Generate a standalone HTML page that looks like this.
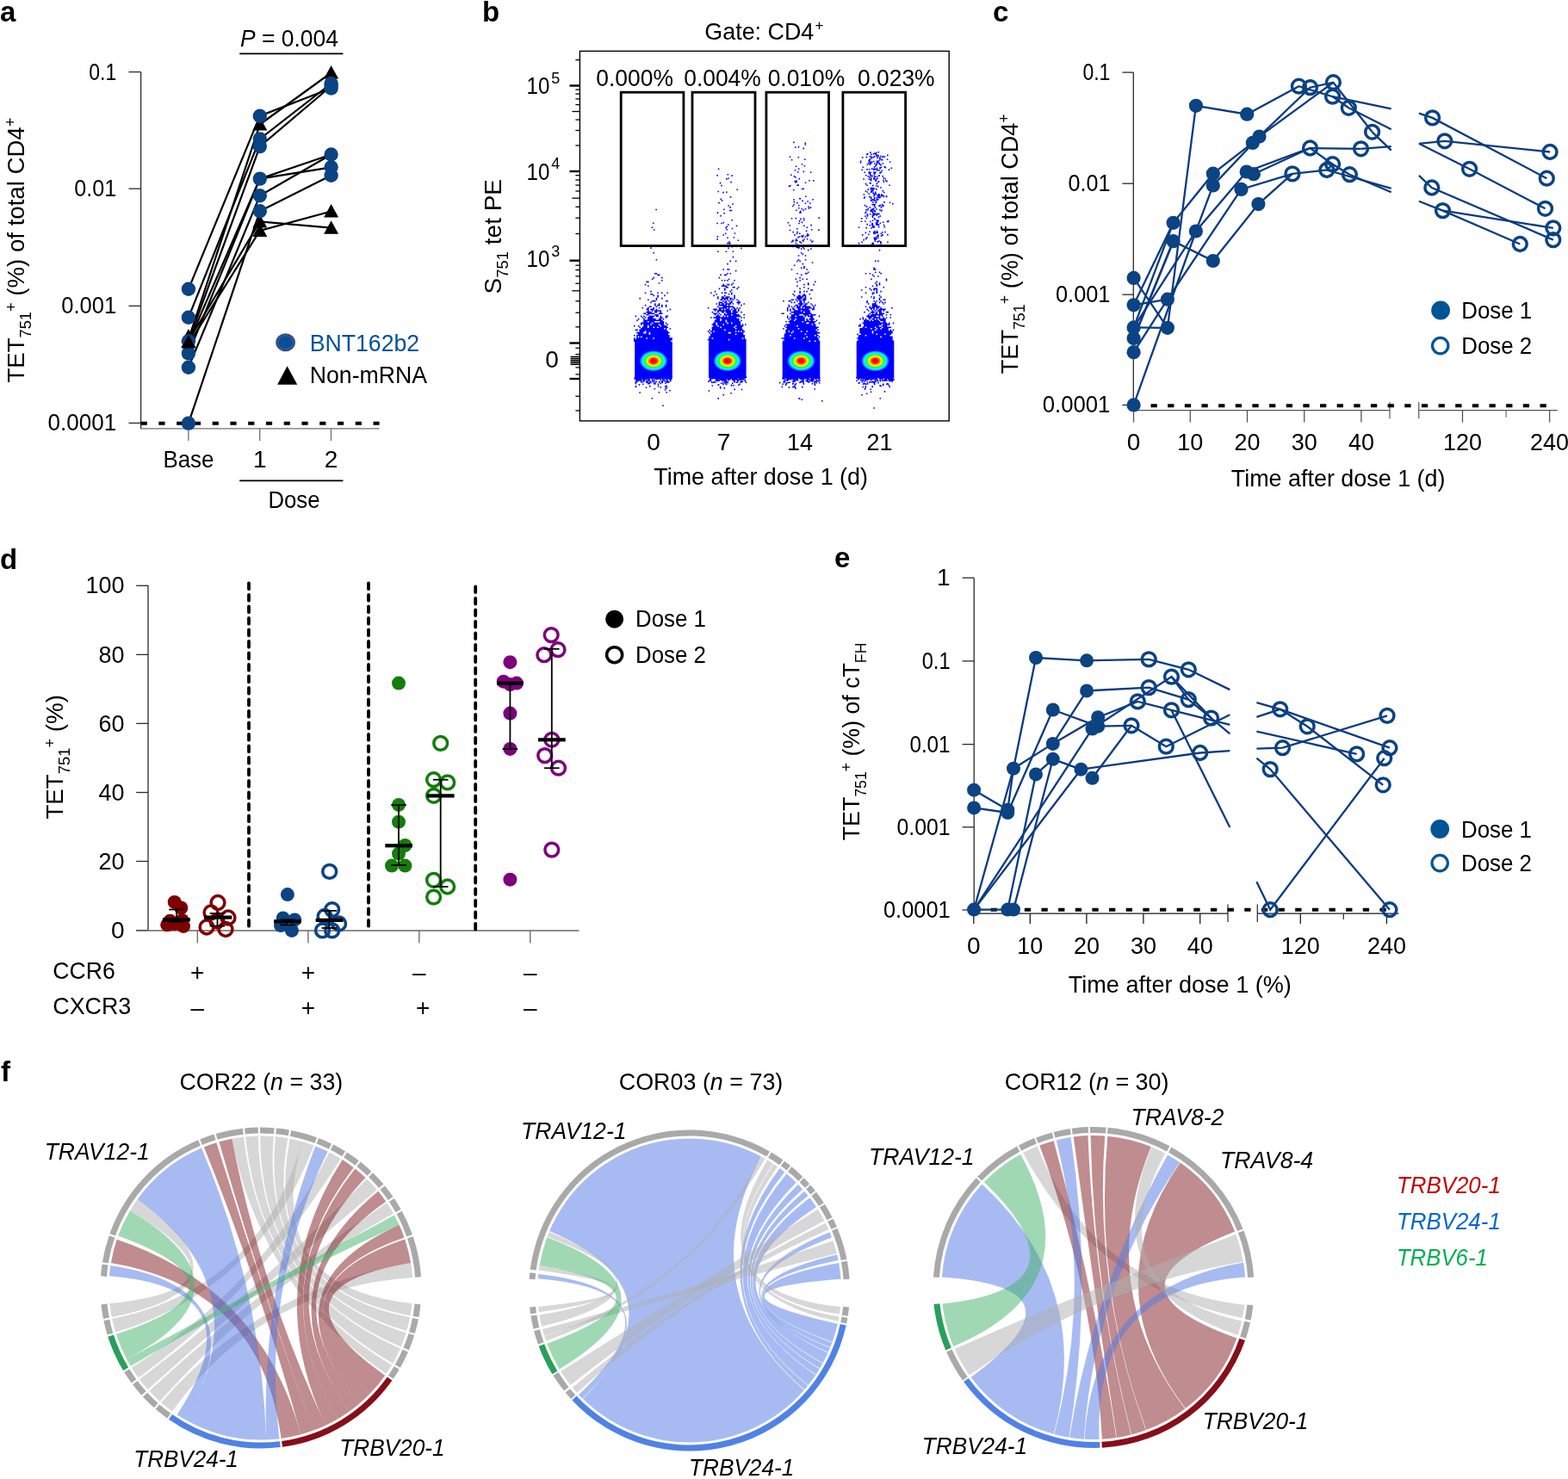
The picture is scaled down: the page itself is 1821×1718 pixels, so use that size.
<!DOCTYPE html>
<html><head><meta charset="utf-8"><title>Figure</title>
<style>html,body{margin:0;padding:0;background:#fff;} svg{display:block;}</style>
</head><body>
<svg width="1821" height="1718" viewBox="0 0 1821 1718" font-family="'Liberation Sans', Arial, Helvetica, sans-serif">
<text x="0" y="24.5" font-size="33" font-weight="bold">a</text>
<text x="560" y="24.5" font-size="33" font-weight="bold">b</text>
<text x="1153" y="24.5" font-size="33" font-weight="bold">c</text>
<text x="0" y="660.5" font-size="33" font-weight="bold">d</text>
<text x="969" y="659" font-size="33" font-weight="bold">e</text>
<text x="1" y="1256" font-size="33" font-weight="bold">f</text>
<line x1="163.6" y1="83.6" x2="163.6" y2="498.3" stroke="#2a2a2a" stroke-width="1.3"/>
<line x1="163" y1="497.8" x2="440.6" y2="497.8" stroke="#707070" stroke-width="1.3"/>
<line x1="149.5" y1="83.6" x2="163.6" y2="83.6" stroke="#2a2a2a" stroke-width="1.3"/>
<text x="135.2" y="92.5" font-size="28" text-anchor="end" textLength="32" lengthAdjust="spacingAndGlyphs">0.1</text>
<line x1="149.5" y1="219.2" x2="163.6" y2="219.2" stroke="#2a2a2a" stroke-width="1.3"/>
<text x="135.2" y="228.1" font-size="28" text-anchor="end" textLength="48.9" lengthAdjust="spacingAndGlyphs">0.01</text>
<line x1="149.5" y1="355.4" x2="163.6" y2="355.4" stroke="#2a2a2a" stroke-width="1.3"/>
<text x="135.2" y="364.3" font-size="28" text-anchor="end" textLength="63.9" lengthAdjust="spacingAndGlyphs">0.001</text>
<line x1="149.5" y1="491.4" x2="163.6" y2="491.4" stroke="#2a2a2a" stroke-width="1.3"/>
<text x="135.2" y="500.3" font-size="28" text-anchor="end" textLength="79.6" lengthAdjust="spacingAndGlyphs">0.0001</text>
<line x1="218.9" y1="497.8" x2="218.9" y2="512" stroke="#707070" stroke-width="1.3"/>
<line x1="301.7" y1="497.8" x2="301.7" y2="512" stroke="#707070" stroke-width="1.3"/>
<line x1="384.5" y1="497.8" x2="384.5" y2="512" stroke="#707070" stroke-width="1.3"/>
<text x="218.9" y="543.4" font-size="28" text-anchor="middle" textLength="59" lengthAdjust="spacingAndGlyphs">Base</text>
<text x="301.7" y="543.4" font-size="28" text-anchor="middle">1</text>
<text x="384.5" y="543.4" font-size="28" text-anchor="middle">2</text>
<line x1="278.2" y1="558.4" x2="398.4" y2="558.4" stroke="#000" stroke-width="1.6"/>
<text x="341.5" y="589.5" font-size="28" text-anchor="middle" textLength="60" lengthAdjust="spacingAndGlyphs">Dose</text>
<text x="279" y="53.8" font-size="28" textLength="114" lengthAdjust="spacingAndGlyphs"><tspan font-style="italic">P</tspan> = 0.004</text>
<line x1="278.2" y1="62.4" x2="398.4" y2="62.4" stroke="#000" stroke-width="1.6"/>
<line x1="163.6" y1="491.7" x2="440.6" y2="491.7" stroke="#000" stroke-width="3.9" stroke-dasharray="7.2 13.56"/>
<polyline points="218.9,335.8 301.8,134.7 384.6,102.5" fill="none" stroke="#000" stroke-width="2.2"/>
<polyline points="218.9,368.8 301.8,161.4 384.6,97" fill="none" stroke="#000" stroke-width="2.2"/>
<polyline points="218.9,396.2 301.8,170.1 384.6,100" fill="none" stroke="#000" stroke-width="2.2"/>
<polyline points="218.9,410.4 301.8,207.6 384.6,179.5" fill="none" stroke="#000" stroke-width="2.2"/>
<polyline points="218.9,398 301.8,207.6 384.6,194.3" fill="none" stroke="#000" stroke-width="2.2"/>
<polyline points="218.9,426.8 301.8,227.3 384.6,179.5" fill="none" stroke="#000" stroke-width="2.2"/>
<polyline points="218.9,491.6 301.8,245.2 384.6,203.7" fill="none" stroke="#000" stroke-width="2.2"/>
<polyline points="218.9,394 301.8,144.5 384.6,84.5" fill="none" stroke="#000" stroke-width="2.2"/>
<polyline points="218.9,396 301.8,257.5 384.6,264.7" fill="none" stroke="#000" stroke-width="2.2"/>
<polyline points="218.9,400 301.8,268 384.6,245.5" fill="none" stroke="#000" stroke-width="2.2"/>
<polygon points="218.9,382 227.4,397.5 210.4,397.5" fill="#000"/>
<polygon points="218.9,388 227.4,403.5 210.4,403.5" fill="#000"/>
<polygon points="301.8,136 310.3,151.5 293.3,151.5" fill="#000"/>
<polygon points="301.8,249 310.3,264.5 293.3,264.5" fill="#000"/>
<polygon points="301.8,259.5 310.3,275 293.3,275" fill="#000"/>
<polygon points="384.6,76 393.1,91.5 376.1,91.5" fill="#000"/>
<polygon points="384.6,237 393.1,252.5 376.1,252.5" fill="#000"/>
<polygon points="384.6,256.2 393.1,271.7 376.1,271.7" fill="#000"/>
<circle cx="218.9" cy="335.8" r="8.2" fill="#0b4383"/>
<circle cx="218.9" cy="368.8" r="8.2" fill="#0b4383"/>
<circle cx="218.9" cy="396.2" r="8.2" fill="#0b4383"/>
<circle cx="218.9" cy="410.4" r="8.2" fill="#0b4383"/>
<circle cx="218.9" cy="426.8" r="8.2" fill="#0b4383"/>
<circle cx="218.9" cy="491.6" r="8.2" fill="#0b4383"/>
<circle cx="301.8" cy="134.7" r="8.2" fill="#0b4383"/>
<circle cx="301.8" cy="161.4" r="8.2" fill="#0b4383"/>
<circle cx="301.8" cy="170.1" r="8.2" fill="#0b4383"/>
<circle cx="301.8" cy="207.6" r="8.2" fill="#0b4383"/>
<circle cx="301.8" cy="227.3" r="8.2" fill="#0b4383"/>
<circle cx="301.8" cy="245.2" r="8.2" fill="#0b4383"/>
<circle cx="384.6" cy="97" r="8.2" fill="#0b4383"/>
<circle cx="384.6" cy="100" r="8.2" fill="#0b4383"/>
<circle cx="384.6" cy="102.5" r="8.2" fill="#0b4383"/>
<circle cx="384.6" cy="179.5" r="8.2" fill="#0b4383"/>
<circle cx="384.6" cy="194.3" r="8.2" fill="#0b4383"/>
<circle cx="384.6" cy="203.7" r="8.2" fill="#0b4383"/>
<polygon points="218.9,389 227.4,404.5 210.4,404.5" fill="#000"/>
<ellipse cx="331.6" cy="397.7" rx="9.6" ry="8.7" fill="#005296" stroke="#34508f" stroke-width="3.6"/>
<text x="359.7" y="407.6" font-size="28" fill="#005296" textLength="127.5" lengthAdjust="spacingAndGlyphs">BNT162b2</text>
<polygon points="333.6,425.2 345.2,446.7 322.1,446.7" fill="#000"/>
<text x="359.7" y="445.2" font-size="28" textLength="136.5" lengthAdjust="spacingAndGlyphs">Non-mRNA</text>
<text transform="translate(27.7,444.6) rotate(-90)" font-size="28" textLength="308" lengthAdjust="spacingAndGlyphs">TET<tspan font-size="18.5" dy="8">751</tspan><tspan font-size="18.5" dy="-17">+</tspan><tspan dy="9"> (%) of total CD4</tspan><tspan font-size="18.5" dy="-10">+</tspan></text>
<defs><radialGradient id="jet" cx="0.5" cy="0.5" r="0.5"><stop offset="0" stop-color="#ff0000"/><stop offset="0.2" stop-color="#ff0800"/><stop offset="0.34" stop-color="#ff9000"/><stop offset="0.45" stop-color="#ffff00"/><stop offset="0.6" stop-color="#10ff30"/><stop offset="0.76" stop-color="#00ffff"/><stop offset="0.88" stop-color="#2a8cff"/><stop offset="1" stop-color="#0000ff"/></radialGradient></defs>
<text x="818.3" y="46.4" font-size="28" textLength="127" lengthAdjust="spacingAndGlyphs">Gate: CD4</text>
<text x="946.5" y="35" font-size="17">+</text>
<rect x="673.4" y="59.4" width="428.8" height="429.5" fill="none" stroke="#000" stroke-width="1.4"/>
<text x="737.1" y="100.2" font-size="28" text-anchor="middle" textLength="89.5" lengthAdjust="spacingAndGlyphs">0.000%</text>
<text x="839" y="100.2" font-size="28" text-anchor="middle" textLength="89.5" lengthAdjust="spacingAndGlyphs">0.004%</text>
<text x="936.4" y="100.2" font-size="28" text-anchor="middle" textLength="89.5" lengthAdjust="spacingAndGlyphs">0.010%</text>
<text x="1040.8" y="100.2" font-size="28" text-anchor="middle" textLength="89.5" lengthAdjust="spacingAndGlyphs">0.023%</text>
<line x1="668.4" y1="169" x2="673.4" y2="169" stroke="#000" stroke-width="1.3"/>
<line x1="668.4" y1="271.5" x2="673.4" y2="271.5" stroke="#000" stroke-width="1.3"/>
<line x1="668.4" y1="151.5" x2="673.4" y2="151.5" stroke="#000" stroke-width="1.3"/>
<line x1="668.4" y1="253.2" x2="673.4" y2="253.2" stroke="#000" stroke-width="1.3"/>
<line x1="668.4" y1="139.1" x2="673.4" y2="139.1" stroke="#000" stroke-width="1.3"/>
<line x1="668.4" y1="240.3" x2="673.4" y2="240.3" stroke="#000" stroke-width="1.3"/>
<line x1="664.4" y1="129.5" x2="673.4" y2="129.5" stroke="#000" stroke-width="1.3"/>
<line x1="664.4" y1="230.2" x2="673.4" y2="230.2" stroke="#000" stroke-width="1.3"/>
<line x1="668.4" y1="121.6" x2="673.4" y2="121.6" stroke="#000" stroke-width="1.3"/>
<line x1="668.4" y1="222" x2="673.4" y2="222" stroke="#000" stroke-width="1.3"/>
<line x1="668.4" y1="114.9" x2="673.4" y2="114.9" stroke="#000" stroke-width="1.3"/>
<line x1="668.4" y1="215.1" x2="673.4" y2="215.1" stroke="#000" stroke-width="1.3"/>
<line x1="668.4" y1="109.1" x2="673.4" y2="109.1" stroke="#000" stroke-width="1.3"/>
<line x1="668.4" y1="209" x2="673.4" y2="209" stroke="#000" stroke-width="1.3"/>
<line x1="668.4" y1="104.1" x2="673.4" y2="104.1" stroke="#000" stroke-width="1.3"/>
<line x1="668.4" y1="203.7" x2="673.4" y2="203.7" stroke="#000" stroke-width="1.3"/>
<line x1="668.4" y1="69.6" x2="673.4" y2="69.6" stroke="#000" stroke-width="1.3"/>
<line x1="668.4" y1="308.2" x2="673.4" y2="308.2" stroke="#000" stroke-width="1.3"/>
<line x1="668.4" y1="313.6" x2="673.4" y2="313.6" stroke="#000" stroke-width="1.3"/>
<line x1="668.4" y1="320.9" x2="673.4" y2="320.9" stroke="#000" stroke-width="1.3"/>
<line x1="668.4" y1="329.3" x2="673.4" y2="329.3" stroke="#000" stroke-width="1.3"/>
<line x1="668.4" y1="349.7" x2="673.4" y2="349.7" stroke="#000" stroke-width="1.3"/>
<line x1="668.4" y1="363.2" x2="673.4" y2="363.2" stroke="#000" stroke-width="1.3"/>
<line x1="668.4" y1="379.8" x2="673.4" y2="379.8" stroke="#000" stroke-width="1.3"/>
<line x1="668.4" y1="404.3" x2="673.4" y2="404.3" stroke="#000" stroke-width="1.3"/>
<line x1="668.4" y1="411.6" x2="673.4" y2="411.6" stroke="#000" stroke-width="1.3"/>
<line x1="668.4" y1="426.9" x2="673.4" y2="426.9" stroke="#000" stroke-width="1.3"/>
<line x1="668.4" y1="434.9" x2="673.4" y2="434.9" stroke="#000" stroke-width="1.3"/>
<line x1="668.4" y1="460.3" x2="673.4" y2="460.3" stroke="#000" stroke-width="1.3"/>
<line x1="668.4" y1="477" x2="673.4" y2="477" stroke="#000" stroke-width="1.3"/>
<line x1="664.4" y1="337.8" x2="673.4" y2="337.8" stroke="#000" stroke-width="1.3"/>
<line x1="661.5" y1="99.5" x2="673.4" y2="99.5" stroke="#000" stroke-width="2.4"/>
<line x1="661.5" y1="199" x2="673.4" y2="199" stroke="#000" stroke-width="2.4"/>
<line x1="661.5" y1="302.7" x2="673.4" y2="302.7" stroke="#000" stroke-width="2.4"/>
<line x1="661.5" y1="398.5" x2="673.4" y2="398.5" stroke="#000" stroke-width="2.4"/>
<line x1="661.5" y1="440" x2="673.4" y2="440" stroke="#000" stroke-width="2.4"/>
<line x1="662.5" y1="414.5" x2="673.4" y2="414.5" stroke="#000" stroke-width="1.6"/>
<line x1="662.5" y1="416.7" x2="673.4" y2="416.7" stroke="#000" stroke-width="1.6"/>
<line x1="662.5" y1="418.9" x2="673.4" y2="418.9" stroke="#000" stroke-width="1.6"/>
<line x1="662.5" y1="421.1" x2="673.4" y2="421.1" stroke="#000" stroke-width="1.6"/>
<line x1="662.5" y1="423.3" x2="673.4" y2="423.3" stroke="#000" stroke-width="1.6"/>
<text x="611.6" y="109.4" font-size="28" textLength="26.8" lengthAdjust="spacingAndGlyphs">10</text>
<text x="640.2" y="97.1" font-size="18">5</text>
<text x="611.6" y="208.5" font-size="28" textLength="26.8" lengthAdjust="spacingAndGlyphs">10</text>
<text x="640.2" y="196.2" font-size="18">4</text>
<text x="611.6" y="310.4" font-size="28" textLength="26.8" lengthAdjust="spacingAndGlyphs">10</text>
<text x="640.2" y="298.1" font-size="18">3</text>
<text x="648.8" y="426.9" font-size="28" text-anchor="end">0</text>
<text x="759" y="523.2" font-size="28" text-anchor="middle">0</text>
<text x="840.6" y="523.2" font-size="28" text-anchor="middle">7</text>
<text x="929" y="523.2" font-size="28" text-anchor="middle" textLength="30" lengthAdjust="spacingAndGlyphs">14</text>
<text x="1021.5" y="523.2" font-size="28" text-anchor="middle" textLength="30" lengthAdjust="spacingAndGlyphs">21</text>
<text x="759.3" y="563" font-size="28" textLength="248.7" lengthAdjust="spacingAndGlyphs">Time after dose 1 (d)</text>
<text transform="translate(582.2,341.4) rotate(-90)" font-size="28" textLength="133.4" lengthAdjust="spacingAndGlyphs">S<tspan font-size="18.5" dy="8">751</tspan><tspan dy="-8"> tet PE</tspan></text>
<rect x="737.2" y="397" width="43.6" height="42" fill="#0000ff"/>
<rect x="823.0" y="397" width="43.6" height="42" fill="#0000ff"/>
<rect x="908.7" y="397" width="43.6" height="42" fill="#0000ff"/>
<rect x="994.7" y="397" width="43.6" height="42" fill="#0000ff"/>
<path d="M750.6 438.1h1.6v1.6h-1.6zM764.8 437.8h1.6v1.6h-1.6zM759.8 439.1h1.6v1.6h-1.6zM739.0 440.0h1.6v1.6h-1.6zM738.1 439.5h1.6v1.6h-1.6zM739.5 437.8h1.6v1.6h-1.6zM755.0 443.6h1.6v1.6h-1.6zM741.9 438.4h1.6v1.6h-1.6zM763.8 447.8h1.6v1.6h-1.6zM761.6 439.3h1.6v1.6h-1.6zM779.0 437.7h1.6v1.6h-1.6zM773.8 438.7h1.6v1.6h-1.6zM742.8 437.9h1.6v1.6h-1.6zM749.9 443.4h1.6v1.6h-1.6zM744.4 440.5h1.6v1.6h-1.6zM764.3 439.1h1.6v1.6h-1.6zM760.3 437.7h1.6v1.6h-1.6zM739.1 438.3h1.6v1.6h-1.6zM766.1 439.5h1.6v1.6h-1.6zM750.2 440.6h1.6v1.6h-1.6zM756.2 438.7h1.6v1.6h-1.6zM771.1 441.7h1.6v1.6h-1.6zM747.1 440.5h1.6v1.6h-1.6zM759.3 444.8h1.6v1.6h-1.6zM768.2 438.7h1.6v1.6h-1.6zM779.1 437.9h1.6v1.6h-1.6zM754.7 442.5h1.6v1.6h-1.6zM743.1 439.8h1.6v1.6h-1.6zM738.2 441.4h1.6v1.6h-1.6zM769.8 440.5h1.6v1.6h-1.6zM774.6 438.8h1.6v1.6h-1.6zM766.7 440.7h1.6v1.6h-1.6zM761.7 439.6h1.6v1.6h-1.6zM773.0 447.6h1.6v1.6h-1.6zM757.1 441.3h1.6v1.6h-1.6zM739.1 441.7h1.6v1.6h-1.6zM764.7 454.9h1.6v1.6h-1.6zM772.3 438.7h1.6v1.6h-1.6zM753.3 441.4h1.6v1.6h-1.6zM737.5 439.7h1.6v1.6h-1.6zM743.8 437.9h1.6v1.6h-1.6zM739.1 442.6h1.6v1.6h-1.6zM742.1 438.5h1.6v1.6h-1.6zM753.5 444.7h1.6v1.6h-1.6zM740.0 439.6h1.6v1.6h-1.6zM760.4 445.0h1.6v1.6h-1.6zM772.1 444.5h1.6v1.6h-1.6zM748.6 439.4h1.6v1.6h-1.6zM752.1 445.0h1.6v1.6h-1.6zM778.2 438.1h1.6v1.6h-1.6zM744.2 438.4h1.6v1.6h-1.6zM746.7 439.8h1.6v1.6h-1.6zM762.1 438.6h1.6v1.6h-1.6zM736.7 439.4h1.6v1.6h-1.6zM752.6 440.4h1.6v1.6h-1.6zM778.0 441.6h1.6v1.6h-1.6zM758.9 440.9h1.6v1.6h-1.6zM765.9 437.7h1.6v1.6h-1.6zM775.6 442.8h1.6v1.6h-1.6zM774.5 443.1h1.6v1.6h-1.6zM753.6 439.3h1.6v1.6h-1.6zM741.0 441.0h1.6v1.6h-1.6zM739.2 437.7h1.6v1.6h-1.6zM745.6 438.1h1.6v1.6h-1.6zM751.3 437.7h1.6v1.6h-1.6zM736.5 438.1h1.6v1.6h-1.6zM740.9 439.1h1.6v1.6h-1.6zM737.6 444.8h1.6v1.6h-1.6zM763.2 438.1h1.6v1.6h-1.6zM747.5 439.0h1.6v1.6h-1.6zM752.3 438.0h1.6v1.6h-1.6zM773.4 454.9h1.6v1.6h-1.6zM756.8 439.8h1.6v1.6h-1.6zM740.2 437.9h1.6v1.6h-1.6zM751.4 438.6h1.6v1.6h-1.6zM772.6 438.1h1.6v1.6h-1.6zM737.5 448.1h1.6v1.6h-1.6zM759.5 438.1h1.6v1.6h-1.6zM760.1 437.6h1.6v1.6h-1.6zM759.5 450.9h1.6v1.6h-1.6zM774.1 441.7h1.6v1.6h-1.6zM747.9 439.1h1.6v1.6h-1.6zM743.8 442.7h1.6v1.6h-1.6zM759.7 442.8h1.6v1.6h-1.6zM750.8 438.4h1.6v1.6h-1.6zM771.8 452.2h1.6v1.6h-1.6zM773.6 443.2h1.6v1.6h-1.6zM772.1 442.2h1.6v1.6h-1.6zM746.4 440.1h1.6v1.6h-1.6zM752.0 437.6h1.6v1.6h-1.6zM737.7 438.6h1.6v1.6h-1.6zM747.8 441.6h1.6v1.6h-1.6zM778.1 439.6h1.6v1.6h-1.6zM777.3 453.0h1.6v1.6h-1.6zM778.0 439.1h1.6v1.6h-1.6zM746.1 438.4h1.6v1.6h-1.6zM745.1 438.3h1.6v1.6h-1.6zM763.6 445.6h1.6v1.6h-1.6zM773.1 439.8h1.6v1.6h-1.6zM764.9 443.1h1.6v1.6h-1.6zM740.2 441.3h1.6v1.6h-1.6zM776.1 442.8h1.6v1.6h-1.6zM769.1 439.8h1.6v1.6h-1.6zM744.3 442.9h1.6v1.6h-1.6zM751.0 443.1h1.6v1.6h-1.6zM778.8 439.3h1.6v1.6h-1.6zM754.0 447.8h1.6v1.6h-1.6zM768.0 438.2h1.6v1.6h-1.6zM742.0 438.1h1.6v1.6h-1.6zM775.9 443.2h1.6v1.6h-1.6zM769.2 470.5h1.6v1.6h-1.6zM772.4 450.5h1.6v1.6h-1.6zM752.3 444.0h1.6v1.6h-1.6zM768.2 443.1h1.6v1.6h-1.6zM771.8 448.2h1.6v1.6h-1.6zM756.6 462.0h1.6v1.6h-1.6zM742.3 455.2h1.6v1.6h-1.6zM766.4 444.7h1.6v1.6h-1.6zM758.9 444.9h1.6v1.6h-1.6zM766.5 449.2h1.6v1.6h-1.6zM736.0 395.4h1.6v1.6h-1.6zM737.6 395.4h1.6v1.6h-1.6zM739.2 395.4h1.6v1.6h-1.6zM740.8 395.4h1.6v1.6h-1.6zM742.4 395.4h1.6v1.6h-1.6zM744.0 395.4h1.6v1.6h-1.6zM745.6 395.4h1.6v1.6h-1.6zM747.2 395.4h1.6v1.6h-1.6zM748.8 395.4h1.6v1.6h-1.6zM750.4 395.4h1.6v1.6h-1.6zM752.0 395.4h1.6v1.6h-1.6zM753.6 395.4h1.6v1.6h-1.6zM755.2 395.4h1.6v1.6h-1.6zM756.8 395.4h1.6v1.6h-1.6zM758.4 395.4h1.6v1.6h-1.6zM760.0 395.4h1.6v1.6h-1.6zM761.6 395.4h1.6v1.6h-1.6zM763.2 395.4h1.6v1.6h-1.6zM764.8 395.4h1.6v1.6h-1.6zM766.4 395.4h1.6v1.6h-1.6zM768.0 395.4h1.6v1.6h-1.6zM769.6 395.4h1.6v1.6h-1.6zM771.2 395.4h1.6v1.6h-1.6zM772.8 395.4h1.6v1.6h-1.6zM774.4 395.4h1.6v1.6h-1.6zM776.0 395.4h1.6v1.6h-1.6zM777.6 395.4h1.6v1.6h-1.6zM736.0 393.8h1.6v1.6h-1.6zM737.6 393.8h1.6v1.6h-1.6zM739.2 393.8h1.6v1.6h-1.6zM740.8 393.8h1.6v1.6h-1.6zM742.4 393.8h1.6v1.6h-1.6zM744.0 393.8h1.6v1.6h-1.6zM745.6 393.8h1.6v1.6h-1.6zM747.2 393.8h1.6v1.6h-1.6zM748.8 393.8h1.6v1.6h-1.6zM750.4 393.8h1.6v1.6h-1.6zM752.0 393.8h1.6v1.6h-1.6zM753.6 393.8h1.6v1.6h-1.6zM755.2 393.8h1.6v1.6h-1.6zM756.8 393.8h1.6v1.6h-1.6zM758.4 393.8h1.6v1.6h-1.6zM760.0 393.8h1.6v1.6h-1.6zM761.6 393.8h1.6v1.6h-1.6zM763.2 393.8h1.6v1.6h-1.6zM764.8 393.8h1.6v1.6h-1.6zM766.4 393.8h1.6v1.6h-1.6zM768.0 393.8h1.6v1.6h-1.6zM769.6 393.8h1.6v1.6h-1.6zM771.2 393.8h1.6v1.6h-1.6zM772.8 393.8h1.6v1.6h-1.6zM774.4 393.8h1.6v1.6h-1.6zM776.0 393.8h1.6v1.6h-1.6zM777.6 393.8h1.6v1.6h-1.6zM779.2 393.8h1.6v1.6h-1.6zM736.0 392.2h1.6v1.6h-1.6zM739.2 392.2h1.6v1.6h-1.6zM740.8 392.2h1.6v1.6h-1.6zM742.4 392.2h1.6v1.6h-1.6zM744.0 392.2h1.6v1.6h-1.6zM745.6 392.2h1.6v1.6h-1.6zM747.2 392.2h1.6v1.6h-1.6zM748.8 392.2h1.6v1.6h-1.6zM752.0 392.2h1.6v1.6h-1.6zM753.6 392.2h1.6v1.6h-1.6zM755.2 392.2h1.6v1.6h-1.6zM756.8 392.2h1.6v1.6h-1.6zM760.0 392.2h1.6v1.6h-1.6zM761.6 392.2h1.6v1.6h-1.6zM763.2 392.2h1.6v1.6h-1.6zM764.8 392.2h1.6v1.6h-1.6zM766.4 392.2h1.6v1.6h-1.6zM768.0 392.2h1.6v1.6h-1.6zM769.6 392.2h1.6v1.6h-1.6zM771.2 392.2h1.6v1.6h-1.6zM772.8 392.2h1.6v1.6h-1.6zM774.4 392.2h1.6v1.6h-1.6zM776.0 392.2h1.6v1.6h-1.6zM777.6 392.2h1.6v1.6h-1.6zM779.2 392.2h1.6v1.6h-1.6zM739.2 390.6h1.6v1.6h-1.6zM742.4 390.6h1.6v1.6h-1.6zM745.6 390.6h1.6v1.6h-1.6zM747.2 390.6h1.6v1.6h-1.6zM748.8 390.6h1.6v1.6h-1.6zM750.4 390.6h1.6v1.6h-1.6zM752.0 390.6h1.6v1.6h-1.6zM753.6 390.6h1.6v1.6h-1.6zM755.2 390.6h1.6v1.6h-1.6zM756.8 390.6h1.6v1.6h-1.6zM758.4 390.6h1.6v1.6h-1.6zM760.0 390.6h1.6v1.6h-1.6zM761.6 390.6h1.6v1.6h-1.6zM763.2 390.6h1.6v1.6h-1.6zM764.8 390.6h1.6v1.6h-1.6zM766.4 390.6h1.6v1.6h-1.6zM768.0 390.6h1.6v1.6h-1.6zM769.6 390.6h1.6v1.6h-1.6zM771.2 390.6h1.6v1.6h-1.6zM772.8 390.6h1.6v1.6h-1.6zM774.4 390.6h1.6v1.6h-1.6zM776.0 390.6h1.6v1.6h-1.6zM736.0 389.0h1.6v1.6h-1.6zM739.2 389.0h1.6v1.6h-1.6zM740.8 389.0h1.6v1.6h-1.6zM742.4 389.0h1.6v1.6h-1.6zM744.0 389.0h1.6v1.6h-1.6zM745.6 389.0h1.6v1.6h-1.6zM747.2 389.0h1.6v1.6h-1.6zM748.8 389.0h1.6v1.6h-1.6zM750.4 389.0h1.6v1.6h-1.6zM752.0 389.0h1.6v1.6h-1.6zM753.6 389.0h1.6v1.6h-1.6zM755.2 389.0h1.6v1.6h-1.6zM756.8 389.0h1.6v1.6h-1.6zM758.4 389.0h1.6v1.6h-1.6zM760.0 389.0h1.6v1.6h-1.6zM761.6 389.0h1.6v1.6h-1.6zM763.2 389.0h1.6v1.6h-1.6zM764.8 389.0h1.6v1.6h-1.6zM766.4 389.0h1.6v1.6h-1.6zM768.0 389.0h1.6v1.6h-1.6zM769.6 389.0h1.6v1.6h-1.6zM771.2 389.0h1.6v1.6h-1.6zM772.8 389.0h1.6v1.6h-1.6zM774.4 389.0h1.6v1.6h-1.6zM776.0 389.0h1.6v1.6h-1.6zM740.8 387.4h1.6v1.6h-1.6zM742.4 387.4h1.6v1.6h-1.6zM744.0 387.4h1.6v1.6h-1.6zM745.6 387.4h1.6v1.6h-1.6zM747.2 387.4h1.6v1.6h-1.6zM748.8 387.4h1.6v1.6h-1.6zM750.4 387.4h1.6v1.6h-1.6zM752.0 387.4h1.6v1.6h-1.6zM755.2 387.4h1.6v1.6h-1.6zM756.8 387.4h1.6v1.6h-1.6zM758.4 387.4h1.6v1.6h-1.6zM760.0 387.4h1.6v1.6h-1.6zM761.6 387.4h1.6v1.6h-1.6zM763.2 387.4h1.6v1.6h-1.6zM764.8 387.4h1.6v1.6h-1.6zM766.4 387.4h1.6v1.6h-1.6zM768.0 387.4h1.6v1.6h-1.6zM769.6 387.4h1.6v1.6h-1.6zM771.2 387.4h1.6v1.6h-1.6zM772.8 387.4h1.6v1.6h-1.6zM774.4 387.4h1.6v1.6h-1.6zM739.2 385.8h1.6v1.6h-1.6zM740.8 385.8h1.6v1.6h-1.6zM742.4 385.8h1.6v1.6h-1.6zM744.0 385.8h1.6v1.6h-1.6zM745.6 385.8h1.6v1.6h-1.6zM750.4 385.8h1.6v1.6h-1.6zM752.0 385.8h1.6v1.6h-1.6zM755.2 385.8h1.6v1.6h-1.6zM756.8 385.8h1.6v1.6h-1.6zM758.4 385.8h1.6v1.6h-1.6zM760.0 385.8h1.6v1.6h-1.6zM761.6 385.8h1.6v1.6h-1.6zM763.2 385.8h1.6v1.6h-1.6zM764.8 385.8h1.6v1.6h-1.6zM766.4 385.8h1.6v1.6h-1.6zM768.0 385.8h1.6v1.6h-1.6zM769.6 385.8h1.6v1.6h-1.6zM771.2 385.8h1.6v1.6h-1.6zM772.8 385.8h1.6v1.6h-1.6zM774.4 385.8h1.6v1.6h-1.6zM776.0 385.8h1.6v1.6h-1.6zM742.4 384.2h1.6v1.6h-1.6zM744.0 384.2h1.6v1.6h-1.6zM745.6 384.2h1.6v1.6h-1.6zM747.2 384.2h1.6v1.6h-1.6zM750.4 384.2h1.6v1.6h-1.6zM752.0 384.2h1.6v1.6h-1.6zM753.6 384.2h1.6v1.6h-1.6zM755.2 384.2h1.6v1.6h-1.6zM756.8 384.2h1.6v1.6h-1.6zM758.4 384.2h1.6v1.6h-1.6zM760.0 384.2h1.6v1.6h-1.6zM761.6 384.2h1.6v1.6h-1.6zM763.2 384.2h1.6v1.6h-1.6zM764.8 384.2h1.6v1.6h-1.6zM766.4 384.2h1.6v1.6h-1.6zM768.0 384.2h1.6v1.6h-1.6zM769.6 384.2h1.6v1.6h-1.6zM771.2 384.2h1.6v1.6h-1.6zM772.8 384.2h1.6v1.6h-1.6zM774.4 384.2h1.6v1.6h-1.6zM737.6 382.6h1.6v1.6h-1.6zM739.2 382.6h1.6v1.6h-1.6zM742.4 382.6h1.6v1.6h-1.6zM744.0 382.6h1.6v1.6h-1.6zM745.6 382.6h1.6v1.6h-1.6zM747.2 382.6h1.6v1.6h-1.6zM748.8 382.6h1.6v1.6h-1.6zM750.4 382.6h1.6v1.6h-1.6zM752.0 382.6h1.6v1.6h-1.6zM753.6 382.6h1.6v1.6h-1.6zM755.2 382.6h1.6v1.6h-1.6zM756.8 382.6h1.6v1.6h-1.6zM758.4 382.6h1.6v1.6h-1.6zM760.0 382.6h1.6v1.6h-1.6zM761.6 382.6h1.6v1.6h-1.6zM763.2 382.6h1.6v1.6h-1.6zM764.8 382.6h1.6v1.6h-1.6zM766.4 382.6h1.6v1.6h-1.6zM768.0 382.6h1.6v1.6h-1.6zM769.6 382.6h1.6v1.6h-1.6zM771.2 382.6h1.6v1.6h-1.6zM772.8 382.6h1.6v1.6h-1.6zM744.0 381.0h1.6v1.6h-1.6zM745.6 381.0h1.6v1.6h-1.6zM747.2 381.0h1.6v1.6h-1.6zM748.8 381.0h1.6v1.6h-1.6zM750.4 381.0h1.6v1.6h-1.6zM752.0 381.0h1.6v1.6h-1.6zM753.6 381.0h1.6v1.6h-1.6zM755.2 381.0h1.6v1.6h-1.6zM756.8 381.0h1.6v1.6h-1.6zM758.4 381.0h1.6v1.6h-1.6zM760.0 381.0h1.6v1.6h-1.6zM761.6 381.0h1.6v1.6h-1.6zM763.2 381.0h1.6v1.6h-1.6zM764.8 381.0h1.6v1.6h-1.6zM766.4 381.0h1.6v1.6h-1.6zM768.0 381.0h1.6v1.6h-1.6zM769.6 381.0h1.6v1.6h-1.6zM772.8 381.0h1.6v1.6h-1.6zM777.6 381.0h1.6v1.6h-1.6zM742.4 379.4h1.6v1.6h-1.6zM745.6 379.4h1.6v1.6h-1.6zM747.2 379.4h1.6v1.6h-1.6zM748.8 379.4h1.6v1.6h-1.6zM750.4 379.4h1.6v1.6h-1.6zM753.6 379.4h1.6v1.6h-1.6zM755.2 379.4h1.6v1.6h-1.6zM756.8 379.4h1.6v1.6h-1.6zM760.0 379.4h1.6v1.6h-1.6zM761.6 379.4h1.6v1.6h-1.6zM764.8 379.4h1.6v1.6h-1.6zM766.4 379.4h1.6v1.6h-1.6zM768.0 379.4h1.6v1.6h-1.6zM769.6 379.4h1.6v1.6h-1.6zM771.2 379.4h1.6v1.6h-1.6zM772.8 379.4h1.6v1.6h-1.6zM774.4 379.4h1.6v1.6h-1.6zM736.0 377.8h1.6v1.6h-1.6zM740.8 377.8h1.6v1.6h-1.6zM747.2 377.8h1.6v1.6h-1.6zM748.8 377.8h1.6v1.6h-1.6zM750.4 377.8h1.6v1.6h-1.6zM753.6 377.8h1.6v1.6h-1.6zM755.2 377.8h1.6v1.6h-1.6zM756.8 377.8h1.6v1.6h-1.6zM758.4 377.8h1.6v1.6h-1.6zM760.0 377.8h1.6v1.6h-1.6zM761.6 377.8h1.6v1.6h-1.6zM763.2 377.8h1.6v1.6h-1.6zM764.8 377.8h1.6v1.6h-1.6zM768.0 377.8h1.6v1.6h-1.6zM769.6 377.8h1.6v1.6h-1.6zM771.2 377.8h1.6v1.6h-1.6zM772.8 377.8h1.6v1.6h-1.6zM744.0 376.2h1.6v1.6h-1.6zM747.2 376.2h1.6v1.6h-1.6zM748.8 376.2h1.6v1.6h-1.6zM750.4 376.2h1.6v1.6h-1.6zM752.0 376.2h1.6v1.6h-1.6zM753.6 376.2h1.6v1.6h-1.6zM756.8 376.2h1.6v1.6h-1.6zM758.4 376.2h1.6v1.6h-1.6zM760.0 376.2h1.6v1.6h-1.6zM761.6 376.2h1.6v1.6h-1.6zM763.2 376.2h1.6v1.6h-1.6zM766.4 376.2h1.6v1.6h-1.6zM768.0 376.2h1.6v1.6h-1.6zM769.6 376.2h1.6v1.6h-1.6zM774.4 376.2h1.6v1.6h-1.6zM744.0 374.6h1.6v1.6h-1.6zM745.6 374.6h1.6v1.6h-1.6zM747.2 374.6h1.6v1.6h-1.6zM748.8 374.6h1.6v1.6h-1.6zM750.4 374.6h1.6v1.6h-1.6zM752.0 374.6h1.6v1.6h-1.6zM753.6 374.6h1.6v1.6h-1.6zM755.2 374.6h1.6v1.6h-1.6zM758.4 374.6h1.6v1.6h-1.6zM760.0 374.6h1.6v1.6h-1.6zM761.6 374.6h1.6v1.6h-1.6zM763.2 374.6h1.6v1.6h-1.6zM764.8 374.6h1.6v1.6h-1.6zM766.4 374.6h1.6v1.6h-1.6zM768.0 374.6h1.6v1.6h-1.6zM769.6 374.6h1.6v1.6h-1.6zM772.8 374.6h1.6v1.6h-1.6zM747.2 373.0h1.6v1.6h-1.6zM748.8 373.0h1.6v1.6h-1.6zM750.4 373.0h1.6v1.6h-1.6zM753.6 373.0h1.6v1.6h-1.6zM755.2 373.0h1.6v1.6h-1.6zM756.8 373.0h1.6v1.6h-1.6zM758.4 373.0h1.6v1.6h-1.6zM766.4 373.0h1.6v1.6h-1.6zM768.0 373.0h1.6v1.6h-1.6zM769.6 373.0h1.6v1.6h-1.6zM739.2 371.4h1.6v1.6h-1.6zM747.2 371.4h1.6v1.6h-1.6zM748.8 371.4h1.6v1.6h-1.6zM750.4 371.4h1.6v1.6h-1.6zM752.0 371.4h1.6v1.6h-1.6zM753.6 371.4h1.6v1.6h-1.6zM755.2 371.4h1.6v1.6h-1.6zM756.8 371.4h1.6v1.6h-1.6zM758.4 371.4h1.6v1.6h-1.6zM760.0 371.4h1.6v1.6h-1.6zM761.6 371.4h1.6v1.6h-1.6zM763.2 371.4h1.6v1.6h-1.6zM764.8 371.4h1.6v1.6h-1.6zM766.4 371.4h1.6v1.6h-1.6zM768.0 371.4h1.6v1.6h-1.6zM740.8 369.8h1.6v1.6h-1.6zM747.2 369.8h1.6v1.6h-1.6zM752.0 369.8h1.6v1.6h-1.6zM753.6 369.8h1.6v1.6h-1.6zM755.2 369.8h1.6v1.6h-1.6zM756.8 369.8h1.6v1.6h-1.6zM758.4 369.8h1.6v1.6h-1.6zM760.0 369.8h1.6v1.6h-1.6zM764.8 369.8h1.6v1.6h-1.6zM766.4 369.8h1.6v1.6h-1.6zM769.6 369.8h1.6v1.6h-1.6zM745.6 368.2h1.6v1.6h-1.6zM748.8 368.2h1.6v1.6h-1.6zM752.0 368.2h1.6v1.6h-1.6zM753.6 368.2h1.6v1.6h-1.6zM755.2 368.2h1.6v1.6h-1.6zM756.8 368.2h1.6v1.6h-1.6zM766.4 368.2h1.6v1.6h-1.6zM768.0 368.2h1.6v1.6h-1.6zM772.8 368.2h1.6v1.6h-1.6zM737.6 366.6h1.6v1.6h-1.6zM744.0 366.6h1.6v1.6h-1.6zM747.2 366.6h1.6v1.6h-1.6zM753.6 366.6h1.6v1.6h-1.6zM755.2 366.6h1.6v1.6h-1.6zM756.8 366.6h1.6v1.6h-1.6zM758.4 366.6h1.6v1.6h-1.6zM761.6 366.6h1.6v1.6h-1.6zM763.2 366.6h1.6v1.6h-1.6zM766.4 366.6h1.6v1.6h-1.6zM772.8 366.6h1.6v1.6h-1.6zM774.4 366.6h1.6v1.6h-1.6zM750.4 365.0h1.6v1.6h-1.6zM752.0 365.0h1.6v1.6h-1.6zM760.0 365.0h1.6v1.6h-1.6zM761.6 365.0h1.6v1.6h-1.6zM763.2 365.0h1.6v1.6h-1.6zM747.2 363.4h1.6v1.6h-1.6zM748.8 363.4h1.6v1.6h-1.6zM752.0 363.4h1.6v1.6h-1.6zM753.6 363.4h1.6v1.6h-1.6zM755.2 363.4h1.6v1.6h-1.6zM756.8 363.4h1.6v1.6h-1.6zM758.4 363.4h1.6v1.6h-1.6zM764.8 363.4h1.6v1.6h-1.6zM766.4 363.4h1.6v1.6h-1.6zM768.0 363.4h1.6v1.6h-1.6zM750.4 361.8h1.6v1.6h-1.6zM752.0 361.8h1.6v1.6h-1.6zM753.6 361.8h1.6v1.6h-1.6zM755.2 361.8h1.6v1.6h-1.6zM760.0 361.8h1.6v1.6h-1.6zM761.6 361.8h1.6v1.6h-1.6zM766.4 361.8h1.6v1.6h-1.6zM752.0 360.2h1.6v1.6h-1.6zM756.8 360.2h1.6v1.6h-1.6zM760.0 360.2h1.6v1.6h-1.6zM761.6 360.2h1.6v1.6h-1.6zM763.2 360.2h1.6v1.6h-1.6zM764.8 360.2h1.6v1.6h-1.6zM766.4 360.2h1.6v1.6h-1.6zM774.4 360.2h1.6v1.6h-1.6zM750.4 358.6h1.6v1.6h-1.6zM752.0 358.6h1.6v1.6h-1.6zM755.2 358.6h1.6v1.6h-1.6zM756.8 358.6h1.6v1.6h-1.6zM758.4 358.6h1.6v1.6h-1.6zM761.6 358.6h1.6v1.6h-1.6zM777.6 358.6h1.6v1.6h-1.6zM745.6 357.0h1.6v1.6h-1.6zM752.0 357.0h1.6v1.6h-1.6zM758.4 357.0h1.6v1.6h-1.6zM764.8 357.0h1.6v1.6h-1.6zM753.6 355.4h1.6v1.6h-1.6zM755.2 355.4h1.6v1.6h-1.6zM761.6 355.4h1.6v1.6h-1.6zM768.0 355.4h1.6v1.6h-1.6zM772.8 355.4h1.6v1.6h-1.6zM748.8 353.8h1.6v1.6h-1.6zM760.0 353.8h1.6v1.6h-1.6zM763.2 353.8h1.6v1.6h-1.6zM764.8 353.8h1.6v1.6h-1.6zM768.0 353.8h1.6v1.6h-1.6zM772.8 353.8h1.6v1.6h-1.6zM760.0 352.2h1.6v1.6h-1.6zM764.8 352.2h1.6v1.6h-1.6zM755.2 350.6h1.6v1.6h-1.6zM756.8 349.0h1.6v1.6h-1.6zM758.4 349.0h1.6v1.6h-1.6zM760.0 349.0h1.6v1.6h-1.6zM772.8 349.0h1.6v1.6h-1.6zM774.4 349.0h1.6v1.6h-1.6zM752.0 347.4h1.6v1.6h-1.6zM761.6 347.4h1.6v1.6h-1.6zM742.4 345.8h1.6v1.6h-1.6zM761.6 345.8h1.6v1.6h-1.6zM768.0 345.8h1.6v1.6h-1.6zM763.2 344.2h1.6v1.6h-1.6zM758.4 342.6h1.6v1.6h-1.6zM763.2 342.6h1.6v1.6h-1.6zM771.2 342.6h1.6v1.6h-1.6zM755.2 341.0h1.6v1.6h-1.6zM756.8 341.0h1.6v1.6h-1.6zM748.8 339.4h1.6v1.6h-1.6zM763.2 339.4h1.6v1.6h-1.6zM768.0 339.4h1.6v1.6h-1.6zM774.4 339.4h1.6v1.6h-1.6zM755.2 337.8h1.6v1.6h-1.6zM752.0 331.4h1.6v1.6h-1.6zM748.8 329.8h1.6v1.6h-1.6zM764.8 328.2h1.6v1.6h-1.6zM750.4 326.6h1.6v1.6h-1.6zM752.0 326.6h1.6v1.6h-1.6zM768.0 325.0h1.6v1.6h-1.6zM756.8 323.4h1.6v1.6h-1.6zM758.4 321.8h1.6v1.6h-1.6zM768.0 321.8h1.6v1.6h-1.6zM763.2 318.6h1.6v1.6h-1.6zM764.8 318.6h1.6v1.6h-1.6zM760.0 317.0h1.6v1.6h-1.6zM761.6 317.0h1.6v1.6h-1.6zM761.6 301.0h1.6v1.6h-1.6zM758.4 293.0h1.6v1.6h-1.6zM752.0 285.0h1.6v1.6h-1.6zM757.9 258.4h1.6v1.6h-1.6zM755.2 287.3h1.6v1.6h-1.6zM758.9 266.2h1.6v1.6h-1.6zM761.3 242.7h1.6v1.6h-1.6zM756.7 263.4h1.6v1.6h-1.6zM776.9 439.0h1.6v1.6h-1.6zM743.3 438.4h1.6v1.6h-1.6zM768.4 443.6h1.6v1.6h-1.6zM743.9 438.1h1.6v1.6h-1.6zM770.1 438.6h1.6v1.6h-1.6zM778.7 439.5h1.6v1.6h-1.6zM764.0 438.9h1.6v1.6h-1.6zM771.0 439.4h1.6v1.6h-1.6zM750.8 443.1h1.6v1.6h-1.6zM741.6 440.9h1.6v1.6h-1.6zM739.8 440.3h1.6v1.6h-1.6zM754.1 442.4h1.6v1.6h-1.6zM739.5 439.8h1.6v1.6h-1.6zM754.4 443.5h1.6v1.6h-1.6zM777.2 440.2h1.6v1.6h-1.6zM746.5 438.6h1.6v1.6h-1.6zM748.1 439.3h1.6v1.6h-1.6zM746.8 438.5h1.6v1.6h-1.6zM769.3 440.3h1.6v1.6h-1.6zM749.7 449.4h1.6v1.6h-1.6zM746.2 439.9h1.6v1.6h-1.6zM743.7 442.4h1.6v1.6h-1.6zM773.9 438.7h1.6v1.6h-1.6zM768.9 441.8h1.6v1.6h-1.6zM749.0 438.9h1.6v1.6h-1.6zM757.6 442.9h1.6v1.6h-1.6zM743.9 440.5h1.6v1.6h-1.6zM762.4 439.3h1.6v1.6h-1.6zM761.6 442.7h1.6v1.6h-1.6zM745.9 442.7h1.6v1.6h-1.6zM752.3 441.3h1.6v1.6h-1.6zM773.7 438.4h1.6v1.6h-1.6zM773.7 449.6h1.6v1.6h-1.6zM749.6 438.1h1.6v1.6h-1.6zM741.7 446.1h1.6v1.6h-1.6zM737.4 443.3h1.6v1.6h-1.6zM743.4 440.9h1.6v1.6h-1.6zM741.1 438.4h1.6v1.6h-1.6zM766.0 438.2h1.6v1.6h-1.6zM751.4 443.5h1.6v1.6h-1.6zM767.4 442.7h1.6v1.6h-1.6zM778.6 438.1h1.6v1.6h-1.6zM747.0 441.5h1.6v1.6h-1.6zM766.3 438.1h1.6v1.6h-1.6zM758.5 438.6h1.6v1.6h-1.6zM755.3 438.2h1.6v1.6h-1.6zM737.8 448.3h1.6v1.6h-1.6zM750.5 442.6h1.6v1.6h-1.6zM742.1 439.5h1.6v1.6h-1.6zM742.8 439.2h1.6v1.6h-1.6zM744.6 440.5h1.6v1.6h-1.6zM743.3 440.9h1.6v1.6h-1.6zM758.3 438.3h1.6v1.6h-1.6zM752.0 439.5h1.6v1.6h-1.6zM776.0 438.9h1.6v1.6h-1.6zM746.1 445.5h1.6v1.6h-1.6zM774.5 440.9h1.6v1.6h-1.6zM748.6 438.4h1.6v1.6h-1.6zM748.2 438.2h1.6v1.6h-1.6zM738.8 439.6h1.6v1.6h-1.6zM840.1 440.3h1.6v1.6h-1.6zM838.1 437.5h1.6v1.6h-1.6zM852.2 441.2h1.6v1.6h-1.6zM846.0 440.3h1.6v1.6h-1.6zM852.3 451.6h1.6v1.6h-1.6zM860.3 441.9h1.6v1.6h-1.6zM839.7 438.8h1.6v1.6h-1.6zM840.5 450.1h1.6v1.6h-1.6zM839.1 439.2h1.6v1.6h-1.6zM840.1 438.0h1.6v1.6h-1.6zM865.7 437.5h1.6v1.6h-1.6zM848.7 446.6h1.6v1.6h-1.6zM833.4 440.8h1.6v1.6h-1.6zM838.7 438.5h1.6v1.6h-1.6zM830.9 437.9h1.6v1.6h-1.6zM859.0 442.9h1.6v1.6h-1.6zM861.8 437.7h1.6v1.6h-1.6zM852.5 438.9h1.6v1.6h-1.6zM850.4 440.3h1.6v1.6h-1.6zM836.0 450.0h1.6v1.6h-1.6zM822.3 442.3h1.6v1.6h-1.6zM859.4 440.0h1.6v1.6h-1.6zM848.1 455.9h1.6v1.6h-1.6zM832.5 441.0h1.6v1.6h-1.6zM854.6 439.2h1.6v1.6h-1.6zM853.3 439.3h1.6v1.6h-1.6zM845.2 440.8h1.6v1.6h-1.6zM851.8 438.9h1.6v1.6h-1.6zM849.7 440.2h1.6v1.6h-1.6zM832.0 440.8h1.6v1.6h-1.6zM833.8 445.9h1.6v1.6h-1.6zM842.9 442.0h1.6v1.6h-1.6zM845.0 439.8h1.6v1.6h-1.6zM831.9 438.0h1.6v1.6h-1.6zM862.6 440.1h1.6v1.6h-1.6zM845.1 440.1h1.6v1.6h-1.6zM857.7 438.5h1.6v1.6h-1.6zM829.8 443.5h1.6v1.6h-1.6zM842.3 441.1h1.6v1.6h-1.6zM858.3 445.4h1.6v1.6h-1.6zM860.0 437.7h1.6v1.6h-1.6zM838.9 443.7h1.6v1.6h-1.6zM857.9 438.0h1.6v1.6h-1.6zM829.0 438.5h1.6v1.6h-1.6zM826.8 439.0h1.6v1.6h-1.6zM857.2 440.1h1.6v1.6h-1.6zM842.0 437.8h1.6v1.6h-1.6zM839.5 457.8h1.6v1.6h-1.6zM852.5 439.6h1.6v1.6h-1.6zM843.1 443.1h1.6v1.6h-1.6zM855.3 438.1h1.6v1.6h-1.6zM851.9 439.1h1.6v1.6h-1.6zM845.0 438.4h1.6v1.6h-1.6zM838.4 439.0h1.6v1.6h-1.6zM838.9 437.6h1.6v1.6h-1.6zM831.0 440.5h1.6v1.6h-1.6zM824.8 438.2h1.6v1.6h-1.6zM853.5 438.6h1.6v1.6h-1.6zM836.4 438.5h1.6v1.6h-1.6zM858.6 437.8h1.6v1.6h-1.6zM850.0 444.4h1.6v1.6h-1.6zM831.1 439.4h1.6v1.6h-1.6zM856.8 440.9h1.6v1.6h-1.6zM838.5 437.7h1.6v1.6h-1.6zM841.6 439.1h1.6v1.6h-1.6zM853.3 438.7h1.6v1.6h-1.6zM840.0 441.2h1.6v1.6h-1.6zM857.6 439.0h1.6v1.6h-1.6zM839.1 440.5h1.6v1.6h-1.6zM862.5 438.2h1.6v1.6h-1.6zM864.6 441.9h1.6v1.6h-1.6zM838.5 441.3h1.6v1.6h-1.6zM836.6 437.8h1.6v1.6h-1.6zM855.2 439.2h1.6v1.6h-1.6zM845.2 439.9h1.6v1.6h-1.6zM861.5 442.5h1.6v1.6h-1.6zM823.4 440.6h1.6v1.6h-1.6zM842.4 439.7h1.6v1.6h-1.6zM858.8 439.4h1.6v1.6h-1.6zM842.9 445.2h1.6v1.6h-1.6zM841.4 439.9h1.6v1.6h-1.6zM844.6 443.6h1.6v1.6h-1.6zM851.5 442.2h1.6v1.6h-1.6zM839.8 437.6h1.6v1.6h-1.6zM851.9 440.3h1.6v1.6h-1.6zM855.8 442.6h1.6v1.6h-1.6zM827.4 438.4h1.6v1.6h-1.6zM825.7 443.5h1.6v1.6h-1.6zM826.7 437.8h1.6v1.6h-1.6zM855.1 440.4h1.6v1.6h-1.6zM824.7 441.5h1.6v1.6h-1.6zM853.2 439.8h1.6v1.6h-1.6zM824.7 441.6h1.6v1.6h-1.6zM840.5 440.6h1.6v1.6h-1.6zM865.7 443.4h1.6v1.6h-1.6zM860.2 438.1h1.6v1.6h-1.6zM836.8 440.1h1.6v1.6h-1.6zM822.6 453.2h1.6v1.6h-1.6zM834.2 438.6h1.6v1.6h-1.6zM835.9 438.5h1.6v1.6h-1.6zM859.7 440.3h1.6v1.6h-1.6zM844.5 439.4h1.6v1.6h-1.6zM824.5 438.8h1.6v1.6h-1.6zM860.0 443.2h1.6v1.6h-1.6zM859.6 438.5h1.6v1.6h-1.6zM831.1 437.7h1.6v1.6h-1.6zM845.7 439.1h1.6v1.6h-1.6zM842.5 439.8h1.6v1.6h-1.6zM847.7 439.1h1.6v1.6h-1.6zM857.2 438.3h1.6v1.6h-1.6zM854.8 443.4h1.6v1.6h-1.6zM839.2 445.6h1.6v1.6h-1.6zM835.8 448.8h1.6v1.6h-1.6zM842.9 445.7h1.6v1.6h-1.6zM842.4 445.4h1.6v1.6h-1.6zM860.7 451.7h1.6v1.6h-1.6zM848.7 447.2h1.6v1.6h-1.6zM833.4 462.1h1.6v1.6h-1.6zM827.4 443.4h1.6v1.6h-1.6zM851.1 447.0h1.6v1.6h-1.6zM823.4 395.4h1.6v1.6h-1.6zM825.0 395.4h1.6v1.6h-1.6zM826.6 395.4h1.6v1.6h-1.6zM828.2 395.4h1.6v1.6h-1.6zM829.8 395.4h1.6v1.6h-1.6zM831.4 395.4h1.6v1.6h-1.6zM833.0 395.4h1.6v1.6h-1.6zM834.6 395.4h1.6v1.6h-1.6zM836.2 395.4h1.6v1.6h-1.6zM837.8 395.4h1.6v1.6h-1.6zM839.4 395.4h1.6v1.6h-1.6zM841.0 395.4h1.6v1.6h-1.6zM842.6 395.4h1.6v1.6h-1.6zM844.2 395.4h1.6v1.6h-1.6zM845.8 395.4h1.6v1.6h-1.6zM847.4 395.4h1.6v1.6h-1.6zM849.0 395.4h1.6v1.6h-1.6zM850.6 395.4h1.6v1.6h-1.6zM852.2 395.4h1.6v1.6h-1.6zM853.8 395.4h1.6v1.6h-1.6zM855.4 395.4h1.6v1.6h-1.6zM857.0 395.4h1.6v1.6h-1.6zM858.6 395.4h1.6v1.6h-1.6zM860.2 395.4h1.6v1.6h-1.6zM861.8 395.4h1.6v1.6h-1.6zM863.4 395.4h1.6v1.6h-1.6zM865.0 395.4h1.6v1.6h-1.6zM821.8 393.8h1.6v1.6h-1.6zM823.4 393.8h1.6v1.6h-1.6zM825.0 393.8h1.6v1.6h-1.6zM826.6 393.8h1.6v1.6h-1.6zM828.2 393.8h1.6v1.6h-1.6zM829.8 393.8h1.6v1.6h-1.6zM831.4 393.8h1.6v1.6h-1.6zM833.0 393.8h1.6v1.6h-1.6zM834.6 393.8h1.6v1.6h-1.6zM836.2 393.8h1.6v1.6h-1.6zM837.8 393.8h1.6v1.6h-1.6zM839.4 393.8h1.6v1.6h-1.6zM841.0 393.8h1.6v1.6h-1.6zM842.6 393.8h1.6v1.6h-1.6zM844.2 393.8h1.6v1.6h-1.6zM847.4 393.8h1.6v1.6h-1.6zM849.0 393.8h1.6v1.6h-1.6zM850.6 393.8h1.6v1.6h-1.6zM852.2 393.8h1.6v1.6h-1.6zM853.8 393.8h1.6v1.6h-1.6zM855.4 393.8h1.6v1.6h-1.6zM857.0 393.8h1.6v1.6h-1.6zM858.6 393.8h1.6v1.6h-1.6zM860.2 393.8h1.6v1.6h-1.6zM861.8 393.8h1.6v1.6h-1.6zM863.4 393.8h1.6v1.6h-1.6zM865.0 393.8h1.6v1.6h-1.6zM823.4 392.2h1.6v1.6h-1.6zM825.0 392.2h1.6v1.6h-1.6zM828.2 392.2h1.6v1.6h-1.6zM829.8 392.2h1.6v1.6h-1.6zM831.4 392.2h1.6v1.6h-1.6zM833.0 392.2h1.6v1.6h-1.6zM834.6 392.2h1.6v1.6h-1.6zM836.2 392.2h1.6v1.6h-1.6zM837.8 392.2h1.6v1.6h-1.6zM839.4 392.2h1.6v1.6h-1.6zM841.0 392.2h1.6v1.6h-1.6zM842.6 392.2h1.6v1.6h-1.6zM844.2 392.2h1.6v1.6h-1.6zM845.8 392.2h1.6v1.6h-1.6zM847.4 392.2h1.6v1.6h-1.6zM849.0 392.2h1.6v1.6h-1.6zM850.6 392.2h1.6v1.6h-1.6zM852.2 392.2h1.6v1.6h-1.6zM853.8 392.2h1.6v1.6h-1.6zM855.4 392.2h1.6v1.6h-1.6zM857.0 392.2h1.6v1.6h-1.6zM858.6 392.2h1.6v1.6h-1.6zM860.2 392.2h1.6v1.6h-1.6zM863.4 392.2h1.6v1.6h-1.6zM823.4 390.6h1.6v1.6h-1.6zM825.0 390.6h1.6v1.6h-1.6zM826.6 390.6h1.6v1.6h-1.6zM828.2 390.6h1.6v1.6h-1.6zM829.8 390.6h1.6v1.6h-1.6zM831.4 390.6h1.6v1.6h-1.6zM833.0 390.6h1.6v1.6h-1.6zM834.6 390.6h1.6v1.6h-1.6zM836.2 390.6h1.6v1.6h-1.6zM837.8 390.6h1.6v1.6h-1.6zM839.4 390.6h1.6v1.6h-1.6zM841.0 390.6h1.6v1.6h-1.6zM842.6 390.6h1.6v1.6h-1.6zM844.2 390.6h1.6v1.6h-1.6zM845.8 390.6h1.6v1.6h-1.6zM847.4 390.6h1.6v1.6h-1.6zM849.0 390.6h1.6v1.6h-1.6zM850.6 390.6h1.6v1.6h-1.6zM852.2 390.6h1.6v1.6h-1.6zM853.8 390.6h1.6v1.6h-1.6zM855.4 390.6h1.6v1.6h-1.6zM857.0 390.6h1.6v1.6h-1.6zM858.6 390.6h1.6v1.6h-1.6zM860.2 390.6h1.6v1.6h-1.6zM861.8 390.6h1.6v1.6h-1.6zM863.4 390.6h1.6v1.6h-1.6zM825.0 389.0h1.6v1.6h-1.6zM826.6 389.0h1.6v1.6h-1.6zM828.2 389.0h1.6v1.6h-1.6zM829.8 389.0h1.6v1.6h-1.6zM831.4 389.0h1.6v1.6h-1.6zM833.0 389.0h1.6v1.6h-1.6zM834.6 389.0h1.6v1.6h-1.6zM836.2 389.0h1.6v1.6h-1.6zM837.8 389.0h1.6v1.6h-1.6zM839.4 389.0h1.6v1.6h-1.6zM841.0 389.0h1.6v1.6h-1.6zM842.6 389.0h1.6v1.6h-1.6zM844.2 389.0h1.6v1.6h-1.6zM845.8 389.0h1.6v1.6h-1.6zM847.4 389.0h1.6v1.6h-1.6zM849.0 389.0h1.6v1.6h-1.6zM850.6 389.0h1.6v1.6h-1.6zM852.2 389.0h1.6v1.6h-1.6zM853.8 389.0h1.6v1.6h-1.6zM855.4 389.0h1.6v1.6h-1.6zM857.0 389.0h1.6v1.6h-1.6zM858.6 389.0h1.6v1.6h-1.6zM860.2 389.0h1.6v1.6h-1.6zM861.8 389.0h1.6v1.6h-1.6zM863.4 389.0h1.6v1.6h-1.6zM825.0 387.4h1.6v1.6h-1.6zM826.6 387.4h1.6v1.6h-1.6zM828.2 387.4h1.6v1.6h-1.6zM829.8 387.4h1.6v1.6h-1.6zM831.4 387.4h1.6v1.6h-1.6zM833.0 387.4h1.6v1.6h-1.6zM834.6 387.4h1.6v1.6h-1.6zM836.2 387.4h1.6v1.6h-1.6zM837.8 387.4h1.6v1.6h-1.6zM839.4 387.4h1.6v1.6h-1.6zM841.0 387.4h1.6v1.6h-1.6zM842.6 387.4h1.6v1.6h-1.6zM844.2 387.4h1.6v1.6h-1.6zM845.8 387.4h1.6v1.6h-1.6zM847.4 387.4h1.6v1.6h-1.6zM849.0 387.4h1.6v1.6h-1.6zM850.6 387.4h1.6v1.6h-1.6zM852.2 387.4h1.6v1.6h-1.6zM855.4 387.4h1.6v1.6h-1.6zM857.0 387.4h1.6v1.6h-1.6zM858.6 387.4h1.6v1.6h-1.6zM860.2 387.4h1.6v1.6h-1.6zM861.8 387.4h1.6v1.6h-1.6zM823.4 385.8h1.6v1.6h-1.6zM826.6 385.8h1.6v1.6h-1.6zM828.2 385.8h1.6v1.6h-1.6zM829.8 385.8h1.6v1.6h-1.6zM831.4 385.8h1.6v1.6h-1.6zM833.0 385.8h1.6v1.6h-1.6zM834.6 385.8h1.6v1.6h-1.6zM836.2 385.8h1.6v1.6h-1.6zM837.8 385.8h1.6v1.6h-1.6zM839.4 385.8h1.6v1.6h-1.6zM841.0 385.8h1.6v1.6h-1.6zM842.6 385.8h1.6v1.6h-1.6zM844.2 385.8h1.6v1.6h-1.6zM849.0 385.8h1.6v1.6h-1.6zM850.6 385.8h1.6v1.6h-1.6zM852.2 385.8h1.6v1.6h-1.6zM853.8 385.8h1.6v1.6h-1.6zM855.4 385.8h1.6v1.6h-1.6zM857.0 385.8h1.6v1.6h-1.6zM858.6 385.8h1.6v1.6h-1.6zM860.2 385.8h1.6v1.6h-1.6zM861.8 385.8h1.6v1.6h-1.6zM821.8 384.2h1.6v1.6h-1.6zM825.0 384.2h1.6v1.6h-1.6zM826.6 384.2h1.6v1.6h-1.6zM829.8 384.2h1.6v1.6h-1.6zM831.4 384.2h1.6v1.6h-1.6zM833.0 384.2h1.6v1.6h-1.6zM834.6 384.2h1.6v1.6h-1.6zM836.2 384.2h1.6v1.6h-1.6zM837.8 384.2h1.6v1.6h-1.6zM839.4 384.2h1.6v1.6h-1.6zM841.0 384.2h1.6v1.6h-1.6zM842.6 384.2h1.6v1.6h-1.6zM844.2 384.2h1.6v1.6h-1.6zM845.8 384.2h1.6v1.6h-1.6zM847.4 384.2h1.6v1.6h-1.6zM849.0 384.2h1.6v1.6h-1.6zM850.6 384.2h1.6v1.6h-1.6zM852.2 384.2h1.6v1.6h-1.6zM855.4 384.2h1.6v1.6h-1.6zM858.6 384.2h1.6v1.6h-1.6zM861.8 384.2h1.6v1.6h-1.6zM863.4 384.2h1.6v1.6h-1.6zM823.4 382.6h1.6v1.6h-1.6zM826.6 382.6h1.6v1.6h-1.6zM828.2 382.6h1.6v1.6h-1.6zM829.8 382.6h1.6v1.6h-1.6zM831.4 382.6h1.6v1.6h-1.6zM833.0 382.6h1.6v1.6h-1.6zM834.6 382.6h1.6v1.6h-1.6zM836.2 382.6h1.6v1.6h-1.6zM837.8 382.6h1.6v1.6h-1.6zM839.4 382.6h1.6v1.6h-1.6zM842.6 382.6h1.6v1.6h-1.6zM844.2 382.6h1.6v1.6h-1.6zM845.8 382.6h1.6v1.6h-1.6zM847.4 382.6h1.6v1.6h-1.6zM849.0 382.6h1.6v1.6h-1.6zM850.6 382.6h1.6v1.6h-1.6zM852.2 382.6h1.6v1.6h-1.6zM853.8 382.6h1.6v1.6h-1.6zM855.4 382.6h1.6v1.6h-1.6zM857.0 382.6h1.6v1.6h-1.6zM858.6 382.6h1.6v1.6h-1.6zM860.2 382.6h1.6v1.6h-1.6zM861.8 382.6h1.6v1.6h-1.6zM826.6 381.0h1.6v1.6h-1.6zM828.2 381.0h1.6v1.6h-1.6zM829.8 381.0h1.6v1.6h-1.6zM831.4 381.0h1.6v1.6h-1.6zM833.0 381.0h1.6v1.6h-1.6zM834.6 381.0h1.6v1.6h-1.6zM836.2 381.0h1.6v1.6h-1.6zM837.8 381.0h1.6v1.6h-1.6zM839.4 381.0h1.6v1.6h-1.6zM841.0 381.0h1.6v1.6h-1.6zM842.6 381.0h1.6v1.6h-1.6zM844.2 381.0h1.6v1.6h-1.6zM845.8 381.0h1.6v1.6h-1.6zM847.4 381.0h1.6v1.6h-1.6zM849.0 381.0h1.6v1.6h-1.6zM850.6 381.0h1.6v1.6h-1.6zM852.2 381.0h1.6v1.6h-1.6zM855.4 381.0h1.6v1.6h-1.6zM857.0 381.0h1.6v1.6h-1.6zM858.6 381.0h1.6v1.6h-1.6zM860.2 381.0h1.6v1.6h-1.6zM826.6 379.4h1.6v1.6h-1.6zM828.2 379.4h1.6v1.6h-1.6zM829.8 379.4h1.6v1.6h-1.6zM831.4 379.4h1.6v1.6h-1.6zM833.0 379.4h1.6v1.6h-1.6zM834.6 379.4h1.6v1.6h-1.6zM837.8 379.4h1.6v1.6h-1.6zM839.4 379.4h1.6v1.6h-1.6zM841.0 379.4h1.6v1.6h-1.6zM842.6 379.4h1.6v1.6h-1.6zM844.2 379.4h1.6v1.6h-1.6zM845.8 379.4h1.6v1.6h-1.6zM847.4 379.4h1.6v1.6h-1.6zM849.0 379.4h1.6v1.6h-1.6zM850.6 379.4h1.6v1.6h-1.6zM853.8 379.4h1.6v1.6h-1.6zM855.4 379.4h1.6v1.6h-1.6zM857.0 379.4h1.6v1.6h-1.6zM858.6 379.4h1.6v1.6h-1.6zM860.2 379.4h1.6v1.6h-1.6zM828.2 377.8h1.6v1.6h-1.6zM829.8 377.8h1.6v1.6h-1.6zM831.4 377.8h1.6v1.6h-1.6zM834.6 377.8h1.6v1.6h-1.6zM836.2 377.8h1.6v1.6h-1.6zM837.8 377.8h1.6v1.6h-1.6zM839.4 377.8h1.6v1.6h-1.6zM841.0 377.8h1.6v1.6h-1.6zM842.6 377.8h1.6v1.6h-1.6zM844.2 377.8h1.6v1.6h-1.6zM845.8 377.8h1.6v1.6h-1.6zM847.4 377.8h1.6v1.6h-1.6zM849.0 377.8h1.6v1.6h-1.6zM850.6 377.8h1.6v1.6h-1.6zM852.2 377.8h1.6v1.6h-1.6zM855.4 377.8h1.6v1.6h-1.6zM857.0 377.8h1.6v1.6h-1.6zM858.6 377.8h1.6v1.6h-1.6zM860.2 377.8h1.6v1.6h-1.6zM861.8 377.8h1.6v1.6h-1.6zM826.6 376.2h1.6v1.6h-1.6zM828.2 376.2h1.6v1.6h-1.6zM829.8 376.2h1.6v1.6h-1.6zM833.0 376.2h1.6v1.6h-1.6zM834.6 376.2h1.6v1.6h-1.6zM836.2 376.2h1.6v1.6h-1.6zM837.8 376.2h1.6v1.6h-1.6zM841.0 376.2h1.6v1.6h-1.6zM842.6 376.2h1.6v1.6h-1.6zM844.2 376.2h1.6v1.6h-1.6zM845.8 376.2h1.6v1.6h-1.6zM847.4 376.2h1.6v1.6h-1.6zM849.0 376.2h1.6v1.6h-1.6zM850.6 376.2h1.6v1.6h-1.6zM852.2 376.2h1.6v1.6h-1.6zM853.8 376.2h1.6v1.6h-1.6zM855.4 376.2h1.6v1.6h-1.6zM857.0 376.2h1.6v1.6h-1.6zM858.6 376.2h1.6v1.6h-1.6zM861.8 376.2h1.6v1.6h-1.6zM865.0 376.2h1.6v1.6h-1.6zM828.2 374.6h1.6v1.6h-1.6zM829.8 374.6h1.6v1.6h-1.6zM833.0 374.6h1.6v1.6h-1.6zM834.6 374.6h1.6v1.6h-1.6zM836.2 374.6h1.6v1.6h-1.6zM837.8 374.6h1.6v1.6h-1.6zM839.4 374.6h1.6v1.6h-1.6zM841.0 374.6h1.6v1.6h-1.6zM842.6 374.6h1.6v1.6h-1.6zM845.8 374.6h1.6v1.6h-1.6zM847.4 374.6h1.6v1.6h-1.6zM850.6 374.6h1.6v1.6h-1.6zM852.2 374.6h1.6v1.6h-1.6zM853.8 374.6h1.6v1.6h-1.6zM855.4 374.6h1.6v1.6h-1.6zM857.0 374.6h1.6v1.6h-1.6zM858.6 374.6h1.6v1.6h-1.6zM829.8 373.0h1.6v1.6h-1.6zM831.4 373.0h1.6v1.6h-1.6zM833.0 373.0h1.6v1.6h-1.6zM834.6 373.0h1.6v1.6h-1.6zM836.2 373.0h1.6v1.6h-1.6zM837.8 373.0h1.6v1.6h-1.6zM839.4 373.0h1.6v1.6h-1.6zM841.0 373.0h1.6v1.6h-1.6zM844.2 373.0h1.6v1.6h-1.6zM845.8 373.0h1.6v1.6h-1.6zM847.4 373.0h1.6v1.6h-1.6zM849.0 373.0h1.6v1.6h-1.6zM850.6 373.0h1.6v1.6h-1.6zM852.2 373.0h1.6v1.6h-1.6zM853.8 373.0h1.6v1.6h-1.6zM855.4 373.0h1.6v1.6h-1.6zM857.0 373.0h1.6v1.6h-1.6zM858.6 373.0h1.6v1.6h-1.6zM829.8 371.4h1.6v1.6h-1.6zM831.4 371.4h1.6v1.6h-1.6zM833.0 371.4h1.6v1.6h-1.6zM834.6 371.4h1.6v1.6h-1.6zM837.8 371.4h1.6v1.6h-1.6zM839.4 371.4h1.6v1.6h-1.6zM841.0 371.4h1.6v1.6h-1.6zM844.2 371.4h1.6v1.6h-1.6zM845.8 371.4h1.6v1.6h-1.6zM847.4 371.4h1.6v1.6h-1.6zM849.0 371.4h1.6v1.6h-1.6zM850.6 371.4h1.6v1.6h-1.6zM852.2 371.4h1.6v1.6h-1.6zM853.8 371.4h1.6v1.6h-1.6zM855.4 371.4h1.6v1.6h-1.6zM857.0 371.4h1.6v1.6h-1.6zM860.2 371.4h1.6v1.6h-1.6zM831.4 369.8h1.6v1.6h-1.6zM833.0 369.8h1.6v1.6h-1.6zM834.6 369.8h1.6v1.6h-1.6zM837.8 369.8h1.6v1.6h-1.6zM839.4 369.8h1.6v1.6h-1.6zM841.0 369.8h1.6v1.6h-1.6zM842.6 369.8h1.6v1.6h-1.6zM844.2 369.8h1.6v1.6h-1.6zM845.8 369.8h1.6v1.6h-1.6zM847.4 369.8h1.6v1.6h-1.6zM849.0 369.8h1.6v1.6h-1.6zM850.6 369.8h1.6v1.6h-1.6zM852.2 369.8h1.6v1.6h-1.6zM853.8 369.8h1.6v1.6h-1.6zM855.4 369.8h1.6v1.6h-1.6zM857.0 369.8h1.6v1.6h-1.6zM825.0 368.2h1.6v1.6h-1.6zM828.2 368.2h1.6v1.6h-1.6zM829.8 368.2h1.6v1.6h-1.6zM831.4 368.2h1.6v1.6h-1.6zM833.0 368.2h1.6v1.6h-1.6zM834.6 368.2h1.6v1.6h-1.6zM836.2 368.2h1.6v1.6h-1.6zM837.8 368.2h1.6v1.6h-1.6zM839.4 368.2h1.6v1.6h-1.6zM841.0 368.2h1.6v1.6h-1.6zM842.6 368.2h1.6v1.6h-1.6zM844.2 368.2h1.6v1.6h-1.6zM845.8 368.2h1.6v1.6h-1.6zM847.4 368.2h1.6v1.6h-1.6zM849.0 368.2h1.6v1.6h-1.6zM850.6 368.2h1.6v1.6h-1.6zM852.2 368.2h1.6v1.6h-1.6zM853.8 368.2h1.6v1.6h-1.6zM860.2 368.2h1.6v1.6h-1.6zM863.4 368.2h1.6v1.6h-1.6zM831.4 366.6h1.6v1.6h-1.6zM833.0 366.6h1.6v1.6h-1.6zM834.6 366.6h1.6v1.6h-1.6zM839.4 366.6h1.6v1.6h-1.6zM842.6 366.6h1.6v1.6h-1.6zM845.8 366.6h1.6v1.6h-1.6zM847.4 366.6h1.6v1.6h-1.6zM849.0 366.6h1.6v1.6h-1.6zM850.6 366.6h1.6v1.6h-1.6zM852.2 366.6h1.6v1.6h-1.6zM853.8 366.6h1.6v1.6h-1.6zM855.4 366.6h1.6v1.6h-1.6zM857.0 366.6h1.6v1.6h-1.6zM858.6 366.6h1.6v1.6h-1.6zM829.8 365.0h1.6v1.6h-1.6zM833.0 365.0h1.6v1.6h-1.6zM836.2 365.0h1.6v1.6h-1.6zM841.0 365.0h1.6v1.6h-1.6zM842.6 365.0h1.6v1.6h-1.6zM844.2 365.0h1.6v1.6h-1.6zM845.8 365.0h1.6v1.6h-1.6zM847.4 365.0h1.6v1.6h-1.6zM850.6 365.0h1.6v1.6h-1.6zM852.2 365.0h1.6v1.6h-1.6zM853.8 365.0h1.6v1.6h-1.6zM855.4 365.0h1.6v1.6h-1.6zM857.0 365.0h1.6v1.6h-1.6zM863.4 365.0h1.6v1.6h-1.6zM828.2 363.4h1.6v1.6h-1.6zM829.8 363.4h1.6v1.6h-1.6zM831.4 363.4h1.6v1.6h-1.6zM834.6 363.4h1.6v1.6h-1.6zM841.0 363.4h1.6v1.6h-1.6zM844.2 363.4h1.6v1.6h-1.6zM845.8 363.4h1.6v1.6h-1.6zM847.4 363.4h1.6v1.6h-1.6zM849.0 363.4h1.6v1.6h-1.6zM850.6 363.4h1.6v1.6h-1.6zM852.2 363.4h1.6v1.6h-1.6zM853.8 363.4h1.6v1.6h-1.6zM826.6 361.8h1.6v1.6h-1.6zM833.0 361.8h1.6v1.6h-1.6zM837.8 361.8h1.6v1.6h-1.6zM839.4 361.8h1.6v1.6h-1.6zM842.6 361.8h1.6v1.6h-1.6zM844.2 361.8h1.6v1.6h-1.6zM845.8 361.8h1.6v1.6h-1.6zM847.4 361.8h1.6v1.6h-1.6zM850.6 361.8h1.6v1.6h-1.6zM852.2 361.8h1.6v1.6h-1.6zM853.8 361.8h1.6v1.6h-1.6zM855.4 361.8h1.6v1.6h-1.6zM860.2 361.8h1.6v1.6h-1.6zM829.8 360.2h1.6v1.6h-1.6zM833.0 360.2h1.6v1.6h-1.6zM834.6 360.2h1.6v1.6h-1.6zM836.2 360.2h1.6v1.6h-1.6zM837.8 360.2h1.6v1.6h-1.6zM839.4 360.2h1.6v1.6h-1.6zM841.0 360.2h1.6v1.6h-1.6zM842.6 360.2h1.6v1.6h-1.6zM844.2 360.2h1.6v1.6h-1.6zM845.8 360.2h1.6v1.6h-1.6zM847.4 360.2h1.6v1.6h-1.6zM850.6 360.2h1.6v1.6h-1.6zM852.2 360.2h1.6v1.6h-1.6zM853.8 360.2h1.6v1.6h-1.6zM857.0 360.2h1.6v1.6h-1.6zM828.2 358.6h1.6v1.6h-1.6zM829.8 358.6h1.6v1.6h-1.6zM831.4 358.6h1.6v1.6h-1.6zM834.6 358.6h1.6v1.6h-1.6zM836.2 358.6h1.6v1.6h-1.6zM839.4 358.6h1.6v1.6h-1.6zM842.6 358.6h1.6v1.6h-1.6zM844.2 358.6h1.6v1.6h-1.6zM845.8 358.6h1.6v1.6h-1.6zM849.0 358.6h1.6v1.6h-1.6zM852.2 358.6h1.6v1.6h-1.6zM853.8 358.6h1.6v1.6h-1.6zM857.0 358.6h1.6v1.6h-1.6zM821.8 357.0h1.6v1.6h-1.6zM834.6 357.0h1.6v1.6h-1.6zM836.2 357.0h1.6v1.6h-1.6zM837.8 357.0h1.6v1.6h-1.6zM839.4 357.0h1.6v1.6h-1.6zM841.0 357.0h1.6v1.6h-1.6zM842.6 357.0h1.6v1.6h-1.6zM845.8 357.0h1.6v1.6h-1.6zM850.6 357.0h1.6v1.6h-1.6zM852.2 357.0h1.6v1.6h-1.6zM855.4 357.0h1.6v1.6h-1.6zM858.6 357.0h1.6v1.6h-1.6zM833.0 355.4h1.6v1.6h-1.6zM839.4 355.4h1.6v1.6h-1.6zM841.0 355.4h1.6v1.6h-1.6zM842.6 355.4h1.6v1.6h-1.6zM844.2 355.4h1.6v1.6h-1.6zM845.8 355.4h1.6v1.6h-1.6zM847.4 355.4h1.6v1.6h-1.6zM849.0 355.4h1.6v1.6h-1.6zM850.6 355.4h1.6v1.6h-1.6zM834.6 353.8h1.6v1.6h-1.6zM836.2 353.8h1.6v1.6h-1.6zM837.8 353.8h1.6v1.6h-1.6zM839.4 353.8h1.6v1.6h-1.6zM841.0 353.8h1.6v1.6h-1.6zM842.6 353.8h1.6v1.6h-1.6zM845.8 353.8h1.6v1.6h-1.6zM860.2 353.8h1.6v1.6h-1.6zM831.4 352.2h1.6v1.6h-1.6zM834.6 352.2h1.6v1.6h-1.6zM837.8 352.2h1.6v1.6h-1.6zM839.4 352.2h1.6v1.6h-1.6zM842.6 352.2h1.6v1.6h-1.6zM844.2 352.2h1.6v1.6h-1.6zM845.8 352.2h1.6v1.6h-1.6zM847.4 352.2h1.6v1.6h-1.6zM850.6 352.2h1.6v1.6h-1.6zM857.0 352.2h1.6v1.6h-1.6zM863.4 352.2h1.6v1.6h-1.6zM834.6 350.6h1.6v1.6h-1.6zM836.2 350.6h1.6v1.6h-1.6zM837.8 350.6h1.6v1.6h-1.6zM841.0 350.6h1.6v1.6h-1.6zM842.6 350.6h1.6v1.6h-1.6zM847.4 350.6h1.6v1.6h-1.6zM849.0 350.6h1.6v1.6h-1.6zM855.4 350.6h1.6v1.6h-1.6zM857.0 350.6h1.6v1.6h-1.6zM858.6 350.6h1.6v1.6h-1.6zM839.4 349.0h1.6v1.6h-1.6zM842.6 349.0h1.6v1.6h-1.6zM845.8 349.0h1.6v1.6h-1.6zM849.0 349.0h1.6v1.6h-1.6zM857.0 349.0h1.6v1.6h-1.6zM836.2 347.4h1.6v1.6h-1.6zM837.8 347.4h1.6v1.6h-1.6zM841.0 347.4h1.6v1.6h-1.6zM844.2 347.4h1.6v1.6h-1.6zM847.4 347.4h1.6v1.6h-1.6zM850.6 347.4h1.6v1.6h-1.6zM855.4 347.4h1.6v1.6h-1.6zM833.0 345.8h1.6v1.6h-1.6zM837.8 345.8h1.6v1.6h-1.6zM839.4 345.8h1.6v1.6h-1.6zM841.0 345.8h1.6v1.6h-1.6zM842.6 345.8h1.6v1.6h-1.6zM844.2 345.8h1.6v1.6h-1.6zM847.4 345.8h1.6v1.6h-1.6zM849.0 345.8h1.6v1.6h-1.6zM852.2 345.8h1.6v1.6h-1.6zM833.0 344.2h1.6v1.6h-1.6zM837.8 344.2h1.6v1.6h-1.6zM839.4 344.2h1.6v1.6h-1.6zM842.6 344.2h1.6v1.6h-1.6zM844.2 344.2h1.6v1.6h-1.6zM845.8 344.2h1.6v1.6h-1.6zM852.2 344.2h1.6v1.6h-1.6zM828.2 342.6h1.6v1.6h-1.6zM841.0 342.6h1.6v1.6h-1.6zM852.2 342.6h1.6v1.6h-1.6zM831.4 341.0h1.6v1.6h-1.6zM845.8 341.0h1.6v1.6h-1.6zM849.0 341.0h1.6v1.6h-1.6zM825.0 339.4h1.6v1.6h-1.6zM837.8 339.4h1.6v1.6h-1.6zM841.0 339.4h1.6v1.6h-1.6zM842.6 339.4h1.6v1.6h-1.6zM849.0 339.4h1.6v1.6h-1.6zM829.8 337.8h1.6v1.6h-1.6zM847.4 337.8h1.6v1.6h-1.6zM841.0 336.2h1.6v1.6h-1.6zM849.0 336.2h1.6v1.6h-1.6zM834.6 334.6h1.6v1.6h-1.6zM841.0 334.6h1.6v1.6h-1.6zM855.4 334.6h1.6v1.6h-1.6zM842.6 333.0h1.6v1.6h-1.6zM844.2 333.0h1.6v1.6h-1.6zM850.6 333.0h1.6v1.6h-1.6zM852.2 333.0h1.6v1.6h-1.6zM857.0 333.0h1.6v1.6h-1.6zM837.8 331.4h1.6v1.6h-1.6zM839.4 331.4h1.6v1.6h-1.6zM841.0 331.4h1.6v1.6h-1.6zM842.6 331.4h1.6v1.6h-1.6zM839.4 329.8h1.6v1.6h-1.6zM844.2 329.8h1.6v1.6h-1.6zM845.8 329.8h1.6v1.6h-1.6zM849.0 329.8h1.6v1.6h-1.6zM850.6 328.2h1.6v1.6h-1.6zM837.8 325.0h1.6v1.6h-1.6zM841.0 325.0h1.6v1.6h-1.6zM844.2 325.0h1.6v1.6h-1.6zM852.2 325.0h1.6v1.6h-1.6zM845.8 323.4h1.6v1.6h-1.6zM834.6 321.8h1.6v1.6h-1.6zM836.2 318.6h1.6v1.6h-1.6zM841.0 318.6h1.6v1.6h-1.6zM842.6 318.6h1.6v1.6h-1.6zM844.2 317.0h1.6v1.6h-1.6zM847.4 317.0h1.6v1.6h-1.6zM853.8 313.8h1.6v1.6h-1.6zM839.4 312.2h1.6v1.6h-1.6zM844.2 312.2h1.6v1.6h-1.6zM845.8 312.2h1.6v1.6h-1.6zM844.2 305.8h1.6v1.6h-1.6zM847.4 302.6h1.6v1.6h-1.6zM853.8 302.6h1.6v1.6h-1.6zM850.6 297.8h1.6v1.6h-1.6zM833.0 291.4h1.6v1.6h-1.6zM842.6 291.4h1.6v1.6h-1.6zM850.6 291.4h1.6v1.6h-1.6zM833.0 285.0h1.6v1.6h-1.6zM844.2 281.8h1.6v1.6h-1.6zM845.8 281.8h1.6v1.6h-1.6zM844.2 275.4h1.6v1.6h-1.6zM839.4 272.2h1.6v1.6h-1.6zM839.4 257.8h1.6v1.6h-1.6zM837.8 232.2h1.6v1.6h-1.6zM855.4 219.4h1.6v1.6h-1.6zM836.5 230.6h1.6v1.6h-1.6zM832.3 277.1h1.6v1.6h-1.6zM854.7 261.6h1.6v1.6h-1.6zM852.6 270.2h1.6v1.6h-1.6zM837.2 214.8h1.6v1.6h-1.6zM849.6 264.7h1.6v1.6h-1.6zM832.7 246.3h1.6v1.6h-1.6zM843.5 262.5h1.6v1.6h-1.6zM847.2 282.0h1.6v1.6h-1.6zM832.6 274.1h1.6v1.6h-1.6zM834.2 234.8h1.6v1.6h-1.6zM843.1 222.5h1.6v1.6h-1.6zM839.2 222.8h1.6v1.6h-1.6zM836.2 250.0h1.6v1.6h-1.6zM844.5 201.9h1.6v1.6h-1.6zM842.4 263.8h1.6v1.6h-1.6zM847.3 240.1h1.6v1.6h-1.6zM847.7 228.1h1.6v1.6h-1.6zM849.3 255.0h1.6v1.6h-1.6zM847.0 243.7h1.6v1.6h-1.6zM843.5 266.0h1.6v1.6h-1.6zM845.2 206.5h1.6v1.6h-1.6zM848.7 243.7h1.6v1.6h-1.6zM840.3 246.9h1.6v1.6h-1.6zM845.2 287.4h1.6v1.6h-1.6zM832.2 202.9h1.6v1.6h-1.6zM851.6 275.2h1.6v1.6h-1.6zM846.2 280.0h1.6v1.6h-1.6zM835.7 211.8h1.6v1.6h-1.6zM849.4 285.8h1.6v1.6h-1.6zM832.2 258.7h1.6v1.6h-1.6zM845.3 238.2h1.6v1.6h-1.6zM856.5 278.5h1.6v1.6h-1.6zM833.5 221.7h1.6v1.6h-1.6zM850.2 236.2h1.6v1.6h-1.6zM843.0 207.1h1.6v1.6h-1.6zM845.0 260.2h1.6v1.6h-1.6zM848.2 210.8h1.6v1.6h-1.6zM849.3 203.3h1.6v1.6h-1.6zM837.2 258.7h1.6v1.6h-1.6zM833.8 195.5h1.6v1.6h-1.6zM841.9 270.5h1.6v1.6h-1.6zM840.1 242.5h1.6v1.6h-1.6zM860.1 287.7h1.6v1.6h-1.6zM840.5 284.8h1.6v1.6h-1.6zM832.5 438.9h1.6v1.6h-1.6zM847.1 438.9h1.6v1.6h-1.6zM841.5 441.7h1.6v1.6h-1.6zM830.5 440.8h1.6v1.6h-1.6zM836.9 444.4h1.6v1.6h-1.6zM863.3 438.9h1.6v1.6h-1.6zM848.6 438.3h1.6v1.6h-1.6zM840.2 440.1h1.6v1.6h-1.6zM849.9 438.9h1.6v1.6h-1.6zM824.2 438.3h1.6v1.6h-1.6zM846.6 438.4h1.6v1.6h-1.6zM835.8 440.1h1.6v1.6h-1.6zM861.1 439.6h1.6v1.6h-1.6zM833.6 439.9h1.6v1.6h-1.6zM834.5 441.4h1.6v1.6h-1.6zM829.4 438.7h1.6v1.6h-1.6zM841.4 443.3h1.6v1.6h-1.6zM829.8 438.5h1.6v1.6h-1.6zM828.4 438.5h1.6v1.6h-1.6zM836.9 439.1h1.6v1.6h-1.6zM855.1 439.1h1.6v1.6h-1.6zM843.0 439.1h1.6v1.6h-1.6zM855.7 443.1h1.6v1.6h-1.6zM840.9 443.6h1.6v1.6h-1.6zM833.5 446.4h1.6v1.6h-1.6zM845.1 440.5h1.6v1.6h-1.6zM839.0 438.7h1.6v1.6h-1.6zM828.5 442.8h1.6v1.6h-1.6zM838.1 440.6h1.6v1.6h-1.6zM842.4 439.6h1.6v1.6h-1.6zM831.6 438.4h1.6v1.6h-1.6zM837.1 440.5h1.6v1.6h-1.6zM845.9 438.0h1.6v1.6h-1.6zM853.0 439.2h1.6v1.6h-1.6zM825.7 438.7h1.6v1.6h-1.6zM831.8 441.8h1.6v1.6h-1.6zM846.2 438.9h1.6v1.6h-1.6zM833.4 438.8h1.6v1.6h-1.6zM834.7 438.9h1.6v1.6h-1.6zM856.4 441.4h1.6v1.6h-1.6zM852.5 442.8h1.6v1.6h-1.6zM850.6 438.3h1.6v1.6h-1.6zM824.7 438.4h1.6v1.6h-1.6zM833.8 439.7h1.6v1.6h-1.6zM857.7 439.9h1.6v1.6h-1.6zM841.1 438.6h1.6v1.6h-1.6zM864.5 441.1h1.6v1.6h-1.6zM837.3 438.1h1.6v1.6h-1.6zM864.5 438.7h1.6v1.6h-1.6zM858.8 438.3h1.6v1.6h-1.6zM850.6 439.0h1.6v1.6h-1.6zM860.6 438.8h1.6v1.6h-1.6zM827.1 438.5h1.6v1.6h-1.6zM857.0 446.5h1.6v1.6h-1.6zM850.1 440.5h1.6v1.6h-1.6zM834.8 438.7h1.6v1.6h-1.6zM826.5 447.2h1.6v1.6h-1.6zM824.6 440.1h1.6v1.6h-1.6zM837.7 438.5h1.6v1.6h-1.6zM841.3 443.9h1.6v1.6h-1.6zM918.8 438.1h1.6v1.6h-1.6zM935.4 441.2h1.6v1.6h-1.6zM930.2 438.2h1.6v1.6h-1.6zM946.0 437.9h1.6v1.6h-1.6zM915.6 438.5h1.6v1.6h-1.6zM930.4 439.8h1.6v1.6h-1.6zM932.1 442.0h1.6v1.6h-1.6zM946.9 439.7h1.6v1.6h-1.6zM909.8 443.7h1.6v1.6h-1.6zM908.8 438.8h1.6v1.6h-1.6zM914.2 440.7h1.6v1.6h-1.6zM942.0 438.0h1.6v1.6h-1.6zM920.8 444.2h1.6v1.6h-1.6zM938.0 437.9h1.6v1.6h-1.6zM937.9 443.0h1.6v1.6h-1.6zM925.8 438.1h1.6v1.6h-1.6zM936.7 438.8h1.6v1.6h-1.6zM913.8 438.1h1.6v1.6h-1.6zM925.5 438.0h1.6v1.6h-1.6zM924.8 440.3h1.6v1.6h-1.6zM932.0 439.3h1.6v1.6h-1.6zM942.8 437.8h1.6v1.6h-1.6zM922.3 447.0h1.6v1.6h-1.6zM945.6 446.4h1.6v1.6h-1.6zM941.3 440.2h1.6v1.6h-1.6zM942.3 440.5h1.6v1.6h-1.6zM913.1 438.5h1.6v1.6h-1.6zM912.2 444.8h1.6v1.6h-1.6zM922.0 439.3h1.6v1.6h-1.6zM931.4 437.9h1.6v1.6h-1.6zM938.7 443.1h1.6v1.6h-1.6zM942.6 445.0h1.6v1.6h-1.6zM921.8 438.1h1.6v1.6h-1.6zM941.1 441.6h1.6v1.6h-1.6zM924.2 439.0h1.6v1.6h-1.6zM914.7 443.7h1.6v1.6h-1.6zM928.0 443.4h1.6v1.6h-1.6zM922.8 438.9h1.6v1.6h-1.6zM930.3 442.3h1.6v1.6h-1.6zM946.4 439.0h1.6v1.6h-1.6zM938.2 439.3h1.6v1.6h-1.6zM945.5 442.5h1.6v1.6h-1.6zM932.2 439.1h1.6v1.6h-1.6zM919.9 445.1h1.6v1.6h-1.6zM942.8 438.8h1.6v1.6h-1.6zM911.7 438.3h1.6v1.6h-1.6zM949.9 437.6h1.6v1.6h-1.6zM943.2 440.1h1.6v1.6h-1.6zM932.1 440.2h1.6v1.6h-1.6zM925.8 440.4h1.6v1.6h-1.6zM911.9 446.3h1.6v1.6h-1.6zM912.5 438.0h1.6v1.6h-1.6zM937.3 441.1h1.6v1.6h-1.6zM943.1 441.6h1.6v1.6h-1.6zM948.5 437.7h1.6v1.6h-1.6zM908.5 438.4h1.6v1.6h-1.6zM941.9 438.1h1.6v1.6h-1.6zM931.1 442.6h1.6v1.6h-1.6zM914.8 440.1h1.6v1.6h-1.6zM947.2 442.3h1.6v1.6h-1.6zM925.3 439.8h1.6v1.6h-1.6zM920.1 448.8h1.6v1.6h-1.6zM942.0 441.5h1.6v1.6h-1.6zM921.2 442.1h1.6v1.6h-1.6zM929.2 443.1h1.6v1.6h-1.6zM923.8 445.0h1.6v1.6h-1.6zM937.8 439.6h1.6v1.6h-1.6zM932.5 443.2h1.6v1.6h-1.6zM931.0 448.8h1.6v1.6h-1.6zM908.3 445.5h1.6v1.6h-1.6zM939.1 439.9h1.6v1.6h-1.6zM945.0 438.1h1.6v1.6h-1.6zM922.7 441.9h1.6v1.6h-1.6zM943.8 439.1h1.6v1.6h-1.6zM951.2 441.2h1.6v1.6h-1.6zM910.0 438.0h1.6v1.6h-1.6zM911.3 440.5h1.6v1.6h-1.6zM922.0 438.6h1.6v1.6h-1.6zM927.5 437.8h1.6v1.6h-1.6zM947.5 443.9h1.6v1.6h-1.6zM932.3 439.6h1.6v1.6h-1.6zM921.4 440.7h1.6v1.6h-1.6zM923.1 450.5h1.6v1.6h-1.6zM949.6 442.0h1.6v1.6h-1.6zM943.9 437.8h1.6v1.6h-1.6zM913.4 439.0h1.6v1.6h-1.6zM913.5 439.4h1.6v1.6h-1.6zM950.9 443.8h1.6v1.6h-1.6zM949.7 438.4h1.6v1.6h-1.6zM917.6 437.6h1.6v1.6h-1.6zM919.9 437.7h1.6v1.6h-1.6zM931.0 438.8h1.6v1.6h-1.6zM937.3 440.4h1.6v1.6h-1.6zM934.0 438.7h1.6v1.6h-1.6zM940.0 441.6h1.6v1.6h-1.6zM939.1 439.7h1.6v1.6h-1.6zM928.2 438.7h1.6v1.6h-1.6zM909.7 439.7h1.6v1.6h-1.6zM934.8 438.2h1.6v1.6h-1.6zM945.4 444.9h1.6v1.6h-1.6zM945.1 443.4h1.6v1.6h-1.6zM929.2 438.2h1.6v1.6h-1.6zM919.8 442.2h1.6v1.6h-1.6zM950.8 437.9h1.6v1.6h-1.6zM908.3 439.0h1.6v1.6h-1.6zM923.2 440.7h1.6v1.6h-1.6zM912.9 444.0h1.6v1.6h-1.6zM922.7 445.9h1.6v1.6h-1.6zM922.3 438.8h1.6v1.6h-1.6zM915.6 449.3h1.6v1.6h-1.6zM916.3 443.5h1.6v1.6h-1.6zM921.5 448.5h1.6v1.6h-1.6zM927.8 462.3h1.6v1.6h-1.6zM904.8 443.8h1.6v1.6h-1.6zM907.5 448.4h1.6v1.6h-1.6zM954.0 465.0h1.6v1.6h-1.6zM930.5 463.5h1.6v1.6h-1.6zM932.5 445.1h1.6v1.6h-1.6zM922.6 449.0h1.6v1.6h-1.6zM927.3 462.0h1.6v1.6h-1.6zM909.1 395.4h1.6v1.6h-1.6zM910.7 395.4h1.6v1.6h-1.6zM912.3 395.4h1.6v1.6h-1.6zM913.9 395.4h1.6v1.6h-1.6zM915.5 395.4h1.6v1.6h-1.6zM917.1 395.4h1.6v1.6h-1.6zM918.7 395.4h1.6v1.6h-1.6zM920.3 395.4h1.6v1.6h-1.6zM921.9 395.4h1.6v1.6h-1.6zM923.5 395.4h1.6v1.6h-1.6zM925.1 395.4h1.6v1.6h-1.6zM926.7 395.4h1.6v1.6h-1.6zM928.3 395.4h1.6v1.6h-1.6zM929.9 395.4h1.6v1.6h-1.6zM931.5 395.4h1.6v1.6h-1.6zM933.1 395.4h1.6v1.6h-1.6zM934.7 395.4h1.6v1.6h-1.6zM936.3 395.4h1.6v1.6h-1.6zM937.9 395.4h1.6v1.6h-1.6zM941.1 395.4h1.6v1.6h-1.6zM942.7 395.4h1.6v1.6h-1.6zM944.3 395.4h1.6v1.6h-1.6zM947.5 395.4h1.6v1.6h-1.6zM949.1 395.4h1.6v1.6h-1.6zM950.7 395.4h1.6v1.6h-1.6zM910.7 393.8h1.6v1.6h-1.6zM912.3 393.8h1.6v1.6h-1.6zM913.9 393.8h1.6v1.6h-1.6zM915.5 393.8h1.6v1.6h-1.6zM917.1 393.8h1.6v1.6h-1.6zM918.7 393.8h1.6v1.6h-1.6zM920.3 393.8h1.6v1.6h-1.6zM921.9 393.8h1.6v1.6h-1.6zM923.5 393.8h1.6v1.6h-1.6zM925.1 393.8h1.6v1.6h-1.6zM926.7 393.8h1.6v1.6h-1.6zM928.3 393.8h1.6v1.6h-1.6zM929.9 393.8h1.6v1.6h-1.6zM931.5 393.8h1.6v1.6h-1.6zM933.1 393.8h1.6v1.6h-1.6zM934.7 393.8h1.6v1.6h-1.6zM936.3 393.8h1.6v1.6h-1.6zM937.9 393.8h1.6v1.6h-1.6zM939.5 393.8h1.6v1.6h-1.6zM941.1 393.8h1.6v1.6h-1.6zM942.7 393.8h1.6v1.6h-1.6zM944.3 393.8h1.6v1.6h-1.6zM945.9 393.8h1.6v1.6h-1.6zM947.5 393.8h1.6v1.6h-1.6zM949.1 393.8h1.6v1.6h-1.6zM907.5 392.2h1.6v1.6h-1.6zM909.1 392.2h1.6v1.6h-1.6zM910.7 392.2h1.6v1.6h-1.6zM912.3 392.2h1.6v1.6h-1.6zM913.9 392.2h1.6v1.6h-1.6zM915.5 392.2h1.6v1.6h-1.6zM917.1 392.2h1.6v1.6h-1.6zM918.7 392.2h1.6v1.6h-1.6zM920.3 392.2h1.6v1.6h-1.6zM923.5 392.2h1.6v1.6h-1.6zM925.1 392.2h1.6v1.6h-1.6zM926.7 392.2h1.6v1.6h-1.6zM928.3 392.2h1.6v1.6h-1.6zM929.9 392.2h1.6v1.6h-1.6zM931.5 392.2h1.6v1.6h-1.6zM934.7 392.2h1.6v1.6h-1.6zM936.3 392.2h1.6v1.6h-1.6zM937.9 392.2h1.6v1.6h-1.6zM939.5 392.2h1.6v1.6h-1.6zM941.1 392.2h1.6v1.6h-1.6zM942.7 392.2h1.6v1.6h-1.6zM944.3 392.2h1.6v1.6h-1.6zM945.9 392.2h1.6v1.6h-1.6zM947.5 392.2h1.6v1.6h-1.6zM949.1 392.2h1.6v1.6h-1.6zM910.7 390.6h1.6v1.6h-1.6zM912.3 390.6h1.6v1.6h-1.6zM913.9 390.6h1.6v1.6h-1.6zM915.5 390.6h1.6v1.6h-1.6zM917.1 390.6h1.6v1.6h-1.6zM918.7 390.6h1.6v1.6h-1.6zM920.3 390.6h1.6v1.6h-1.6zM921.9 390.6h1.6v1.6h-1.6zM923.5 390.6h1.6v1.6h-1.6zM925.1 390.6h1.6v1.6h-1.6zM926.7 390.6h1.6v1.6h-1.6zM928.3 390.6h1.6v1.6h-1.6zM929.9 390.6h1.6v1.6h-1.6zM931.5 390.6h1.6v1.6h-1.6zM933.1 390.6h1.6v1.6h-1.6zM934.7 390.6h1.6v1.6h-1.6zM937.9 390.6h1.6v1.6h-1.6zM939.5 390.6h1.6v1.6h-1.6zM941.1 390.6h1.6v1.6h-1.6zM942.7 390.6h1.6v1.6h-1.6zM944.3 390.6h1.6v1.6h-1.6zM945.9 390.6h1.6v1.6h-1.6zM947.5 390.6h1.6v1.6h-1.6zM950.7 390.6h1.6v1.6h-1.6zM910.7 389.0h1.6v1.6h-1.6zM912.3 389.0h1.6v1.6h-1.6zM913.9 389.0h1.6v1.6h-1.6zM915.5 389.0h1.6v1.6h-1.6zM918.7 389.0h1.6v1.6h-1.6zM920.3 389.0h1.6v1.6h-1.6zM921.9 389.0h1.6v1.6h-1.6zM923.5 389.0h1.6v1.6h-1.6zM925.1 389.0h1.6v1.6h-1.6zM926.7 389.0h1.6v1.6h-1.6zM928.3 389.0h1.6v1.6h-1.6zM929.9 389.0h1.6v1.6h-1.6zM931.5 389.0h1.6v1.6h-1.6zM933.1 389.0h1.6v1.6h-1.6zM934.7 389.0h1.6v1.6h-1.6zM936.3 389.0h1.6v1.6h-1.6zM937.9 389.0h1.6v1.6h-1.6zM939.5 389.0h1.6v1.6h-1.6zM941.1 389.0h1.6v1.6h-1.6zM942.7 389.0h1.6v1.6h-1.6zM944.3 389.0h1.6v1.6h-1.6zM947.5 389.0h1.6v1.6h-1.6zM949.1 389.0h1.6v1.6h-1.6zM910.7 387.4h1.6v1.6h-1.6zM912.3 387.4h1.6v1.6h-1.6zM913.9 387.4h1.6v1.6h-1.6zM915.5 387.4h1.6v1.6h-1.6zM917.1 387.4h1.6v1.6h-1.6zM918.7 387.4h1.6v1.6h-1.6zM920.3 387.4h1.6v1.6h-1.6zM921.9 387.4h1.6v1.6h-1.6zM923.5 387.4h1.6v1.6h-1.6zM925.1 387.4h1.6v1.6h-1.6zM926.7 387.4h1.6v1.6h-1.6zM928.3 387.4h1.6v1.6h-1.6zM929.9 387.4h1.6v1.6h-1.6zM931.5 387.4h1.6v1.6h-1.6zM933.1 387.4h1.6v1.6h-1.6zM936.3 387.4h1.6v1.6h-1.6zM937.9 387.4h1.6v1.6h-1.6zM939.5 387.4h1.6v1.6h-1.6zM941.1 387.4h1.6v1.6h-1.6zM942.7 387.4h1.6v1.6h-1.6zM944.3 387.4h1.6v1.6h-1.6zM945.9 387.4h1.6v1.6h-1.6zM947.5 387.4h1.6v1.6h-1.6zM912.3 385.8h1.6v1.6h-1.6zM913.9 385.8h1.6v1.6h-1.6zM915.5 385.8h1.6v1.6h-1.6zM917.1 385.8h1.6v1.6h-1.6zM920.3 385.8h1.6v1.6h-1.6zM921.9 385.8h1.6v1.6h-1.6zM923.5 385.8h1.6v1.6h-1.6zM925.1 385.8h1.6v1.6h-1.6zM926.7 385.8h1.6v1.6h-1.6zM928.3 385.8h1.6v1.6h-1.6zM929.9 385.8h1.6v1.6h-1.6zM931.5 385.8h1.6v1.6h-1.6zM933.1 385.8h1.6v1.6h-1.6zM934.7 385.8h1.6v1.6h-1.6zM936.3 385.8h1.6v1.6h-1.6zM937.9 385.8h1.6v1.6h-1.6zM939.5 385.8h1.6v1.6h-1.6zM941.1 385.8h1.6v1.6h-1.6zM942.7 385.8h1.6v1.6h-1.6zM944.3 385.8h1.6v1.6h-1.6zM945.9 385.8h1.6v1.6h-1.6zM947.5 385.8h1.6v1.6h-1.6zM949.1 385.8h1.6v1.6h-1.6zM950.7 385.8h1.6v1.6h-1.6zM912.3 384.2h1.6v1.6h-1.6zM913.9 384.2h1.6v1.6h-1.6zM917.1 384.2h1.6v1.6h-1.6zM918.7 384.2h1.6v1.6h-1.6zM921.9 384.2h1.6v1.6h-1.6zM923.5 384.2h1.6v1.6h-1.6zM925.1 384.2h1.6v1.6h-1.6zM926.7 384.2h1.6v1.6h-1.6zM928.3 384.2h1.6v1.6h-1.6zM931.5 384.2h1.6v1.6h-1.6zM933.1 384.2h1.6v1.6h-1.6zM934.7 384.2h1.6v1.6h-1.6zM937.9 384.2h1.6v1.6h-1.6zM939.5 384.2h1.6v1.6h-1.6zM941.1 384.2h1.6v1.6h-1.6zM942.7 384.2h1.6v1.6h-1.6zM944.3 384.2h1.6v1.6h-1.6zM945.9 384.2h1.6v1.6h-1.6zM947.5 384.2h1.6v1.6h-1.6zM912.3 382.6h1.6v1.6h-1.6zM913.9 382.6h1.6v1.6h-1.6zM915.5 382.6h1.6v1.6h-1.6zM917.1 382.6h1.6v1.6h-1.6zM918.7 382.6h1.6v1.6h-1.6zM920.3 382.6h1.6v1.6h-1.6zM921.9 382.6h1.6v1.6h-1.6zM923.5 382.6h1.6v1.6h-1.6zM925.1 382.6h1.6v1.6h-1.6zM926.7 382.6h1.6v1.6h-1.6zM928.3 382.6h1.6v1.6h-1.6zM929.9 382.6h1.6v1.6h-1.6zM931.5 382.6h1.6v1.6h-1.6zM933.1 382.6h1.6v1.6h-1.6zM934.7 382.6h1.6v1.6h-1.6zM936.3 382.6h1.6v1.6h-1.6zM937.9 382.6h1.6v1.6h-1.6zM939.5 382.6h1.6v1.6h-1.6zM941.1 382.6h1.6v1.6h-1.6zM942.7 382.6h1.6v1.6h-1.6zM944.3 382.6h1.6v1.6h-1.6zM945.9 382.6h1.6v1.6h-1.6zM949.1 382.6h1.6v1.6h-1.6zM909.1 381.0h1.6v1.6h-1.6zM913.9 381.0h1.6v1.6h-1.6zM915.5 381.0h1.6v1.6h-1.6zM917.1 381.0h1.6v1.6h-1.6zM918.7 381.0h1.6v1.6h-1.6zM920.3 381.0h1.6v1.6h-1.6zM921.9 381.0h1.6v1.6h-1.6zM923.5 381.0h1.6v1.6h-1.6zM925.1 381.0h1.6v1.6h-1.6zM928.3 381.0h1.6v1.6h-1.6zM929.9 381.0h1.6v1.6h-1.6zM931.5 381.0h1.6v1.6h-1.6zM933.1 381.0h1.6v1.6h-1.6zM934.7 381.0h1.6v1.6h-1.6zM936.3 381.0h1.6v1.6h-1.6zM937.9 381.0h1.6v1.6h-1.6zM939.5 381.0h1.6v1.6h-1.6zM941.1 381.0h1.6v1.6h-1.6zM942.7 381.0h1.6v1.6h-1.6zM944.3 381.0h1.6v1.6h-1.6zM945.9 381.0h1.6v1.6h-1.6zM947.5 381.0h1.6v1.6h-1.6zM912.3 379.4h1.6v1.6h-1.6zM913.9 379.4h1.6v1.6h-1.6zM915.5 379.4h1.6v1.6h-1.6zM917.1 379.4h1.6v1.6h-1.6zM918.7 379.4h1.6v1.6h-1.6zM920.3 379.4h1.6v1.6h-1.6zM921.9 379.4h1.6v1.6h-1.6zM923.5 379.4h1.6v1.6h-1.6zM925.1 379.4h1.6v1.6h-1.6zM926.7 379.4h1.6v1.6h-1.6zM928.3 379.4h1.6v1.6h-1.6zM929.9 379.4h1.6v1.6h-1.6zM931.5 379.4h1.6v1.6h-1.6zM933.1 379.4h1.6v1.6h-1.6zM934.7 379.4h1.6v1.6h-1.6zM936.3 379.4h1.6v1.6h-1.6zM937.9 379.4h1.6v1.6h-1.6zM939.5 379.4h1.6v1.6h-1.6zM941.1 379.4h1.6v1.6h-1.6zM942.7 379.4h1.6v1.6h-1.6zM944.3 379.4h1.6v1.6h-1.6zM945.9 379.4h1.6v1.6h-1.6zM947.5 379.4h1.6v1.6h-1.6zM949.1 379.4h1.6v1.6h-1.6zM910.7 377.8h1.6v1.6h-1.6zM913.9 377.8h1.6v1.6h-1.6zM915.5 377.8h1.6v1.6h-1.6zM917.1 377.8h1.6v1.6h-1.6zM918.7 377.8h1.6v1.6h-1.6zM920.3 377.8h1.6v1.6h-1.6zM921.9 377.8h1.6v1.6h-1.6zM923.5 377.8h1.6v1.6h-1.6zM926.7 377.8h1.6v1.6h-1.6zM928.3 377.8h1.6v1.6h-1.6zM929.9 377.8h1.6v1.6h-1.6zM931.5 377.8h1.6v1.6h-1.6zM933.1 377.8h1.6v1.6h-1.6zM934.7 377.8h1.6v1.6h-1.6zM936.3 377.8h1.6v1.6h-1.6zM937.9 377.8h1.6v1.6h-1.6zM939.5 377.8h1.6v1.6h-1.6zM941.1 377.8h1.6v1.6h-1.6zM942.7 377.8h1.6v1.6h-1.6zM944.3 377.8h1.6v1.6h-1.6zM945.9 377.8h1.6v1.6h-1.6zM912.3 376.2h1.6v1.6h-1.6zM913.9 376.2h1.6v1.6h-1.6zM915.5 376.2h1.6v1.6h-1.6zM917.1 376.2h1.6v1.6h-1.6zM918.7 376.2h1.6v1.6h-1.6zM920.3 376.2h1.6v1.6h-1.6zM921.9 376.2h1.6v1.6h-1.6zM923.5 376.2h1.6v1.6h-1.6zM925.1 376.2h1.6v1.6h-1.6zM926.7 376.2h1.6v1.6h-1.6zM928.3 376.2h1.6v1.6h-1.6zM929.9 376.2h1.6v1.6h-1.6zM931.5 376.2h1.6v1.6h-1.6zM933.1 376.2h1.6v1.6h-1.6zM934.7 376.2h1.6v1.6h-1.6zM936.3 376.2h1.6v1.6h-1.6zM937.9 376.2h1.6v1.6h-1.6zM939.5 376.2h1.6v1.6h-1.6zM941.1 376.2h1.6v1.6h-1.6zM944.3 376.2h1.6v1.6h-1.6zM945.9 376.2h1.6v1.6h-1.6zM917.1 374.6h1.6v1.6h-1.6zM918.7 374.6h1.6v1.6h-1.6zM920.3 374.6h1.6v1.6h-1.6zM921.9 374.6h1.6v1.6h-1.6zM923.5 374.6h1.6v1.6h-1.6zM925.1 374.6h1.6v1.6h-1.6zM926.7 374.6h1.6v1.6h-1.6zM928.3 374.6h1.6v1.6h-1.6zM929.9 374.6h1.6v1.6h-1.6zM931.5 374.6h1.6v1.6h-1.6zM933.1 374.6h1.6v1.6h-1.6zM934.7 374.6h1.6v1.6h-1.6zM939.5 374.6h1.6v1.6h-1.6zM941.1 374.6h1.6v1.6h-1.6zM942.7 374.6h1.6v1.6h-1.6zM944.3 374.6h1.6v1.6h-1.6zM950.7 374.6h1.6v1.6h-1.6zM912.3 373.0h1.6v1.6h-1.6zM915.5 373.0h1.6v1.6h-1.6zM917.1 373.0h1.6v1.6h-1.6zM918.7 373.0h1.6v1.6h-1.6zM920.3 373.0h1.6v1.6h-1.6zM921.9 373.0h1.6v1.6h-1.6zM923.5 373.0h1.6v1.6h-1.6zM925.1 373.0h1.6v1.6h-1.6zM926.7 373.0h1.6v1.6h-1.6zM928.3 373.0h1.6v1.6h-1.6zM929.9 373.0h1.6v1.6h-1.6zM933.1 373.0h1.6v1.6h-1.6zM934.7 373.0h1.6v1.6h-1.6zM936.3 373.0h1.6v1.6h-1.6zM937.9 373.0h1.6v1.6h-1.6zM939.5 373.0h1.6v1.6h-1.6zM941.1 373.0h1.6v1.6h-1.6zM942.7 373.0h1.6v1.6h-1.6zM944.3 373.0h1.6v1.6h-1.6zM945.9 373.0h1.6v1.6h-1.6zM917.1 371.4h1.6v1.6h-1.6zM918.7 371.4h1.6v1.6h-1.6zM920.3 371.4h1.6v1.6h-1.6zM923.5 371.4h1.6v1.6h-1.6zM925.1 371.4h1.6v1.6h-1.6zM926.7 371.4h1.6v1.6h-1.6zM928.3 371.4h1.6v1.6h-1.6zM929.9 371.4h1.6v1.6h-1.6zM931.5 371.4h1.6v1.6h-1.6zM933.1 371.4h1.6v1.6h-1.6zM936.3 371.4h1.6v1.6h-1.6zM937.9 371.4h1.6v1.6h-1.6zM941.1 371.4h1.6v1.6h-1.6zM942.7 371.4h1.6v1.6h-1.6zM947.5 371.4h1.6v1.6h-1.6zM915.5 369.8h1.6v1.6h-1.6zM918.7 369.8h1.6v1.6h-1.6zM920.3 369.8h1.6v1.6h-1.6zM921.9 369.8h1.6v1.6h-1.6zM925.1 369.8h1.6v1.6h-1.6zM926.7 369.8h1.6v1.6h-1.6zM928.3 369.8h1.6v1.6h-1.6zM929.9 369.8h1.6v1.6h-1.6zM931.5 369.8h1.6v1.6h-1.6zM933.1 369.8h1.6v1.6h-1.6zM936.3 369.8h1.6v1.6h-1.6zM939.5 369.8h1.6v1.6h-1.6zM941.1 369.8h1.6v1.6h-1.6zM942.7 369.8h1.6v1.6h-1.6zM944.3 369.8h1.6v1.6h-1.6zM913.9 368.2h1.6v1.6h-1.6zM917.1 368.2h1.6v1.6h-1.6zM918.7 368.2h1.6v1.6h-1.6zM920.3 368.2h1.6v1.6h-1.6zM921.9 368.2h1.6v1.6h-1.6zM923.5 368.2h1.6v1.6h-1.6zM925.1 368.2h1.6v1.6h-1.6zM926.7 368.2h1.6v1.6h-1.6zM928.3 368.2h1.6v1.6h-1.6zM929.9 368.2h1.6v1.6h-1.6zM931.5 368.2h1.6v1.6h-1.6zM933.1 368.2h1.6v1.6h-1.6zM941.1 368.2h1.6v1.6h-1.6zM942.7 368.2h1.6v1.6h-1.6zM913.9 366.6h1.6v1.6h-1.6zM918.7 366.6h1.6v1.6h-1.6zM920.3 366.6h1.6v1.6h-1.6zM921.9 366.6h1.6v1.6h-1.6zM925.1 366.6h1.6v1.6h-1.6zM926.7 366.6h1.6v1.6h-1.6zM928.3 366.6h1.6v1.6h-1.6zM929.9 366.6h1.6v1.6h-1.6zM931.5 366.6h1.6v1.6h-1.6zM934.7 366.6h1.6v1.6h-1.6zM937.9 366.6h1.6v1.6h-1.6zM939.5 366.6h1.6v1.6h-1.6zM941.1 366.6h1.6v1.6h-1.6zM942.7 366.6h1.6v1.6h-1.6zM950.7 366.6h1.6v1.6h-1.6zM918.7 365.0h1.6v1.6h-1.6zM920.3 365.0h1.6v1.6h-1.6zM921.9 365.0h1.6v1.6h-1.6zM923.5 365.0h1.6v1.6h-1.6zM925.1 365.0h1.6v1.6h-1.6zM926.7 365.0h1.6v1.6h-1.6zM933.1 365.0h1.6v1.6h-1.6zM934.7 365.0h1.6v1.6h-1.6zM936.3 365.0h1.6v1.6h-1.6zM937.9 365.0h1.6v1.6h-1.6zM941.1 365.0h1.6v1.6h-1.6zM942.7 365.0h1.6v1.6h-1.6zM944.3 365.0h1.6v1.6h-1.6zM945.9 365.0h1.6v1.6h-1.6zM907.5 363.4h1.6v1.6h-1.6zM909.1 363.4h1.6v1.6h-1.6zM917.1 363.4h1.6v1.6h-1.6zM921.9 363.4h1.6v1.6h-1.6zM923.5 363.4h1.6v1.6h-1.6zM925.1 363.4h1.6v1.6h-1.6zM926.7 363.4h1.6v1.6h-1.6zM928.3 363.4h1.6v1.6h-1.6zM929.9 363.4h1.6v1.6h-1.6zM931.5 363.4h1.6v1.6h-1.6zM933.1 363.4h1.6v1.6h-1.6zM934.7 363.4h1.6v1.6h-1.6zM936.3 363.4h1.6v1.6h-1.6zM937.9 363.4h1.6v1.6h-1.6zM939.5 363.4h1.6v1.6h-1.6zM941.1 363.4h1.6v1.6h-1.6zM918.7 361.8h1.6v1.6h-1.6zM920.3 361.8h1.6v1.6h-1.6zM921.9 361.8h1.6v1.6h-1.6zM923.5 361.8h1.6v1.6h-1.6zM925.1 361.8h1.6v1.6h-1.6zM926.7 361.8h1.6v1.6h-1.6zM928.3 361.8h1.6v1.6h-1.6zM929.9 361.8h1.6v1.6h-1.6zM931.5 361.8h1.6v1.6h-1.6zM934.7 361.8h1.6v1.6h-1.6zM936.3 361.8h1.6v1.6h-1.6zM937.9 361.8h1.6v1.6h-1.6zM939.5 361.8h1.6v1.6h-1.6zM913.9 360.2h1.6v1.6h-1.6zM917.1 360.2h1.6v1.6h-1.6zM921.9 360.2h1.6v1.6h-1.6zM923.5 360.2h1.6v1.6h-1.6zM925.1 360.2h1.6v1.6h-1.6zM926.7 360.2h1.6v1.6h-1.6zM928.3 360.2h1.6v1.6h-1.6zM931.5 360.2h1.6v1.6h-1.6zM933.1 360.2h1.6v1.6h-1.6zM934.7 360.2h1.6v1.6h-1.6zM936.3 360.2h1.6v1.6h-1.6zM937.9 360.2h1.6v1.6h-1.6zM939.5 360.2h1.6v1.6h-1.6zM913.9 358.6h1.6v1.6h-1.6zM917.1 358.6h1.6v1.6h-1.6zM920.3 358.6h1.6v1.6h-1.6zM921.9 358.6h1.6v1.6h-1.6zM926.7 358.6h1.6v1.6h-1.6zM928.3 358.6h1.6v1.6h-1.6zM929.9 358.6h1.6v1.6h-1.6zM931.5 358.6h1.6v1.6h-1.6zM933.1 358.6h1.6v1.6h-1.6zM934.7 358.6h1.6v1.6h-1.6zM936.3 358.6h1.6v1.6h-1.6zM937.9 358.6h1.6v1.6h-1.6zM942.7 358.6h1.6v1.6h-1.6zM944.3 358.6h1.6v1.6h-1.6zM913.9 357.0h1.6v1.6h-1.6zM920.3 357.0h1.6v1.6h-1.6zM925.1 357.0h1.6v1.6h-1.6zM926.7 357.0h1.6v1.6h-1.6zM928.3 357.0h1.6v1.6h-1.6zM931.5 357.0h1.6v1.6h-1.6zM934.7 357.0h1.6v1.6h-1.6zM936.3 357.0h1.6v1.6h-1.6zM937.9 357.0h1.6v1.6h-1.6zM939.5 357.0h1.6v1.6h-1.6zM941.1 357.0h1.6v1.6h-1.6zM944.3 357.0h1.6v1.6h-1.6zM915.5 355.4h1.6v1.6h-1.6zM918.7 355.4h1.6v1.6h-1.6zM921.9 355.4h1.6v1.6h-1.6zM925.1 355.4h1.6v1.6h-1.6zM926.7 355.4h1.6v1.6h-1.6zM928.3 355.4h1.6v1.6h-1.6zM931.5 355.4h1.6v1.6h-1.6zM933.1 355.4h1.6v1.6h-1.6zM934.7 355.4h1.6v1.6h-1.6zM936.3 355.4h1.6v1.6h-1.6zM937.9 355.4h1.6v1.6h-1.6zM939.5 355.4h1.6v1.6h-1.6zM944.3 355.4h1.6v1.6h-1.6zM915.5 353.8h1.6v1.6h-1.6zM923.5 353.8h1.6v1.6h-1.6zM925.1 353.8h1.6v1.6h-1.6zM928.3 353.8h1.6v1.6h-1.6zM929.9 353.8h1.6v1.6h-1.6zM933.1 353.8h1.6v1.6h-1.6zM934.7 353.8h1.6v1.6h-1.6zM942.7 353.8h1.6v1.6h-1.6zM945.9 353.8h1.6v1.6h-1.6zM926.7 352.2h1.6v1.6h-1.6zM928.3 352.2h1.6v1.6h-1.6zM929.9 352.2h1.6v1.6h-1.6zM931.5 352.2h1.6v1.6h-1.6zM934.7 352.2h1.6v1.6h-1.6zM936.3 352.2h1.6v1.6h-1.6zM941.1 352.2h1.6v1.6h-1.6zM918.7 350.6h1.6v1.6h-1.6zM921.9 350.6h1.6v1.6h-1.6zM928.3 350.6h1.6v1.6h-1.6zM929.9 350.6h1.6v1.6h-1.6zM933.1 350.6h1.6v1.6h-1.6zM937.9 350.6h1.6v1.6h-1.6zM909.1 349.0h1.6v1.6h-1.6zM915.5 349.0h1.6v1.6h-1.6zM917.1 349.0h1.6v1.6h-1.6zM925.1 349.0h1.6v1.6h-1.6zM928.3 349.0h1.6v1.6h-1.6zM929.9 349.0h1.6v1.6h-1.6zM933.1 349.0h1.6v1.6h-1.6zM918.7 347.4h1.6v1.6h-1.6zM920.3 347.4h1.6v1.6h-1.6zM923.5 347.4h1.6v1.6h-1.6zM926.7 347.4h1.6v1.6h-1.6zM928.3 347.4h1.6v1.6h-1.6zM931.5 347.4h1.6v1.6h-1.6zM933.1 347.4h1.6v1.6h-1.6zM934.7 347.4h1.6v1.6h-1.6zM925.1 345.8h1.6v1.6h-1.6zM926.7 345.8h1.6v1.6h-1.6zM928.3 345.8h1.6v1.6h-1.6zM929.9 345.8h1.6v1.6h-1.6zM933.1 345.8h1.6v1.6h-1.6zM934.7 345.8h1.6v1.6h-1.6zM941.1 345.8h1.6v1.6h-1.6zM925.1 344.2h1.6v1.6h-1.6zM926.7 344.2h1.6v1.6h-1.6zM928.3 344.2h1.6v1.6h-1.6zM929.9 344.2h1.6v1.6h-1.6zM931.5 344.2h1.6v1.6h-1.6zM934.7 344.2h1.6v1.6h-1.6zM921.9 342.6h1.6v1.6h-1.6zM926.7 342.6h1.6v1.6h-1.6zM928.3 342.6h1.6v1.6h-1.6zM931.5 342.6h1.6v1.6h-1.6zM933.1 342.6h1.6v1.6h-1.6zM934.7 342.6h1.6v1.6h-1.6zM920.3 341.0h1.6v1.6h-1.6zM933.1 341.0h1.6v1.6h-1.6zM939.5 341.0h1.6v1.6h-1.6zM928.3 339.4h1.6v1.6h-1.6zM921.9 337.8h1.6v1.6h-1.6zM928.3 337.8h1.6v1.6h-1.6zM933.1 337.8h1.6v1.6h-1.6zM936.3 337.8h1.6v1.6h-1.6zM941.1 336.2h1.6v1.6h-1.6zM942.7 336.2h1.6v1.6h-1.6zM928.3 334.6h1.6v1.6h-1.6zM937.9 334.6h1.6v1.6h-1.6zM933.1 333.0h1.6v1.6h-1.6zM925.1 331.4h1.6v1.6h-1.6zM933.1 329.8h1.6v1.6h-1.6zM937.9 329.8h1.6v1.6h-1.6zM944.3 329.8h1.6v1.6h-1.6zM937.9 328.2h1.6v1.6h-1.6zM925.1 326.6h1.6v1.6h-1.6zM945.9 326.6h1.6v1.6h-1.6zM928.3 325.0h1.6v1.6h-1.6zM923.5 323.4h1.6v1.6h-1.6zM931.5 323.4h1.6v1.6h-1.6zM936.3 323.4h1.6v1.6h-1.6zM928.3 321.8h1.6v1.6h-1.6zM929.9 318.6h1.6v1.6h-1.6zM925.1 317.0h1.6v1.6h-1.6zM934.7 317.0h1.6v1.6h-1.6zM936.3 317.0h1.6v1.6h-1.6zM937.9 315.4h1.6v1.6h-1.6zM918.7 312.2h1.6v1.6h-1.6zM936.3 312.2h1.6v1.6h-1.6zM929.9 310.6h1.6v1.6h-1.6zM933.1 310.6h1.6v1.6h-1.6zM933.1 309.0h1.6v1.6h-1.6zM921.9 307.4h1.6v1.6h-1.6zM931.5 305.8h1.6v1.6h-1.6zM942.7 304.2h1.6v1.6h-1.6zM925.1 302.6h1.6v1.6h-1.6zM928.3 302.6h1.6v1.6h-1.6zM926.7 301.0h1.6v1.6h-1.6zM934.7 301.0h1.6v1.6h-1.6zM926.7 296.2h1.6v1.6h-1.6zM934.7 296.2h1.6v1.6h-1.6zM931.5 294.6h1.6v1.6h-1.6zM929.9 293.0h1.6v1.6h-1.6zM937.9 289.8h1.6v1.6h-1.6zM929.9 288.2h1.6v1.6h-1.6zM933.1 288.2h1.6v1.6h-1.6zM941.1 288.2h1.6v1.6h-1.6zM925.1 285.0h1.6v1.6h-1.6zM925.1 283.4h1.6v1.6h-1.6zM918.7 280.2h1.6v1.6h-1.6zM920.3 278.6h1.6v1.6h-1.6zM925.1 278.6h1.6v1.6h-1.6zM931.5 278.6h1.6v1.6h-1.6zM933.1 277.0h1.6v1.6h-1.6zM918.7 253.0h1.6v1.6h-1.6zM934.7 241.8h1.6v1.6h-1.6zM934.7 235.4h1.6v1.6h-1.6zM934.7 211.4h1.6v1.6h-1.6zM926.7 169.8h1.6v1.6h-1.6zM930.7 190.0h1.6v1.6h-1.6zM923.5 281.7h1.6v1.6h-1.6zM932.3 218.5h1.6v1.6h-1.6zM925.2 214.5h1.6v1.6h-1.6zM921.6 203.9h1.6v1.6h-1.6zM916.7 181.5h1.6v1.6h-1.6zM926.5 181.9h1.6v1.6h-1.6zM926.1 274.9h1.6v1.6h-1.6zM940.7 278.2h1.6v1.6h-1.6zM923.0 170.4h1.6v1.6h-1.6zM923.5 278.9h1.6v1.6h-1.6zM938.7 241.1h1.6v1.6h-1.6zM935.0 227.5h1.6v1.6h-1.6zM936.7 277.0h1.6v1.6h-1.6zM921.5 233.8h1.6v1.6h-1.6zM928.0 270.4h1.6v1.6h-1.6zM922.9 205.1h1.6v1.6h-1.6zM924.4 210.4h1.6v1.6h-1.6zM918.0 202.4h1.6v1.6h-1.6zM919.8 285.7h1.6v1.6h-1.6zM930.1 273.6h1.6v1.6h-1.6zM916.4 261.0h1.6v1.6h-1.6zM932.8 252.9h1.6v1.6h-1.6zM934.5 167.2h1.6v1.6h-1.6zM926.0 286.8h1.6v1.6h-1.6zM934.3 274.2h1.6v1.6h-1.6zM924.4 286.5h1.6v1.6h-1.6zM925.1 234.8h1.6v1.6h-1.6zM936.5 263.5h1.6v1.6h-1.6zM940.8 199.4h1.6v1.6h-1.6zM930.8 218.7h1.6v1.6h-1.6zM931.1 274.3h1.6v1.6h-1.6zM950.4 252.3h1.6v1.6h-1.6zM924.0 243.4h1.6v1.6h-1.6zM918.8 184.9h1.6v1.6h-1.6zM920.9 220.0h1.6v1.6h-1.6zM926.3 214.3h1.6v1.6h-1.6zM920.4 268.8h1.6v1.6h-1.6zM929.0 246.1h1.6v1.6h-1.6zM922.7 197.0h1.6v1.6h-1.6zM934.5 165.4h1.6v1.6h-1.6zM936.5 272.8h1.6v1.6h-1.6zM921.1 164.6h1.6v1.6h-1.6zM921.3 231.2h1.6v1.6h-1.6zM926.9 238.0h1.6v1.6h-1.6zM917.1 214.9h1.6v1.6h-1.6zM922.5 210.0h1.6v1.6h-1.6zM921.3 236.9h1.6v1.6h-1.6zM928.2 246.3h1.6v1.6h-1.6zM927.5 206.8h1.6v1.6h-1.6zM931.3 232.6h1.6v1.6h-1.6zM943.1 279.4h1.6v1.6h-1.6zM940.6 240.3h1.6v1.6h-1.6zM935.7 267.6h1.6v1.6h-1.6zM929.1 253.6h1.6v1.6h-1.6zM926.9 240.9h1.6v1.6h-1.6zM927.1 287.1h1.6v1.6h-1.6zM924.9 265.0h1.6v1.6h-1.6zM928.0 229.9h1.6v1.6h-1.6zM928.2 280.1h1.6v1.6h-1.6zM926.0 199.2h1.6v1.6h-1.6zM923.8 192.4h1.6v1.6h-1.6zM934.0 184.5h1.6v1.6h-1.6zM932.9 254.9h1.6v1.6h-1.6zM923.1 211.0h1.6v1.6h-1.6zM931.9 272.8h1.6v1.6h-1.6zM927.7 274.0h1.6v1.6h-1.6zM931.9 286.6h1.6v1.6h-1.6zM940.0 235.4h1.6v1.6h-1.6zM950.1 266.3h1.6v1.6h-1.6zM942.0 265.9h1.6v1.6h-1.6zM919.7 279.5h1.6v1.6h-1.6zM927.3 258.7h1.6v1.6h-1.6zM915.8 215.6h1.6v1.6h-1.6zM928.8 245.4h1.6v1.6h-1.6zM932.5 243.5h1.6v1.6h-1.6zM928.6 229.9h1.6v1.6h-1.6zM938.1 272.3h1.6v1.6h-1.6zM932.4 171.6h1.6v1.6h-1.6zM923.8 277.3h1.6v1.6h-1.6zM932.5 198.6h1.6v1.6h-1.6zM924.9 283.9h1.6v1.6h-1.6zM926.9 195.4h1.6v1.6h-1.6zM933.6 191.9h1.6v1.6h-1.6zM943.2 230.9h1.6v1.6h-1.6zM924.0 209.3h1.6v1.6h-1.6zM930.5 241.9h1.6v1.6h-1.6zM928.6 285.1h1.6v1.6h-1.6zM932.2 279.1h1.6v1.6h-1.6zM927.8 256.1h1.6v1.6h-1.6zM922.2 272.1h1.6v1.6h-1.6zM914.5 257.9h1.6v1.6h-1.6zM928.9 244.7h1.6v1.6h-1.6zM939.1 209.0h1.6v1.6h-1.6zM944.0 209.1h1.6v1.6h-1.6zM938.1 239.2h1.6v1.6h-1.6zM940.9 283.9h1.6v1.6h-1.6zM936.9 273.3h1.6v1.6h-1.6zM916.7 266.7h1.6v1.6h-1.6zM933.0 261.5h1.6v1.6h-1.6zM941.3 260.8h1.6v1.6h-1.6zM919.8 238.7h1.6v1.6h-1.6zM924.9 270.5h1.6v1.6h-1.6zM929.7 281.3h1.6v1.6h-1.6zM937.3 233.2h1.6v1.6h-1.6zM942.1 280.2h1.6v1.6h-1.6zM937.1 270.9h1.6v1.6h-1.6zM925.2 268.7h1.6v1.6h-1.6zM923.6 252.8h1.6v1.6h-1.6zM930.7 257.6h1.6v1.6h-1.6zM936.2 441.8h1.6v1.6h-1.6zM937.4 442.4h1.6v1.6h-1.6zM936.8 441.3h1.6v1.6h-1.6zM944.1 440.0h1.6v1.6h-1.6zM931.1 438.4h1.6v1.6h-1.6zM918.5 438.2h1.6v1.6h-1.6zM913.2 439.1h1.6v1.6h-1.6zM920.9 439.8h1.6v1.6h-1.6zM943.7 438.7h1.6v1.6h-1.6zM946.5 442.0h1.6v1.6h-1.6zM916.7 440.0h1.6v1.6h-1.6zM916.9 438.1h1.6v1.6h-1.6zM917.9 438.5h1.6v1.6h-1.6zM908.8 438.1h1.6v1.6h-1.6zM942.8 442.4h1.6v1.6h-1.6zM945.2 438.2h1.6v1.6h-1.6zM909.5 442.3h1.6v1.6h-1.6zM924.4 438.9h1.6v1.6h-1.6zM938.3 439.7h1.6v1.6h-1.6zM922.5 438.4h1.6v1.6h-1.6zM913.4 440.7h1.6v1.6h-1.6zM947.0 438.1h1.6v1.6h-1.6zM918.0 439.6h1.6v1.6h-1.6zM919.8 439.5h1.6v1.6h-1.6zM929.8 438.7h1.6v1.6h-1.6zM913.5 439.2h1.6v1.6h-1.6zM943.0 438.3h1.6v1.6h-1.6zM931.4 441.7h1.6v1.6h-1.6zM932.7 438.9h1.6v1.6h-1.6zM948.0 441.3h1.6v1.6h-1.6zM950.9 438.8h1.6v1.6h-1.6zM929.1 439.3h1.6v1.6h-1.6zM944.2 440.1h1.6v1.6h-1.6zM931.9 439.6h1.6v1.6h-1.6zM946.4 439.0h1.6v1.6h-1.6zM914.1 438.4h1.6v1.6h-1.6zM918.9 438.2h1.6v1.6h-1.6zM950.0 439.8h1.6v1.6h-1.6zM942.4 439.3h1.6v1.6h-1.6zM930.7 438.6h1.6v1.6h-1.6zM946.4 439.2h1.6v1.6h-1.6zM925.7 441.0h1.6v1.6h-1.6zM945.4 451.2h1.6v1.6h-1.6zM929.0 439.2h1.6v1.6h-1.6zM943.6 439.2h1.6v1.6h-1.6zM917.1 439.4h1.6v1.6h-1.6zM921.5 438.7h1.6v1.6h-1.6zM941.3 438.9h1.6v1.6h-1.6zM935.1 438.8h1.6v1.6h-1.6zM913.4 441.3h1.6v1.6h-1.6zM941.4 440.7h1.6v1.6h-1.6zM934.4 438.4h1.6v1.6h-1.6zM929.8 441.9h1.6v1.6h-1.6zM941.8 440.0h1.6v1.6h-1.6zM935.3 438.4h1.6v1.6h-1.6zM910.8 442.1h1.6v1.6h-1.6zM909.3 438.6h1.6v1.6h-1.6zM925.5 440.7h1.6v1.6h-1.6zM938.1 442.4h1.6v1.6h-1.6zM948.0 438.7h1.6v1.6h-1.6zM1004.8 438.0h1.6v1.6h-1.6zM1008.4 437.9h1.6v1.6h-1.6zM1035.8 440.5h1.6v1.6h-1.6zM1015.4 437.7h1.6v1.6h-1.6zM1033.7 438.5h1.6v1.6h-1.6zM1027.5 438.3h1.6v1.6h-1.6zM1005.8 438.0h1.6v1.6h-1.6zM1017.3 438.7h1.6v1.6h-1.6zM1018.9 441.9h1.6v1.6h-1.6zM1003.8 438.0h1.6v1.6h-1.6zM1016.4 439.3h1.6v1.6h-1.6zM1013.4 439.1h1.6v1.6h-1.6zM1001.2 438.0h1.6v1.6h-1.6zM1025.6 441.0h1.6v1.6h-1.6zM1023.9 441.1h1.6v1.6h-1.6zM1016.3 438.3h1.6v1.6h-1.6zM1033.8 440.2h1.6v1.6h-1.6zM1013.9 438.6h1.6v1.6h-1.6zM1010.4 451.4h1.6v1.6h-1.6zM1011.7 443.2h1.6v1.6h-1.6zM999.4 440.7h1.6v1.6h-1.6zM1005.8 438.4h1.6v1.6h-1.6zM1007.2 439.3h1.6v1.6h-1.6zM1022.0 439.3h1.6v1.6h-1.6zM1031.5 438.1h1.6v1.6h-1.6zM1031.2 439.5h1.6v1.6h-1.6zM1028.5 439.3h1.6v1.6h-1.6zM1005.2 445.4h1.6v1.6h-1.6zM1021.7 442.0h1.6v1.6h-1.6zM1016.7 441.8h1.6v1.6h-1.6zM1035.6 442.2h1.6v1.6h-1.6zM1036.1 439.0h1.6v1.6h-1.6zM1007.0 445.0h1.6v1.6h-1.6zM1030.3 445.2h1.6v1.6h-1.6zM1012.9 439.4h1.6v1.6h-1.6zM1035.2 438.3h1.6v1.6h-1.6zM1001.2 438.2h1.6v1.6h-1.6zM1007.2 439.4h1.6v1.6h-1.6zM1010.7 439.7h1.6v1.6h-1.6zM995.5 439.0h1.6v1.6h-1.6zM1016.1 437.7h1.6v1.6h-1.6zM1014.9 445.7h1.6v1.6h-1.6zM1022.4 447.7h1.6v1.6h-1.6zM1031.4 439.9h1.6v1.6h-1.6zM994.9 437.7h1.6v1.6h-1.6zM1019.1 444.0h1.6v1.6h-1.6zM1008.4 438.0h1.6v1.6h-1.6zM1027.0 440.2h1.6v1.6h-1.6zM1014.4 438.0h1.6v1.6h-1.6zM1018.1 440.5h1.6v1.6h-1.6zM1024.9 445.6h1.6v1.6h-1.6zM997.3 443.7h1.6v1.6h-1.6zM1008.0 439.4h1.6v1.6h-1.6zM1009.0 443.3h1.6v1.6h-1.6zM1013.2 437.8h1.6v1.6h-1.6zM1014.6 438.1h1.6v1.6h-1.6zM994.7 437.7h1.6v1.6h-1.6zM1010.6 439.6h1.6v1.6h-1.6zM994.0 438.0h1.6v1.6h-1.6zM1033.2 440.2h1.6v1.6h-1.6zM1036.6 440.2h1.6v1.6h-1.6zM1035.5 441.6h1.6v1.6h-1.6zM1010.8 437.7h1.6v1.6h-1.6zM1000.4 443.0h1.6v1.6h-1.6zM1022.8 438.7h1.6v1.6h-1.6zM1001.1 441.1h1.6v1.6h-1.6zM1034.4 438.5h1.6v1.6h-1.6zM1037.4 440.2h1.6v1.6h-1.6zM1003.1 438.2h1.6v1.6h-1.6zM1025.0 446.7h1.6v1.6h-1.6zM1002.8 438.5h1.6v1.6h-1.6zM1000.2 438.3h1.6v1.6h-1.6zM1003.8 439.4h1.6v1.6h-1.6zM1004.3 441.3h1.6v1.6h-1.6zM1004.4 438.6h1.6v1.6h-1.6zM1012.2 438.1h1.6v1.6h-1.6zM996.2 437.8h1.6v1.6h-1.6zM994.2 441.4h1.6v1.6h-1.6zM996.1 439.8h1.6v1.6h-1.6zM1032.7 440.8h1.6v1.6h-1.6zM1007.3 439.3h1.6v1.6h-1.6zM1012.6 438.9h1.6v1.6h-1.6zM996.3 438.1h1.6v1.6h-1.6zM1000.2 438.3h1.6v1.6h-1.6zM1008.4 437.9h1.6v1.6h-1.6zM1020.8 438.3h1.6v1.6h-1.6zM1016.2 441.6h1.6v1.6h-1.6zM1015.6 442.2h1.6v1.6h-1.6zM1027.9 439.6h1.6v1.6h-1.6zM1003.2 437.7h1.6v1.6h-1.6zM1024.1 439.1h1.6v1.6h-1.6zM1006.7 437.8h1.6v1.6h-1.6zM1001.8 445.3h1.6v1.6h-1.6zM1014.5 444.1h1.6v1.6h-1.6zM1030.7 438.5h1.6v1.6h-1.6zM1003.8 445.1h1.6v1.6h-1.6zM1004.3 440.7h1.6v1.6h-1.6zM1034.7 439.7h1.6v1.6h-1.6zM1012.5 448.6h1.6v1.6h-1.6zM1031.5 446.7h1.6v1.6h-1.6zM1024.8 438.4h1.6v1.6h-1.6zM996.1 437.6h1.6v1.6h-1.6zM1034.2 440.2h1.6v1.6h-1.6zM1032.4 448.6h1.6v1.6h-1.6zM1004.3 449.8h1.6v1.6h-1.6zM1005.9 438.2h1.6v1.6h-1.6zM1005.8 456.4h1.6v1.6h-1.6zM1034.9 439.0h1.6v1.6h-1.6zM1015.0 443.6h1.6v1.6h-1.6zM1029.0 445.5h1.6v1.6h-1.6zM1012.3 448.0h1.6v1.6h-1.6zM1021.5 462.0h1.6v1.6h-1.6zM1002.7 444.5h1.6v1.6h-1.6zM1004.6 448.0h1.6v1.6h-1.6zM1026.7 454.1h1.6v1.6h-1.6zM1010.7 454.5h1.6v1.6h-1.6zM1003.6 451.2h1.6v1.6h-1.6zM1021.3 447.1h1.6v1.6h-1.6zM1000.2 457.9h1.6v1.6h-1.6zM1014.4 473.2h1.6v1.6h-1.6zM995.1 395.4h1.6v1.6h-1.6zM996.7 395.4h1.6v1.6h-1.6zM998.3 395.4h1.6v1.6h-1.6zM999.9 395.4h1.6v1.6h-1.6zM1001.5 395.4h1.6v1.6h-1.6zM1003.1 395.4h1.6v1.6h-1.6zM1004.7 395.4h1.6v1.6h-1.6zM1006.3 395.4h1.6v1.6h-1.6zM1007.9 395.4h1.6v1.6h-1.6zM1009.5 395.4h1.6v1.6h-1.6zM1011.1 395.4h1.6v1.6h-1.6zM1012.7 395.4h1.6v1.6h-1.6zM1014.3 395.4h1.6v1.6h-1.6zM1015.9 395.4h1.6v1.6h-1.6zM1017.5 395.4h1.6v1.6h-1.6zM1019.1 395.4h1.6v1.6h-1.6zM1020.7 395.4h1.6v1.6h-1.6zM1022.3 395.4h1.6v1.6h-1.6zM1023.9 395.4h1.6v1.6h-1.6zM1025.5 395.4h1.6v1.6h-1.6zM1027.1 395.4h1.6v1.6h-1.6zM1028.7 395.4h1.6v1.6h-1.6zM1030.3 395.4h1.6v1.6h-1.6zM1031.9 395.4h1.6v1.6h-1.6zM1033.5 395.4h1.6v1.6h-1.6zM1035.1 395.4h1.6v1.6h-1.6zM1036.7 395.4h1.6v1.6h-1.6zM996.7 393.8h1.6v1.6h-1.6zM998.3 393.8h1.6v1.6h-1.6zM999.9 393.8h1.6v1.6h-1.6zM1001.5 393.8h1.6v1.6h-1.6zM1003.1 393.8h1.6v1.6h-1.6zM1004.7 393.8h1.6v1.6h-1.6zM1006.3 393.8h1.6v1.6h-1.6zM1007.9 393.8h1.6v1.6h-1.6zM1009.5 393.8h1.6v1.6h-1.6zM1011.1 393.8h1.6v1.6h-1.6zM1012.7 393.8h1.6v1.6h-1.6zM1014.3 393.8h1.6v1.6h-1.6zM1015.9 393.8h1.6v1.6h-1.6zM1017.5 393.8h1.6v1.6h-1.6zM1019.1 393.8h1.6v1.6h-1.6zM1020.7 393.8h1.6v1.6h-1.6zM1022.3 393.8h1.6v1.6h-1.6zM1023.9 393.8h1.6v1.6h-1.6zM1025.5 393.8h1.6v1.6h-1.6zM1027.1 393.8h1.6v1.6h-1.6zM1028.7 393.8h1.6v1.6h-1.6zM1030.3 393.8h1.6v1.6h-1.6zM1031.9 393.8h1.6v1.6h-1.6zM1033.5 393.8h1.6v1.6h-1.6zM1035.1 393.8h1.6v1.6h-1.6zM995.1 392.2h1.6v1.6h-1.6zM996.7 392.2h1.6v1.6h-1.6zM998.3 392.2h1.6v1.6h-1.6zM999.9 392.2h1.6v1.6h-1.6zM1001.5 392.2h1.6v1.6h-1.6zM1003.1 392.2h1.6v1.6h-1.6zM1004.7 392.2h1.6v1.6h-1.6zM1006.3 392.2h1.6v1.6h-1.6zM1007.9 392.2h1.6v1.6h-1.6zM1009.5 392.2h1.6v1.6h-1.6zM1011.1 392.2h1.6v1.6h-1.6zM1012.7 392.2h1.6v1.6h-1.6zM1014.3 392.2h1.6v1.6h-1.6zM1015.9 392.2h1.6v1.6h-1.6zM1017.5 392.2h1.6v1.6h-1.6zM1019.1 392.2h1.6v1.6h-1.6zM1020.7 392.2h1.6v1.6h-1.6zM1022.3 392.2h1.6v1.6h-1.6zM1023.9 392.2h1.6v1.6h-1.6zM1025.5 392.2h1.6v1.6h-1.6zM1027.1 392.2h1.6v1.6h-1.6zM1028.7 392.2h1.6v1.6h-1.6zM1030.3 392.2h1.6v1.6h-1.6zM1031.9 392.2h1.6v1.6h-1.6zM1033.5 392.2h1.6v1.6h-1.6zM1035.1 392.2h1.6v1.6h-1.6zM996.7 390.6h1.6v1.6h-1.6zM998.3 390.6h1.6v1.6h-1.6zM999.9 390.6h1.6v1.6h-1.6zM1001.5 390.6h1.6v1.6h-1.6zM1003.1 390.6h1.6v1.6h-1.6zM1004.7 390.6h1.6v1.6h-1.6zM1006.3 390.6h1.6v1.6h-1.6zM1007.9 390.6h1.6v1.6h-1.6zM1009.5 390.6h1.6v1.6h-1.6zM1011.1 390.6h1.6v1.6h-1.6zM1012.7 390.6h1.6v1.6h-1.6zM1014.3 390.6h1.6v1.6h-1.6zM1015.9 390.6h1.6v1.6h-1.6zM1017.5 390.6h1.6v1.6h-1.6zM1019.1 390.6h1.6v1.6h-1.6zM1020.7 390.6h1.6v1.6h-1.6zM1023.9 390.6h1.6v1.6h-1.6zM1025.5 390.6h1.6v1.6h-1.6zM1027.1 390.6h1.6v1.6h-1.6zM1028.7 390.6h1.6v1.6h-1.6zM1030.3 390.6h1.6v1.6h-1.6zM1031.9 390.6h1.6v1.6h-1.6zM1033.5 390.6h1.6v1.6h-1.6zM1035.1 390.6h1.6v1.6h-1.6zM996.7 389.0h1.6v1.6h-1.6zM998.3 389.0h1.6v1.6h-1.6zM999.9 389.0h1.6v1.6h-1.6zM1001.5 389.0h1.6v1.6h-1.6zM1003.1 389.0h1.6v1.6h-1.6zM1006.3 389.0h1.6v1.6h-1.6zM1007.9 389.0h1.6v1.6h-1.6zM1009.5 389.0h1.6v1.6h-1.6zM1011.1 389.0h1.6v1.6h-1.6zM1012.7 389.0h1.6v1.6h-1.6zM1014.3 389.0h1.6v1.6h-1.6zM1015.9 389.0h1.6v1.6h-1.6zM1017.5 389.0h1.6v1.6h-1.6zM1019.1 389.0h1.6v1.6h-1.6zM1020.7 389.0h1.6v1.6h-1.6zM1022.3 389.0h1.6v1.6h-1.6zM1023.9 389.0h1.6v1.6h-1.6zM1025.5 389.0h1.6v1.6h-1.6zM1027.1 389.0h1.6v1.6h-1.6zM1028.7 389.0h1.6v1.6h-1.6zM1030.3 389.0h1.6v1.6h-1.6zM1031.9 389.0h1.6v1.6h-1.6zM995.1 387.4h1.6v1.6h-1.6zM999.9 387.4h1.6v1.6h-1.6zM1001.5 387.4h1.6v1.6h-1.6zM1003.1 387.4h1.6v1.6h-1.6zM1004.7 387.4h1.6v1.6h-1.6zM1006.3 387.4h1.6v1.6h-1.6zM1007.9 387.4h1.6v1.6h-1.6zM1009.5 387.4h1.6v1.6h-1.6zM1011.1 387.4h1.6v1.6h-1.6zM1012.7 387.4h1.6v1.6h-1.6zM1014.3 387.4h1.6v1.6h-1.6zM1015.9 387.4h1.6v1.6h-1.6zM1019.1 387.4h1.6v1.6h-1.6zM1020.7 387.4h1.6v1.6h-1.6zM1022.3 387.4h1.6v1.6h-1.6zM1023.9 387.4h1.6v1.6h-1.6zM1025.5 387.4h1.6v1.6h-1.6zM1028.7 387.4h1.6v1.6h-1.6zM1030.3 387.4h1.6v1.6h-1.6zM1031.9 387.4h1.6v1.6h-1.6zM1033.5 387.4h1.6v1.6h-1.6zM998.3 385.8h1.6v1.6h-1.6zM999.9 385.8h1.6v1.6h-1.6zM1001.5 385.8h1.6v1.6h-1.6zM1003.1 385.8h1.6v1.6h-1.6zM1004.7 385.8h1.6v1.6h-1.6zM1006.3 385.8h1.6v1.6h-1.6zM1007.9 385.8h1.6v1.6h-1.6zM1009.5 385.8h1.6v1.6h-1.6zM1011.1 385.8h1.6v1.6h-1.6zM1014.3 385.8h1.6v1.6h-1.6zM1015.9 385.8h1.6v1.6h-1.6zM1017.5 385.8h1.6v1.6h-1.6zM1019.1 385.8h1.6v1.6h-1.6zM1020.7 385.8h1.6v1.6h-1.6zM1022.3 385.8h1.6v1.6h-1.6zM1023.9 385.8h1.6v1.6h-1.6zM1025.5 385.8h1.6v1.6h-1.6zM1027.1 385.8h1.6v1.6h-1.6zM1028.7 385.8h1.6v1.6h-1.6zM1030.3 385.8h1.6v1.6h-1.6zM1031.9 385.8h1.6v1.6h-1.6zM1033.5 385.8h1.6v1.6h-1.6zM1035.1 385.8h1.6v1.6h-1.6zM998.3 384.2h1.6v1.6h-1.6zM999.9 384.2h1.6v1.6h-1.6zM1001.5 384.2h1.6v1.6h-1.6zM1003.1 384.2h1.6v1.6h-1.6zM1004.7 384.2h1.6v1.6h-1.6zM1006.3 384.2h1.6v1.6h-1.6zM1007.9 384.2h1.6v1.6h-1.6zM1009.5 384.2h1.6v1.6h-1.6zM1011.1 384.2h1.6v1.6h-1.6zM1014.3 384.2h1.6v1.6h-1.6zM1015.9 384.2h1.6v1.6h-1.6zM1017.5 384.2h1.6v1.6h-1.6zM1019.1 384.2h1.6v1.6h-1.6zM1020.7 384.2h1.6v1.6h-1.6zM1022.3 384.2h1.6v1.6h-1.6zM1023.9 384.2h1.6v1.6h-1.6zM1025.5 384.2h1.6v1.6h-1.6zM1027.1 384.2h1.6v1.6h-1.6zM1028.7 384.2h1.6v1.6h-1.6zM1030.3 384.2h1.6v1.6h-1.6zM1031.9 384.2h1.6v1.6h-1.6zM1033.5 384.2h1.6v1.6h-1.6zM1035.1 384.2h1.6v1.6h-1.6zM998.3 382.6h1.6v1.6h-1.6zM999.9 382.6h1.6v1.6h-1.6zM1001.5 382.6h1.6v1.6h-1.6zM1003.1 382.6h1.6v1.6h-1.6zM1004.7 382.6h1.6v1.6h-1.6zM1006.3 382.6h1.6v1.6h-1.6zM1007.9 382.6h1.6v1.6h-1.6zM1009.5 382.6h1.6v1.6h-1.6zM1011.1 382.6h1.6v1.6h-1.6zM1012.7 382.6h1.6v1.6h-1.6zM1014.3 382.6h1.6v1.6h-1.6zM1017.5 382.6h1.6v1.6h-1.6zM1019.1 382.6h1.6v1.6h-1.6zM1020.7 382.6h1.6v1.6h-1.6zM1022.3 382.6h1.6v1.6h-1.6zM1023.9 382.6h1.6v1.6h-1.6zM1025.5 382.6h1.6v1.6h-1.6zM1027.1 382.6h1.6v1.6h-1.6zM1028.7 382.6h1.6v1.6h-1.6zM1030.3 382.6h1.6v1.6h-1.6zM1033.5 382.6h1.6v1.6h-1.6zM1036.7 382.6h1.6v1.6h-1.6zM998.3 381.0h1.6v1.6h-1.6zM999.9 381.0h1.6v1.6h-1.6zM1001.5 381.0h1.6v1.6h-1.6zM1003.1 381.0h1.6v1.6h-1.6zM1004.7 381.0h1.6v1.6h-1.6zM1006.3 381.0h1.6v1.6h-1.6zM1007.9 381.0h1.6v1.6h-1.6zM1009.5 381.0h1.6v1.6h-1.6zM1012.7 381.0h1.6v1.6h-1.6zM1014.3 381.0h1.6v1.6h-1.6zM1015.9 381.0h1.6v1.6h-1.6zM1019.1 381.0h1.6v1.6h-1.6zM1020.7 381.0h1.6v1.6h-1.6zM1023.9 381.0h1.6v1.6h-1.6zM1025.5 381.0h1.6v1.6h-1.6zM1027.1 381.0h1.6v1.6h-1.6zM1028.7 381.0h1.6v1.6h-1.6zM1030.3 381.0h1.6v1.6h-1.6zM1001.5 379.4h1.6v1.6h-1.6zM1003.1 379.4h1.6v1.6h-1.6zM1006.3 379.4h1.6v1.6h-1.6zM1007.9 379.4h1.6v1.6h-1.6zM1009.5 379.4h1.6v1.6h-1.6zM1011.1 379.4h1.6v1.6h-1.6zM1012.7 379.4h1.6v1.6h-1.6zM1014.3 379.4h1.6v1.6h-1.6zM1017.5 379.4h1.6v1.6h-1.6zM1019.1 379.4h1.6v1.6h-1.6zM1020.7 379.4h1.6v1.6h-1.6zM1022.3 379.4h1.6v1.6h-1.6zM1025.5 379.4h1.6v1.6h-1.6zM1027.1 379.4h1.6v1.6h-1.6zM1028.7 379.4h1.6v1.6h-1.6zM1030.3 379.4h1.6v1.6h-1.6zM1031.9 379.4h1.6v1.6h-1.6zM1033.5 379.4h1.6v1.6h-1.6zM996.7 377.8h1.6v1.6h-1.6zM998.3 377.8h1.6v1.6h-1.6zM1003.1 377.8h1.6v1.6h-1.6zM1004.7 377.8h1.6v1.6h-1.6zM1006.3 377.8h1.6v1.6h-1.6zM1007.9 377.8h1.6v1.6h-1.6zM1009.5 377.8h1.6v1.6h-1.6zM1011.1 377.8h1.6v1.6h-1.6zM1012.7 377.8h1.6v1.6h-1.6zM1014.3 377.8h1.6v1.6h-1.6zM1015.9 377.8h1.6v1.6h-1.6zM1017.5 377.8h1.6v1.6h-1.6zM1019.1 377.8h1.6v1.6h-1.6zM1023.9 377.8h1.6v1.6h-1.6zM1025.5 377.8h1.6v1.6h-1.6zM1027.1 377.8h1.6v1.6h-1.6zM1028.7 377.8h1.6v1.6h-1.6zM998.3 376.2h1.6v1.6h-1.6zM1003.1 376.2h1.6v1.6h-1.6zM1004.7 376.2h1.6v1.6h-1.6zM1006.3 376.2h1.6v1.6h-1.6zM1007.9 376.2h1.6v1.6h-1.6zM1009.5 376.2h1.6v1.6h-1.6zM1011.1 376.2h1.6v1.6h-1.6zM1012.7 376.2h1.6v1.6h-1.6zM1014.3 376.2h1.6v1.6h-1.6zM1015.9 376.2h1.6v1.6h-1.6zM1017.5 376.2h1.6v1.6h-1.6zM1019.1 376.2h1.6v1.6h-1.6zM1020.7 376.2h1.6v1.6h-1.6zM1022.3 376.2h1.6v1.6h-1.6zM1025.5 376.2h1.6v1.6h-1.6zM1027.1 376.2h1.6v1.6h-1.6zM1028.7 376.2h1.6v1.6h-1.6zM1030.3 376.2h1.6v1.6h-1.6zM1031.9 376.2h1.6v1.6h-1.6zM1001.5 374.6h1.6v1.6h-1.6zM1003.1 374.6h1.6v1.6h-1.6zM1004.7 374.6h1.6v1.6h-1.6zM1006.3 374.6h1.6v1.6h-1.6zM1007.9 374.6h1.6v1.6h-1.6zM1009.5 374.6h1.6v1.6h-1.6zM1011.1 374.6h1.6v1.6h-1.6zM1012.7 374.6h1.6v1.6h-1.6zM1014.3 374.6h1.6v1.6h-1.6zM1015.9 374.6h1.6v1.6h-1.6zM1017.5 374.6h1.6v1.6h-1.6zM1019.1 374.6h1.6v1.6h-1.6zM1020.7 374.6h1.6v1.6h-1.6zM1022.3 374.6h1.6v1.6h-1.6zM1023.9 374.6h1.6v1.6h-1.6zM1025.5 374.6h1.6v1.6h-1.6zM1027.1 374.6h1.6v1.6h-1.6zM1028.7 374.6h1.6v1.6h-1.6zM1031.9 374.6h1.6v1.6h-1.6zM1036.7 374.6h1.6v1.6h-1.6zM1003.1 373.0h1.6v1.6h-1.6zM1004.7 373.0h1.6v1.6h-1.6zM1006.3 373.0h1.6v1.6h-1.6zM1007.9 373.0h1.6v1.6h-1.6zM1009.5 373.0h1.6v1.6h-1.6zM1011.1 373.0h1.6v1.6h-1.6zM1012.7 373.0h1.6v1.6h-1.6zM1014.3 373.0h1.6v1.6h-1.6zM1015.9 373.0h1.6v1.6h-1.6zM1017.5 373.0h1.6v1.6h-1.6zM1019.1 373.0h1.6v1.6h-1.6zM1020.7 373.0h1.6v1.6h-1.6zM1025.5 373.0h1.6v1.6h-1.6zM1027.1 373.0h1.6v1.6h-1.6zM1003.1 371.4h1.6v1.6h-1.6zM1004.7 371.4h1.6v1.6h-1.6zM1006.3 371.4h1.6v1.6h-1.6zM1007.9 371.4h1.6v1.6h-1.6zM1011.1 371.4h1.6v1.6h-1.6zM1014.3 371.4h1.6v1.6h-1.6zM1015.9 371.4h1.6v1.6h-1.6zM1017.5 371.4h1.6v1.6h-1.6zM1019.1 371.4h1.6v1.6h-1.6zM1022.3 371.4h1.6v1.6h-1.6zM1023.9 371.4h1.6v1.6h-1.6zM1025.5 371.4h1.6v1.6h-1.6zM1027.1 371.4h1.6v1.6h-1.6zM998.3 369.8h1.6v1.6h-1.6zM1001.5 369.8h1.6v1.6h-1.6zM1004.7 369.8h1.6v1.6h-1.6zM1009.5 369.8h1.6v1.6h-1.6zM1012.7 369.8h1.6v1.6h-1.6zM1014.3 369.8h1.6v1.6h-1.6zM1017.5 369.8h1.6v1.6h-1.6zM1020.7 369.8h1.6v1.6h-1.6zM1022.3 369.8h1.6v1.6h-1.6zM1023.9 369.8h1.6v1.6h-1.6zM1025.5 369.8h1.6v1.6h-1.6zM1027.1 369.8h1.6v1.6h-1.6zM1001.5 368.2h1.6v1.6h-1.6zM1007.9 368.2h1.6v1.6h-1.6zM1009.5 368.2h1.6v1.6h-1.6zM1011.1 368.2h1.6v1.6h-1.6zM1014.3 368.2h1.6v1.6h-1.6zM1015.9 368.2h1.6v1.6h-1.6zM1017.5 368.2h1.6v1.6h-1.6zM1019.1 368.2h1.6v1.6h-1.6zM1020.7 368.2h1.6v1.6h-1.6zM1025.5 368.2h1.6v1.6h-1.6zM1028.7 368.2h1.6v1.6h-1.6zM1033.5 368.2h1.6v1.6h-1.6zM1006.3 366.6h1.6v1.6h-1.6zM1007.9 366.6h1.6v1.6h-1.6zM1009.5 366.6h1.6v1.6h-1.6zM1011.1 366.6h1.6v1.6h-1.6zM1012.7 366.6h1.6v1.6h-1.6zM1014.3 366.6h1.6v1.6h-1.6zM1015.9 366.6h1.6v1.6h-1.6zM1020.7 366.6h1.6v1.6h-1.6zM1023.9 366.6h1.6v1.6h-1.6zM1007.9 365.0h1.6v1.6h-1.6zM1011.1 365.0h1.6v1.6h-1.6zM1012.7 365.0h1.6v1.6h-1.6zM1014.3 365.0h1.6v1.6h-1.6zM1015.9 365.0h1.6v1.6h-1.6zM1017.5 365.0h1.6v1.6h-1.6zM1019.1 365.0h1.6v1.6h-1.6zM1020.7 365.0h1.6v1.6h-1.6zM1022.3 365.0h1.6v1.6h-1.6zM1023.9 365.0h1.6v1.6h-1.6zM1028.7 365.0h1.6v1.6h-1.6zM1033.5 365.0h1.6v1.6h-1.6zM1009.5 363.4h1.6v1.6h-1.6zM1012.7 363.4h1.6v1.6h-1.6zM1015.9 363.4h1.6v1.6h-1.6zM1017.5 363.4h1.6v1.6h-1.6zM1020.7 363.4h1.6v1.6h-1.6zM1022.3 363.4h1.6v1.6h-1.6zM1023.9 363.4h1.6v1.6h-1.6zM1025.5 363.4h1.6v1.6h-1.6zM1003.1 361.8h1.6v1.6h-1.6zM1011.1 361.8h1.6v1.6h-1.6zM1012.7 361.8h1.6v1.6h-1.6zM1014.3 361.8h1.6v1.6h-1.6zM1017.5 361.8h1.6v1.6h-1.6zM1020.7 361.8h1.6v1.6h-1.6zM1022.3 361.8h1.6v1.6h-1.6zM1028.7 361.8h1.6v1.6h-1.6zM1030.3 361.8h1.6v1.6h-1.6zM1007.9 360.2h1.6v1.6h-1.6zM1012.7 360.2h1.6v1.6h-1.6zM1015.9 360.2h1.6v1.6h-1.6zM1019.1 360.2h1.6v1.6h-1.6zM1020.7 360.2h1.6v1.6h-1.6zM1022.3 360.2h1.6v1.6h-1.6zM1025.5 360.2h1.6v1.6h-1.6zM1006.3 358.6h1.6v1.6h-1.6zM1011.1 358.6h1.6v1.6h-1.6zM1014.3 358.6h1.6v1.6h-1.6zM1017.5 358.6h1.6v1.6h-1.6zM1020.7 358.6h1.6v1.6h-1.6zM1022.3 358.6h1.6v1.6h-1.6zM1023.9 358.6h1.6v1.6h-1.6zM1025.5 358.6h1.6v1.6h-1.6zM1027.1 358.6h1.6v1.6h-1.6zM1009.5 357.0h1.6v1.6h-1.6zM1011.1 357.0h1.6v1.6h-1.6zM1012.7 357.0h1.6v1.6h-1.6zM1014.3 357.0h1.6v1.6h-1.6zM1017.5 357.0h1.6v1.6h-1.6zM1019.1 357.0h1.6v1.6h-1.6zM1022.3 357.0h1.6v1.6h-1.6zM1035.1 357.0h1.6v1.6h-1.6zM1004.7 355.4h1.6v1.6h-1.6zM1009.5 355.4h1.6v1.6h-1.6zM1012.7 355.4h1.6v1.6h-1.6zM1014.3 355.4h1.6v1.6h-1.6zM1015.9 355.4h1.6v1.6h-1.6zM1017.5 355.4h1.6v1.6h-1.6zM1019.1 355.4h1.6v1.6h-1.6zM1020.7 355.4h1.6v1.6h-1.6zM1012.7 353.8h1.6v1.6h-1.6zM1014.3 353.8h1.6v1.6h-1.6zM1015.9 353.8h1.6v1.6h-1.6zM1017.5 353.8h1.6v1.6h-1.6zM1007.9 352.2h1.6v1.6h-1.6zM1012.7 352.2h1.6v1.6h-1.6zM1014.3 352.2h1.6v1.6h-1.6zM1015.9 352.2h1.6v1.6h-1.6zM1025.5 352.2h1.6v1.6h-1.6zM1006.3 350.6h1.6v1.6h-1.6zM1015.9 350.6h1.6v1.6h-1.6zM1020.7 350.6h1.6v1.6h-1.6zM1023.9 350.6h1.6v1.6h-1.6zM1027.1 350.6h1.6v1.6h-1.6zM1006.3 349.0h1.6v1.6h-1.6zM1014.3 349.0h1.6v1.6h-1.6zM1017.5 349.0h1.6v1.6h-1.6zM1022.3 349.0h1.6v1.6h-1.6zM1020.7 347.4h1.6v1.6h-1.6zM1025.5 347.4h1.6v1.6h-1.6zM1027.1 347.4h1.6v1.6h-1.6zM1014.3 345.8h1.6v1.6h-1.6zM1020.7 345.8h1.6v1.6h-1.6zM999.9 344.2h1.6v1.6h-1.6zM1011.1 344.2h1.6v1.6h-1.6zM1014.3 344.2h1.6v1.6h-1.6zM1022.3 344.2h1.6v1.6h-1.6zM1020.7 342.6h1.6v1.6h-1.6zM1012.7 341.0h1.6v1.6h-1.6zM1004.7 339.4h1.6v1.6h-1.6zM1012.7 339.4h1.6v1.6h-1.6zM1014.3 339.4h1.6v1.6h-1.6zM1017.5 339.4h1.6v1.6h-1.6zM1017.5 337.8h1.6v1.6h-1.6zM1022.3 337.8h1.6v1.6h-1.6zM999.9 336.2h1.6v1.6h-1.6zM1011.1 336.2h1.6v1.6h-1.6zM1014.3 336.2h1.6v1.6h-1.6zM1017.5 336.2h1.6v1.6h-1.6zM1009.5 334.6h1.6v1.6h-1.6zM1014.3 334.6h1.6v1.6h-1.6zM1015.9 334.6h1.6v1.6h-1.6zM1017.5 334.6h1.6v1.6h-1.6zM1004.7 333.0h1.6v1.6h-1.6zM1025.5 333.0h1.6v1.6h-1.6zM1012.7 331.4h1.6v1.6h-1.6zM1017.5 331.4h1.6v1.6h-1.6zM1017.5 329.8h1.6v1.6h-1.6zM1020.7 329.8h1.6v1.6h-1.6zM1015.9 328.2h1.6v1.6h-1.6zM1020.7 328.2h1.6v1.6h-1.6zM1017.5 326.6h1.6v1.6h-1.6zM1028.7 325.0h1.6v1.6h-1.6zM1011.1 323.4h1.6v1.6h-1.6zM1028.7 323.4h1.6v1.6h-1.6zM1014.3 320.2h1.6v1.6h-1.6zM1019.1 320.2h1.6v1.6h-1.6zM1012.7 318.6h1.6v1.6h-1.6zM1004.7 317.0h1.6v1.6h-1.6zM1009.5 317.0h1.6v1.6h-1.6zM1022.3 317.0h1.6v1.6h-1.6zM1015.9 315.4h1.6v1.6h-1.6zM1020.7 315.4h1.6v1.6h-1.6zM1014.3 312.2h1.6v1.6h-1.6zM1015.9 312.2h1.6v1.6h-1.6zM1014.3 310.6h1.6v1.6h-1.6zM1015.9 302.6h1.6v1.6h-1.6zM1019.1 302.6h1.6v1.6h-1.6zM1020.7 289.8h1.6v1.6h-1.6zM996.7 281.8h1.6v1.6h-1.6zM1022.3 281.8h1.6v1.6h-1.6zM1014.3 275.4h1.6v1.6h-1.6zM1019.1 275.4h1.6v1.6h-1.6zM1019.1 272.2h1.6v1.6h-1.6zM1014.3 270.6h1.6v1.6h-1.6zM1012.7 262.6h1.6v1.6h-1.6zM1012.7 221.0h1.6v1.6h-1.6zM1011.1 206.6h1.6v1.6h-1.6zM1032.7 234.5h1.6v1.6h-1.6zM1016.9 269.5h1.6v1.6h-1.6zM1024.5 189.2h1.6v1.6h-1.6zM1015.0 199.4h1.6v1.6h-1.6zM1019.5 285.0h1.6v1.6h-1.6zM1027.5 206.7h1.6v1.6h-1.6zM1015.4 269.7h1.6v1.6h-1.6zM1018.5 196.9h1.6v1.6h-1.6zM1010.4 212.2h1.6v1.6h-1.6zM1023.0 227.0h1.6v1.6h-1.6zM1014.8 253.1h1.6v1.6h-1.6zM1015.5 204.3h1.6v1.6h-1.6zM1019.5 180.2h1.6v1.6h-1.6zM1022.1 217.2h1.6v1.6h-1.6zM1016.6 207.8h1.6v1.6h-1.6zM1009.5 200.9h1.6v1.6h-1.6zM1017.2 242.2h1.6v1.6h-1.6zM1007.5 219.3h1.6v1.6h-1.6zM1019.3 186.6h1.6v1.6h-1.6zM1023.1 243.6h1.6v1.6h-1.6zM1016.5 277.1h1.6v1.6h-1.6zM1011.1 264.2h1.6v1.6h-1.6zM1017.7 267.8h1.6v1.6h-1.6zM1004.9 245.6h1.6v1.6h-1.6zM1010.6 228.3h1.6v1.6h-1.6zM1022.1 280.1h1.6v1.6h-1.6zM1021.6 250.2h1.6v1.6h-1.6zM1014.1 206.1h1.6v1.6h-1.6zM1006.2 214.5h1.6v1.6h-1.6zM1017.8 206.6h1.6v1.6h-1.6zM1017.0 219.1h1.6v1.6h-1.6zM1009.9 256.7h1.6v1.6h-1.6zM1017.6 231.3h1.6v1.6h-1.6zM1007.7 285.0h1.6v1.6h-1.6zM1019.0 230.9h1.6v1.6h-1.6zM1013.1 219.4h1.6v1.6h-1.6zM1004.2 250.5h1.6v1.6h-1.6zM1012.6 245.6h1.6v1.6h-1.6zM996.7 263.4h1.6v1.6h-1.6zM1022.1 281.8h1.6v1.6h-1.6zM1017.3 248.4h1.6v1.6h-1.6zM1023.5 197.4h1.6v1.6h-1.6zM1011.5 220.6h1.6v1.6h-1.6zM1013.1 223.6h1.6v1.6h-1.6zM1015.0 201.2h1.6v1.6h-1.6zM1016.9 179.0h1.6v1.6h-1.6zM1025.1 226.5h1.6v1.6h-1.6zM1013.6 244.2h1.6v1.6h-1.6zM1026.5 262.8h1.6v1.6h-1.6zM1010.9 219.1h1.6v1.6h-1.6zM1013.4 283.0h1.6v1.6h-1.6zM1022.7 273.1h1.6v1.6h-1.6zM1011.1 230.0h1.6v1.6h-1.6zM1016.6 224.4h1.6v1.6h-1.6zM1024.8 180.8h1.6v1.6h-1.6zM1006.4 248.4h1.6v1.6h-1.6zM999.6 256.4h1.6v1.6h-1.6zM1017.9 258.8h1.6v1.6h-1.6zM1016.3 275.4h1.6v1.6h-1.6zM1014.8 225.9h1.6v1.6h-1.6zM1014.9 177.6h1.6v1.6h-1.6zM1015.3 248.4h1.6v1.6h-1.6zM1014.4 201.1h1.6v1.6h-1.6zM1013.0 231.1h1.6v1.6h-1.6zM1017.6 229.1h1.6v1.6h-1.6zM1018.9 247.5h1.6v1.6h-1.6zM1021.7 237.8h1.6v1.6h-1.6zM1013.9 186.7h1.6v1.6h-1.6zM1011.8 282.7h1.6v1.6h-1.6zM1016.5 277.3h1.6v1.6h-1.6zM1012.5 249.8h1.6v1.6h-1.6zM1006.7 250.1h1.6v1.6h-1.6zM1011.7 203.4h1.6v1.6h-1.6zM1002.3 207.2h1.6v1.6h-1.6zM1019.2 273.4h1.6v1.6h-1.6zM998.6 188.2h1.6v1.6h-1.6zM1025.6 210.6h1.6v1.6h-1.6zM1025.7 227.7h1.6v1.6h-1.6zM1020.0 203.3h1.6v1.6h-1.6zM1013.5 282.2h1.6v1.6h-1.6zM1018.0 182.3h1.6v1.6h-1.6zM1013.8 231.6h1.6v1.6h-1.6zM1009.3 190.2h1.6v1.6h-1.6zM1010.1 176.3h1.6v1.6h-1.6zM1012.9 281.4h1.6v1.6h-1.6zM1018.6 179.8h1.6v1.6h-1.6zM1014.7 218.2h1.6v1.6h-1.6zM1029.8 184.5h1.6v1.6h-1.6zM1020.3 229.0h1.6v1.6h-1.6zM1014.2 207.1h1.6v1.6h-1.6zM1017.0 176.7h1.6v1.6h-1.6zM1026.5 193.1h1.6v1.6h-1.6zM1015.0 189.5h1.6v1.6h-1.6zM1022.6 270.5h1.6v1.6h-1.6zM1019.5 226.4h1.6v1.6h-1.6zM1011.2 187.9h1.6v1.6h-1.6zM1005.6 252.7h1.6v1.6h-1.6zM1017.7 194.8h1.6v1.6h-1.6zM1011.4 181.8h1.6v1.6h-1.6zM1021.2 200.1h1.6v1.6h-1.6zM1017.1 196.4h1.6v1.6h-1.6zM1010.3 189.6h1.6v1.6h-1.6zM1010.4 199.7h1.6v1.6h-1.6zM1012.2 203.7h1.6v1.6h-1.6zM1015.2 276.1h1.6v1.6h-1.6zM1008.4 199.9h1.6v1.6h-1.6zM1011.9 217.8h1.6v1.6h-1.6zM1020.5 226.8h1.6v1.6h-1.6zM1015.1 267.8h1.6v1.6h-1.6zM1025.7 260.7h1.6v1.6h-1.6zM1009.6 184.1h1.6v1.6h-1.6zM1014.6 262.9h1.6v1.6h-1.6zM1012.7 251.4h1.6v1.6h-1.6zM1018.0 247.8h1.6v1.6h-1.6zM1030.0 179.6h1.6v1.6h-1.6zM1009.8 181.1h1.6v1.6h-1.6zM1025.5 206.0h1.6v1.6h-1.6zM1013.6 236.7h1.6v1.6h-1.6zM1005.3 263.8h1.6v1.6h-1.6zM1000.9 182.1h1.6v1.6h-1.6zM1005.8 178.6h1.6v1.6h-1.6zM1019.5 176.0h1.6v1.6h-1.6zM1024.4 203.9h1.6v1.6h-1.6zM1004.6 221.2h1.6v1.6h-1.6zM1007.8 188.6h1.6v1.6h-1.6zM1026.1 234.1h1.6v1.6h-1.6zM1021.5 258.4h1.6v1.6h-1.6zM1004.7 212.8h1.6v1.6h-1.6zM1014.7 230.2h1.6v1.6h-1.6zM1029.1 209.8h1.6v1.6h-1.6zM1016.4 209.3h1.6v1.6h-1.6zM1014.2 196.5h1.6v1.6h-1.6zM1017.1 190.6h1.6v1.6h-1.6zM1017.4 189.5h1.6v1.6h-1.6zM999.9 253.1h1.6v1.6h-1.6zM1012.2 260.9h1.6v1.6h-1.6zM1028.9 227.6h1.6v1.6h-1.6zM1020.9 189.9h1.6v1.6h-1.6zM1016.8 233.8h1.6v1.6h-1.6zM1011.8 195.3h1.6v1.6h-1.6zM1015.5 195.2h1.6v1.6h-1.6zM1013.9 249.0h1.6v1.6h-1.6zM1019.8 210.1h1.6v1.6h-1.6zM1008.6 207.5h1.6v1.6h-1.6zM1010.7 231.8h1.6v1.6h-1.6zM1012.9 260.0h1.6v1.6h-1.6zM1009.9 188.9h1.6v1.6h-1.6zM1013.7 249.3h1.6v1.6h-1.6zM1011.6 244.7h1.6v1.6h-1.6zM1015.2 232.3h1.6v1.6h-1.6zM1010.6 243.2h1.6v1.6h-1.6zM1020.1 279.3h1.6v1.6h-1.6zM1011.9 187.5h1.6v1.6h-1.6zM1026.7 181.5h1.6v1.6h-1.6zM1009.6 239.9h1.6v1.6h-1.6zM1024.3 181.7h1.6v1.6h-1.6zM1013.7 223.5h1.6v1.6h-1.6zM1013.0 247.4h1.6v1.6h-1.6zM1011.8 231.9h1.6v1.6h-1.6zM1010.1 202.3h1.6v1.6h-1.6zM1015.8 192.2h1.6v1.6h-1.6zM1024.3 272.0h1.6v1.6h-1.6zM1004.1 246.5h1.6v1.6h-1.6zM1009.5 261.0h1.6v1.6h-1.6zM1008.8 196.0h1.6v1.6h-1.6zM1004.7 276.5h1.6v1.6h-1.6zM1023.1 225.3h1.6v1.6h-1.6zM1025.2 208.5h1.6v1.6h-1.6zM1030.6 256.6h1.6v1.6h-1.6zM1014.8 238.8h1.6v1.6h-1.6zM1016.7 258.2h1.6v1.6h-1.6zM1009.4 189.8h1.6v1.6h-1.6zM1019.7 251.3h1.6v1.6h-1.6zM1010.5 217.7h1.6v1.6h-1.6zM1013.9 247.1h1.6v1.6h-1.6zM1014.0 241.8h1.6v1.6h-1.6zM1005.1 242.9h1.6v1.6h-1.6zM1008.9 227.7h1.6v1.6h-1.6zM1022.1 180.8h1.6v1.6h-1.6zM1025.1 238.1h1.6v1.6h-1.6zM1012.3 258.7h1.6v1.6h-1.6zM1021.5 228.4h1.6v1.6h-1.6zM1018.9 228.1h1.6v1.6h-1.6zM1003.7 237.8h1.6v1.6h-1.6zM1014.2 199.2h1.6v1.6h-1.6zM1014.6 193.2h1.6v1.6h-1.6zM1010.4 187.5h1.6v1.6h-1.6zM1009.3 185.1h1.6v1.6h-1.6zM1013.7 178.0h1.6v1.6h-1.6zM1014.5 225.3h1.6v1.6h-1.6zM1006.4 259.8h1.6v1.6h-1.6zM1017.7 257.8h1.6v1.6h-1.6zM1005.1 276.6h1.6v1.6h-1.6zM1016.0 224.4h1.6v1.6h-1.6zM1034.5 194.4h1.6v1.6h-1.6zM1015.5 244.8h1.6v1.6h-1.6zM1011.4 232.5h1.6v1.6h-1.6zM1013.4 182.0h1.6v1.6h-1.6zM1022.4 199.3h1.6v1.6h-1.6zM1014.2 226.8h1.6v1.6h-1.6zM1020.0 224.8h1.6v1.6h-1.6zM1018.9 210.7h1.6v1.6h-1.6zM1021.5 183.3h1.6v1.6h-1.6zM1018.1 226.0h1.6v1.6h-1.6zM1015.3 236.7h1.6v1.6h-1.6zM1020.0 247.6h1.6v1.6h-1.6zM1015.2 277.6h1.6v1.6h-1.6zM1018.2 188.0h1.6v1.6h-1.6zM1009.5 211.8h1.6v1.6h-1.6zM1015.8 208.4h1.6v1.6h-1.6zM1022.8 244.1h1.6v1.6h-1.6zM1004.2 256.2h1.6v1.6h-1.6zM1002.6 225.2h1.6v1.6h-1.6zM1030.9 256.1h1.6v1.6h-1.6zM1018.5 280.1h1.6v1.6h-1.6zM1032.2 214.5h1.6v1.6h-1.6zM1004.8 202.8h1.6v1.6h-1.6zM1016.4 234.7h1.6v1.6h-1.6zM1008.4 224.4h1.6v1.6h-1.6zM1005.6 181.8h1.6v1.6h-1.6zM1017.6 212.5h1.6v1.6h-1.6zM1012.0 259.7h1.6v1.6h-1.6zM1022.8 184.7h1.6v1.6h-1.6zM1018.8 255.2h1.6v1.6h-1.6zM1010.7 222.3h1.6v1.6h-1.6zM1030.1 271.8h1.6v1.6h-1.6zM1022.6 193.4h1.6v1.6h-1.6zM1013.7 195.4h1.6v1.6h-1.6zM1017.0 214.8h1.6v1.6h-1.6zM1024.1 268.9h1.6v1.6h-1.6zM1019.6 247.8h1.6v1.6h-1.6zM1017.7 187.4h1.6v1.6h-1.6zM1020.8 226.1h1.6v1.6h-1.6zM1009.9 247.9h1.6v1.6h-1.6zM1003.5 228.2h1.6v1.6h-1.6zM1030.2 280.5h1.6v1.6h-1.6zM1017.3 260.4h1.6v1.6h-1.6zM1023.9 239.0h1.6v1.6h-1.6zM1004.6 269.6h1.6v1.6h-1.6zM1006.5 222.2h1.6v1.6h-1.6zM1010.4 244.5h1.6v1.6h-1.6zM1015.7 279.5h1.6v1.6h-1.6zM1006.7 248.3h1.6v1.6h-1.6zM1023.8 236.8h1.6v1.6h-1.6zM1020.2 188.6h1.6v1.6h-1.6zM1019.8 262.9h1.6v1.6h-1.6zM1020.2 197.2h1.6v1.6h-1.6zM1023.5 226.5h1.6v1.6h-1.6zM1010.0 202.7h1.6v1.6h-1.6zM1014.8 181.1h1.6v1.6h-1.6zM1020.2 228.8h1.6v1.6h-1.6zM1023.2 225.6h1.6v1.6h-1.6zM1023.6 272.7h1.6v1.6h-1.6zM1017.8 204.5h1.6v1.6h-1.6zM1012.3 242.1h1.6v1.6h-1.6zM1011.4 203.5h1.6v1.6h-1.6zM1000.3 196.5h1.6v1.6h-1.6zM1012.4 236.9h1.6v1.6h-1.6zM1022.5 240.2h1.6v1.6h-1.6zM1016.1 199.6h1.6v1.6h-1.6zM1008.8 198.9h1.6v1.6h-1.6zM1018.9 215.8h1.6v1.6h-1.6zM1002.3 278.0h1.6v1.6h-1.6zM1013.9 268.9h1.6v1.6h-1.6zM1006.1 274.9h1.6v1.6h-1.6zM1015.9 240.2h1.6v1.6h-1.6zM1036.0 236.0h1.6v1.6h-1.6zM1006.9 177.9h1.6v1.6h-1.6zM1013.4 263.4h1.6v1.6h-1.6zM1020.7 185.2h1.6v1.6h-1.6zM1012.9 214.8h1.6v1.6h-1.6zM1014.7 196.5h1.6v1.6h-1.6zM1016.5 178.4h1.6v1.6h-1.6zM1021.5 284.0h1.6v1.6h-1.6zM1016.1 191.7h1.6v1.6h-1.6zM1019.9 188.9h1.6v1.6h-1.6zM1010.8 208.8h1.6v1.6h-1.6zM1017.5 180.4h1.6v1.6h-1.6zM1014.9 244.0h1.6v1.6h-1.6zM1005.7 239.1h1.6v1.6h-1.6zM1011.0 178.6h1.6v1.6h-1.6zM1018.4 257.1h1.6v1.6h-1.6zM1000.3 280.6h1.6v1.6h-1.6zM1020.6 203.2h1.6v1.6h-1.6zM1011.6 243.6h1.6v1.6h-1.6zM1027.6 193.8h1.6v1.6h-1.6zM1015.7 247.4h1.6v1.6h-1.6zM1021.2 194.8h1.6v1.6h-1.6zM1010.9 229.4h1.6v1.6h-1.6zM1006.3 196.1h1.6v1.6h-1.6zM1025.9 222.7h1.6v1.6h-1.6zM1017.3 255.4h1.6v1.6h-1.6zM1006.5 190.5h1.6v1.6h-1.6zM1010.3 207.6h1.6v1.6h-1.6zM1022.1 190.8h1.6v1.6h-1.6zM1001.4 193.5h1.6v1.6h-1.6zM1015.5 254.0h1.6v1.6h-1.6zM1009.2 200.8h1.6v1.6h-1.6zM1012.9 221.0h1.6v1.6h-1.6zM1014.3 262.2h1.6v1.6h-1.6zM1027.2 268.7h1.6v1.6h-1.6zM1023.9 185.0h1.6v1.6h-1.6zM1006.9 243.2h1.6v1.6h-1.6zM1018.2 206.7h1.6v1.6h-1.6zM1017.4 274.0h1.6v1.6h-1.6zM1015.4 270.4h1.6v1.6h-1.6zM1010.9 203.9h1.6v1.6h-1.6zM1024.5 220.8h1.6v1.6h-1.6zM1002.9 229.1h1.6v1.6h-1.6zM1014.3 237.2h1.6v1.6h-1.6zM1003.4 199.5h1.6v1.6h-1.6zM1008.0 271.4h1.6v1.6h-1.6zM1017.4 249.2h1.6v1.6h-1.6zM1016.0 222.5h1.6v1.6h-1.6zM1017.4 231.7h1.6v1.6h-1.6zM1019.4 260.1h1.6v1.6h-1.6zM1009.0 186.9h1.6v1.6h-1.6zM1013.0 219.8h1.6v1.6h-1.6zM1013.0 234.2h1.6v1.6h-1.6zM1015.8 177.6h1.6v1.6h-1.6zM1013.3 218.1h1.6v1.6h-1.6zM1000.9 272.1h1.6v1.6h-1.6zM1016.4 277.2h1.6v1.6h-1.6zM1019.9 260.7h1.6v1.6h-1.6zM1020.2 238.5h1.6v1.6h-1.6zM1007.5 204.0h1.6v1.6h-1.6zM1028.5 227.2h1.6v1.6h-1.6zM1009.2 268.5h1.6v1.6h-1.6zM1028.0 208.9h1.6v1.6h-1.6zM1011.8 221.6h1.6v1.6h-1.6zM1020.4 238.2h1.6v1.6h-1.6zM1018.7 273.3h1.6v1.6h-1.6zM1017.1 276.0h1.6v1.6h-1.6zM1007.5 241.4h1.6v1.6h-1.6zM1009.2 205.1h1.6v1.6h-1.6zM1029.8 256.6h1.6v1.6h-1.6zM1018.9 260.3h1.6v1.6h-1.6zM1032.8 187.5h1.6v1.6h-1.6zM1017.4 260.0h1.6v1.6h-1.6zM1014.9 206.4h1.6v1.6h-1.6zM1017.1 231.4h1.6v1.6h-1.6zM1025.0 257.4h1.6v1.6h-1.6zM1015.5 224.3h1.6v1.6h-1.6zM1008.4 185.8h1.6v1.6h-1.6zM1017.7 186.5h1.6v1.6h-1.6zM1020.1 284.1h1.6v1.6h-1.6zM1021.0 243.0h1.6v1.6h-1.6zM1018.4 269.6h1.6v1.6h-1.6zM1014.9 229.1h1.6v1.6h-1.6zM1031.7 196.3h1.6v1.6h-1.6zM1012.8 242.7h1.6v1.6h-1.6zM1015.0 277.1h1.6v1.6h-1.6zM1021.4 194.1h1.6v1.6h-1.6zM1019.2 255.9h1.6v1.6h-1.6zM1016.7 259.0h1.6v1.6h-1.6zM1020.5 182.6h1.6v1.6h-1.6zM1012.7 255.5h1.6v1.6h-1.6zM1011.5 182.9h1.6v1.6h-1.6zM998.9 186.5h1.6v1.6h-1.6zM1014.6 203.6h1.6v1.6h-1.6zM1032.6 439.6h1.6v1.6h-1.6zM997.9 438.2h1.6v1.6h-1.6zM1030.2 445.1h1.6v1.6h-1.6zM1012.3 442.8h1.6v1.6h-1.6zM1033.0 438.8h1.6v1.6h-1.6zM1026.8 441.3h1.6v1.6h-1.6zM1022.9 438.6h1.6v1.6h-1.6zM996.7 438.9h1.6v1.6h-1.6zM1005.9 439.6h1.6v1.6h-1.6zM1009.5 439.1h1.6v1.6h-1.6zM1007.9 438.3h1.6v1.6h-1.6zM1006.4 440.4h1.6v1.6h-1.6zM1006.4 442.9h1.6v1.6h-1.6zM1031.5 439.4h1.6v1.6h-1.6zM1007.1 440.3h1.6v1.6h-1.6zM1032.3 441.7h1.6v1.6h-1.6zM1003.5 438.5h1.6v1.6h-1.6zM996.6 444.3h1.6v1.6h-1.6zM1006.4 439.1h1.6v1.6h-1.6zM1027.1 438.8h1.6v1.6h-1.6zM1025.2 438.0h1.6v1.6h-1.6zM1011.8 438.1h1.6v1.6h-1.6zM1029.4 438.7h1.6v1.6h-1.6zM1029.1 441.1h1.6v1.6h-1.6zM999.2 438.8h1.6v1.6h-1.6zM1028.2 440.5h1.6v1.6h-1.6zM1012.4 438.3h1.6v1.6h-1.6zM1001.7 438.9h1.6v1.6h-1.6zM1015.4 440.3h1.6v1.6h-1.6zM1031.4 440.6h1.6v1.6h-1.6zM1018.1 439.7h1.6v1.6h-1.6zM1020.5 438.1h1.6v1.6h-1.6zM996.4 439.7h1.6v1.6h-1.6zM1012.8 442.4h1.6v1.6h-1.6zM1004.4 438.9h1.6v1.6h-1.6zM1005.2 440.3h1.6v1.6h-1.6zM1028.6 438.2h1.6v1.6h-1.6zM1010.9 440.5h1.6v1.6h-1.6zM1025.9 441.2h1.6v1.6h-1.6zM1001.5 440.8h1.6v1.6h-1.6zM1013.7 442.8h1.6v1.6h-1.6zM1002.8 442.0h1.6v1.6h-1.6zM1033.4 440.1h1.6v1.6h-1.6zM1001.7 438.9h1.6v1.6h-1.6zM1010.2 442.7h1.6v1.6h-1.6zM1001.8 439.2h1.6v1.6h-1.6zM1010.2 439.7h1.6v1.6h-1.6zM1025.5 438.1h1.6v1.6h-1.6zM1004.4 438.2h1.6v1.6h-1.6zM1015.4 440.3h1.6v1.6h-1.6zM1027.9 440.8h1.6v1.6h-1.6zM1001.4 448.7h1.6v1.6h-1.6zM995.2 438.5h1.6v1.6h-1.6zM1021.3 440.3h1.6v1.6h-1.6zM1011.1 440.5h1.6v1.6h-1.6zM1013.7 438.8h1.6v1.6h-1.6zM1007.8 439.2h1.6v1.6h-1.6zM999.1 440.8h1.6v1.6h-1.6zM1001.7 439.9h1.6v1.6h-1.6zM1033.9 441.7h1.6v1.6h-1.6z" fill="#0000ff"/>
<ellipse cx="759.0" cy="419.3" rx="16.5" ry="12.3" fill="url(#jet)"/>
<ellipse cx="844.8" cy="419.3" rx="16.5" ry="12.3" fill="url(#jet)"/>
<ellipse cx="930.5" cy="419.3" rx="16.5" ry="12.3" fill="url(#jet)"/>
<ellipse cx="1016.5" cy="419.3" rx="16.5" ry="12.3" fill="url(#jet)"/>
<rect x="721.2" y="107.2" width="72.7" height="178.4" fill="none" stroke="#000" stroke-width="2.8"/>
<rect x="804" y="107.2" width="73.0" height="178.4" fill="none" stroke="#000" stroke-width="2.8"/>
<rect x="889.9" y="107.2" width="72.6" height="178.4" fill="none" stroke="#000" stroke-width="2.8"/>
<rect x="978.9" y="107.2" width="72.7" height="178.4" fill="none" stroke="#000" stroke-width="2.8"/>
<line x1="1316.3" y1="84.1" x2="1316.3" y2="477.2" stroke="#2a2a2a" stroke-width="1.3"/>
<line x1="1303.4" y1="84.1" x2="1316.3" y2="84.1" stroke="#2a2a2a" stroke-width="1.3"/>
<text x="1289.4" y="93" font-size="28" text-anchor="end" textLength="32" lengthAdjust="spacingAndGlyphs">0.1</text>
<line x1="1303.4" y1="213.2" x2="1316.3" y2="213.2" stroke="#2a2a2a" stroke-width="1.3"/>
<text x="1289.4" y="222.1" font-size="28" text-anchor="end" textLength="48.9" lengthAdjust="spacingAndGlyphs">0.01</text>
<line x1="1303.4" y1="342.2" x2="1316.3" y2="342.2" stroke="#2a2a2a" stroke-width="1.3"/>
<text x="1289.4" y="351.1" font-size="28" text-anchor="end" textLength="63.4" lengthAdjust="spacingAndGlyphs">0.001</text>
<line x1="1303.4" y1="470.5" x2="1316.3" y2="470.5" stroke="#2a2a2a" stroke-width="1.3"/>
<text x="1289.4" y="479.4" font-size="28" text-anchor="end" textLength="78.6" lengthAdjust="spacingAndGlyphs">0.0001</text>
<line x1="1315.7" y1="476.6" x2="1614" y2="476.6" stroke="#555" stroke-width="1.3"/>
<line x1="1647.7" y1="476.6" x2="1808.8" y2="476.6" stroke="#555" stroke-width="1.3"/>
<line x1="1614" y1="467" x2="1614" y2="486.3" stroke="#666" stroke-width="1.3"/>
<line x1="1647.7" y1="467" x2="1647.7" y2="486.3" stroke="#666" stroke-width="1.3"/>
<line x1="1316.5" y1="476.6" x2="1316.5" y2="490.6" stroke="#555" stroke-width="1.3"/>
<line x1="1382.3" y1="476.6" x2="1382.3" y2="490.6" stroke="#555" stroke-width="1.3"/>
<line x1="1448.5" y1="476.6" x2="1448.5" y2="490.6" stroke="#555" stroke-width="1.3"/>
<line x1="1514.7" y1="476.6" x2="1514.7" y2="490.6" stroke="#555" stroke-width="1.3"/>
<line x1="1580.9" y1="476.6" x2="1580.9" y2="490.6" stroke="#555" stroke-width="1.3"/>
<line x1="1698.5" y1="476.6" x2="1698.5" y2="490.6" stroke="#555" stroke-width="1.3"/>
<line x1="1799.6" y1="476.6" x2="1799.6" y2="490.6" stroke="#555" stroke-width="1.3"/>
<line x1="1749.1" y1="476.6" x2="1749.1" y2="484.8" stroke="#777" stroke-width="1.3"/>
<text x="1316.5" y="522.8" font-size="28" text-anchor="middle">0</text>
<text x="1382.3" y="522.8" font-size="28" text-anchor="middle" textLength="30" lengthAdjust="spacingAndGlyphs">10</text>
<text x="1448.5" y="522.8" font-size="28" text-anchor="middle" textLength="30" lengthAdjust="spacingAndGlyphs">20</text>
<text x="1514.7" y="522.8" font-size="28" text-anchor="middle" textLength="30" lengthAdjust="spacingAndGlyphs">30</text>
<text x="1580.9" y="522.8" font-size="28" text-anchor="middle" textLength="30" lengthAdjust="spacingAndGlyphs">40</text>
<text x="1698.5" y="522.8" font-size="28" text-anchor="middle" textLength="45" lengthAdjust="spacingAndGlyphs">120</text>
<text x="1799.6" y="522.8" font-size="28" text-anchor="middle" textLength="45" lengthAdjust="spacingAndGlyphs">240</text>
<text x="1429.8" y="564.7" font-size="28" textLength="248.7" lengthAdjust="spacingAndGlyphs">Time after dose 1 (d)</text>
<line x1="1336.5" y1="471.2" x2="1800" y2="471.2" stroke="#000" stroke-width="3.9" stroke-dasharray="7.3 12.35"/>
<circle cx="1673.1" cy="360.5" r="10.9" fill="#005496"/>
<text x="1697.2" y="370.2" font-size="28" textLength="82" lengthAdjust="spacingAndGlyphs">Dose 1</text>
<circle cx="1672.7" cy="401.6" r="9.2" fill="none" stroke="#005496" stroke-width="3.2"/>
<text x="1697.2" y="410.6" font-size="28" textLength="82" lengthAdjust="spacingAndGlyphs">Dose 2</text>
<text transform="translate(1181.6,434.2) rotate(-90)" font-size="28" textLength="302" lengthAdjust="spacingAndGlyphs">TET<tspan font-size="18.5" dy="8">751</tspan><tspan font-size="18.5" dy="-17">+</tspan><tspan dy="9"> (%) of total CD4</tspan><tspan font-size="18.5" dy="-10">+</tspan></text>
<polyline points="1316.6,322.9 1355.9,380.8 1388.9,122.8 1448.2,132.7 1508.4,100.2 1547.6,112.2 1566.3,125.3" fill="none" stroke="#0a3b80" stroke-width="2.3"/>
<polyline points="1316.6,354.3 1355.9,347.7 1441.5,219.9 1500.9,201.9 1540.9,197.5 1547.6,190.7 1567.4,202.7" fill="none" stroke="#0a3b80" stroke-width="2.3"/>
<polyline points="1316.6,380.4 1355.9,380.8" fill="none" stroke="#0a3b80" stroke-width="2.3"/>
<polyline points="1316.6,380.4 1362.6,258.8 1408.8,201.7 1454.8,165.9 1521.5,101.7 1548.4,95.7 1593.6,153.3" fill="none" stroke="#0a3b80" stroke-width="2.3"/>
<polyline points="1316.6,393 1362.6,280.2 1408.8,303 1461.4,237.1 1500.9,201.9" fill="none" stroke="#0a3b80" stroke-width="2.3"/>
<polyline points="1316.6,470.4 1388.9,268.5 1408.8,215.4 1462.5,158.6 1548.4,95.7" fill="none" stroke="#0a3b80" stroke-width="2.3"/>
<polyline points="1316.6,409.2 1355.9,347.7" fill="none" stroke="#0a3b80" stroke-width="2.3"/>
<polyline points="1316.6,380.4 1388.9,268.5 1447.7,199.5 1521.5,172 1580.5,172.8" fill="none" stroke="#0a3b80" stroke-width="2.3"/>
<polyline points="1316.6,393 1362.6,280.2" fill="none" stroke="#0a3b80" stroke-width="2.3"/>
<polyline points="1455.9,202.2 1521.5,172 1547.6,190.7" fill="none" stroke="#0a3b80" stroke-width="2.3"/>
<polyline points="1316.6,354.3 1362.6,258.8" fill="none" stroke="#0a3b80" stroke-width="2.3"/>
<polyline points="1547.6,112.2 1615.7,126.4" fill="none" stroke="#0a3b80" stroke-width="2.3"/>
<polyline points="1593.6,153.3 1615.7,174.6" fill="none" stroke="#0a3b80" stroke-width="2.3"/>
<polyline points="1566.3,125.3 1615.7,150.3" fill="none" stroke="#0a3b80" stroke-width="2.3"/>
<polyline points="1580.5,172.8 1615.7,170.2" fill="none" stroke="#0a3b80" stroke-width="2.3"/>
<polyline points="1540.9,197.5 1615.7,218.8" fill="none" stroke="#0a3b80" stroke-width="2.3"/>
<polyline points="1567.4,202.7 1615.7,223.3" fill="none" stroke="#0a3b80" stroke-width="2.3"/>
<polyline points="1647.9,131.6 1663.6,136.9 1796.3,207.2" fill="none" stroke="#0a3b80" stroke-width="2.3"/>
<polyline points="1647.9,166.8 1677.8,163.8 1800.1,176.5" fill="none" stroke="#0a3b80" stroke-width="2.3"/>
<polyline points="1647.9,166.8 1706.6,196.3 1794.5,242.3" fill="none" stroke="#0a3b80" stroke-width="2.3"/>
<polyline points="1647.9,203.8 1662.8,218 1803.8,278.6" fill="none" stroke="#0a3b80" stroke-width="2.3"/>
<polyline points="1647.9,233.7 1675.5,244.6 1765.3,283.5" fill="none" stroke="#0a3b80" stroke-width="2.3"/>
<polyline points="1675.5,244.6 1803.8,264.8" fill="none" stroke="#0a3b80" stroke-width="2.3"/>
<circle cx="1316.6" cy="322.9" r="8.1" fill="#0b4383"/>
<circle cx="1316.6" cy="354.3" r="8.1" fill="#0b4383"/>
<circle cx="1316.6" cy="380.4" r="8.1" fill="#0b4383"/>
<circle cx="1316.6" cy="393" r="8.1" fill="#0b4383"/>
<circle cx="1316.6" cy="409.2" r="8.1" fill="#0b4383"/>
<circle cx="1316.6" cy="470.4" r="8.1" fill="#0b4383"/>
<circle cx="1355.9" cy="347.7" r="8.1" fill="#0b4383"/>
<circle cx="1355.9" cy="380.8" r="8.1" fill="#0b4383"/>
<circle cx="1362.6" cy="258.8" r="8.1" fill="#0b4383"/>
<circle cx="1362.6" cy="280.2" r="8.1" fill="#0b4383"/>
<circle cx="1388.9" cy="122.8" r="8.1" fill="#0b4383"/>
<circle cx="1388.9" cy="268.5" r="8.1" fill="#0b4383"/>
<circle cx="1408.8" cy="201.7" r="8.1" fill="#0b4383"/>
<circle cx="1408.8" cy="215.4" r="8.1" fill="#0b4383"/>
<circle cx="1408.8" cy="303" r="8.1" fill="#0b4383"/>
<circle cx="1448.2" cy="132.7" r="8.1" fill="#0b4383"/>
<circle cx="1454.8" cy="165.9" r="8.1" fill="#0b4383"/>
<circle cx="1462.5" cy="158.6" r="8.1" fill="#0b4383"/>
<circle cx="1447.7" cy="199.5" r="8.1" fill="#0b4383"/>
<circle cx="1455.9" cy="202.2" r="8.1" fill="#0b4383"/>
<circle cx="1441.5" cy="219.9" r="8.1" fill="#0b4383"/>
<circle cx="1461.4" cy="237.1" r="8.1" fill="#0b4383"/>
<circle cx="1508.4" cy="100.2" r="7.9" fill="none" stroke="#0b4383" stroke-width="3.5"/>
<circle cx="1521.5" cy="101.7" r="7.9" fill="none" stroke="#0b4383" stroke-width="3.5"/>
<circle cx="1548.4" cy="95.7" r="7.9" fill="none" stroke="#0b4383" stroke-width="3.5"/>
<circle cx="1547.6" cy="112.2" r="7.9" fill="none" stroke="#0b4383" stroke-width="3.5"/>
<circle cx="1566.3" cy="125.3" r="7.9" fill="none" stroke="#0b4383" stroke-width="3.5"/>
<circle cx="1593.6" cy="153.3" r="7.9" fill="none" stroke="#0b4383" stroke-width="3.5"/>
<circle cx="1521.5" cy="172" r="7.9" fill="none" stroke="#0b4383" stroke-width="3.5"/>
<circle cx="1580.5" cy="172.8" r="7.9" fill="none" stroke="#0b4383" stroke-width="3.5"/>
<circle cx="1547.6" cy="190.7" r="7.9" fill="none" stroke="#0b4383" stroke-width="3.5"/>
<circle cx="1540.9" cy="197.5" r="7.9" fill="none" stroke="#0b4383" stroke-width="3.5"/>
<circle cx="1500.9" cy="201.9" r="7.9" fill="none" stroke="#0b4383" stroke-width="3.5"/>
<circle cx="1567.4" cy="202.7" r="7.9" fill="none" stroke="#0b4383" stroke-width="3.5"/>
<circle cx="1663.6" cy="136.9" r="7.9" fill="none" stroke="#0b4383" stroke-width="3.5"/>
<circle cx="1677.8" cy="163.8" r="7.9" fill="none" stroke="#0b4383" stroke-width="3.5"/>
<circle cx="1706.6" cy="196.3" r="7.9" fill="none" stroke="#0b4383" stroke-width="3.5"/>
<circle cx="1662.8" cy="218" r="7.9" fill="none" stroke="#0b4383" stroke-width="3.5"/>
<circle cx="1675.5" cy="244.6" r="7.9" fill="none" stroke="#0b4383" stroke-width="3.5"/>
<circle cx="1800.1" cy="176.5" r="7.9" fill="none" stroke="#0b4383" stroke-width="3.5"/>
<circle cx="1796.3" cy="207.2" r="7.9" fill="none" stroke="#0b4383" stroke-width="3.5"/>
<circle cx="1794.5" cy="242.3" r="7.9" fill="none" stroke="#0b4383" stroke-width="3.5"/>
<circle cx="1803.8" cy="264.8" r="7.9" fill="none" stroke="#0b4383" stroke-width="3.5"/>
<circle cx="1803.8" cy="278.6" r="7.9" fill="none" stroke="#0b4383" stroke-width="3.5"/>
<circle cx="1765.3" cy="283.5" r="7.9" fill="none" stroke="#0b4383" stroke-width="3.5"/>
<line x1="172" y1="680" x2="172" y2="1081" stroke="#2a2a2a" stroke-width="1.3"/>
<line x1="158.2" y1="1080.6" x2="172" y2="1080.6" stroke="#2a2a2a" stroke-width="1.3"/>
<text x="144.6" y="1089.7" font-size="28" text-anchor="end">0</text>
<line x1="158.2" y1="1000.5" x2="172" y2="1000.5" stroke="#2a2a2a" stroke-width="1.3"/>
<text x="144.6" y="1009.6" font-size="28" text-anchor="end" textLength="30" lengthAdjust="spacingAndGlyphs">20</text>
<line x1="158.2" y1="920.5" x2="172" y2="920.5" stroke="#2a2a2a" stroke-width="1.3"/>
<text x="144.6" y="929.6" font-size="28" text-anchor="end" textLength="30" lengthAdjust="spacingAndGlyphs">40</text>
<line x1="158.2" y1="840.4" x2="172" y2="840.4" stroke="#2a2a2a" stroke-width="1.3"/>
<text x="144.6" y="849.5" font-size="28" text-anchor="end" textLength="30" lengthAdjust="spacingAndGlyphs">60</text>
<line x1="158.2" y1="760.4" x2="172" y2="760.4" stroke="#2a2a2a" stroke-width="1.3"/>
<text x="144.6" y="769.5" font-size="28" text-anchor="end" textLength="30" lengthAdjust="spacingAndGlyphs">80</text>
<line x1="158.2" y1="680.3" x2="172" y2="680.3" stroke="#2a2a2a" stroke-width="1.3"/>
<text x="144.6" y="689.4" font-size="28" text-anchor="end" textLength="45" lengthAdjust="spacingAndGlyphs">100</text>
<line x1="158.2" y1="1081" x2="672.5" y2="1081" stroke="#666" stroke-width="1.3"/>
<line x1="229.3" y1="1081" x2="229.3" y2="1095.5" stroke="#666" stroke-width="1.3"/>
<line x1="357.9" y1="1081" x2="357.9" y2="1095.5" stroke="#666" stroke-width="1.3"/>
<line x1="486.8" y1="1081" x2="486.8" y2="1095.5" stroke="#666" stroke-width="1.3"/>
<line x1="615.8" y1="1081" x2="615.8" y2="1095.5" stroke="#666" stroke-width="1.3"/>
<line x1="289" y1="677.5" x2="289" y2="1076" stroke="#000" stroke-width="3.8" stroke-dasharray="6.7 6.8" stroke-linecap="round"/>
<line x1="428" y1="677.5" x2="428" y2="1076" stroke="#000" stroke-width="3.8" stroke-dasharray="6.7 6.8" stroke-linecap="round"/>
<line x1="552.2" y1="681.4" x2="552.2" y2="1082" stroke="#000" stroke-width="3.8" stroke-dasharray="6.7 6.8" stroke-linecap="round"/>
<text x="61.3" y="1136.6" font-size="28" textLength="72.4" lengthAdjust="spacingAndGlyphs">CCR6</text>
<text x="61.3" y="1178" font-size="28" textLength="91" lengthAdjust="spacingAndGlyphs">CXCR3</text>
<text x="229.3" y="1138.6" font-size="28" text-anchor="middle">+</text>
<text x="357.9" y="1138.6" font-size="28" text-anchor="middle">+</text>
<text x="486.8" y="1138.6" font-size="28" text-anchor="middle">–</text>
<text x="615.8" y="1138.6" font-size="28" text-anchor="middle">–</text>
<text x="229.3" y="1180.3" font-size="28" text-anchor="middle">–</text>
<text x="357.9" y="1180.3" font-size="28" text-anchor="middle">+</text>
<text x="491.2" y="1180.3" font-size="28" text-anchor="middle">+</text>
<text x="615.8" y="1180.3" font-size="28" text-anchor="middle">–</text>
<text transform="translate(72.6,951.6) rotate(-90)" font-size="28" textLength="144.6" lengthAdjust="spacingAndGlyphs">TET<tspan font-size="18.5" dy="8">751</tspan><tspan font-size="18.5" dy="-17">+</tspan><tspan dy="9"> (%)</tspan></text>
<circle cx="713.6" cy="719.2" r="10.5" fill="#000"/>
<text x="738" y="728.4" font-size="28" textLength="82" lengthAdjust="spacingAndGlyphs">Dose 1</text>
<circle cx="713.6" cy="760.7" r="9" fill="none" stroke="#000" stroke-width="3.6"/>
<text x="738" y="770" font-size="28" textLength="82" lengthAdjust="spacingAndGlyphs">Dose 2</text>
<circle cx="202.7" cy="1047.9" r="8" fill="#800000"/>
<circle cx="210.3" cy="1054.5" r="8" fill="#800000"/>
<circle cx="197.5" cy="1069.7" r="8" fill="#800000"/>
<circle cx="211.6" cy="1069" r="8" fill="#800000"/>
<circle cx="194.2" cy="1074.3" r="8" fill="#800000"/>
<circle cx="213" cy="1075.9" r="8" fill="#800000"/>
<circle cx="202.4" cy="1073" r="8" fill="#800000"/>
<line x1="205" y1="1056.5" x2="205" y2="1070.6" stroke="#000" stroke-width="1.8"/>
<line x1="196.2" y1="1056.5" x2="213.8" y2="1056.5" stroke="#000" stroke-width="1.8"/>
<line x1="196.2" y1="1070.6" x2="213.8" y2="1070.6" stroke="#000" stroke-width="1.8"/>
<line x1="188.9" y1="1068.3" x2="220.9" y2="1068.3" stroke="#000" stroke-width="4.2"/>
<circle cx="253" cy="1048.5" r="7.9" fill="none" stroke="#800000" stroke-width="3.5"/>
<circle cx="245" cy="1060" r="7.9" fill="none" stroke="#800000" stroke-width="3.5"/>
<circle cx="265" cy="1066" r="7.9" fill="none" stroke="#800000" stroke-width="3.5"/>
<circle cx="240" cy="1077" r="7.9" fill="none" stroke="#800000" stroke-width="3.5"/>
<circle cx="262" cy="1079.5" r="7.9" fill="none" stroke="#800000" stroke-width="3.5"/>
<circle cx="252" cy="1070" r="7.9" fill="none" stroke="#800000" stroke-width="3.5"/>
<line x1="252.5" y1="1061" x2="252.5" y2="1075.6" stroke="#000" stroke-width="1.8"/>
<line x1="243.7" y1="1061" x2="261.3" y2="1061" stroke="#000" stroke-width="1.8"/>
<line x1="243.7" y1="1075.6" x2="261.3" y2="1075.6" stroke="#000" stroke-width="1.8"/>
<line x1="237" y1="1065.7" x2="269.3" y2="1065.7" stroke="#000" stroke-width="4.2"/>
<circle cx="333.9" cy="1039.1" r="8" fill="#0b4383"/>
<circle cx="328.7" cy="1066.4" r="8" fill="#0b4383"/>
<circle cx="342.2" cy="1068.4" r="8" fill="#0b4383"/>
<circle cx="326" cy="1075" r="8" fill="#0b4383"/>
<circle cx="338.9" cy="1080.9" r="8" fill="#0b4383"/>
<line x1="333.9" y1="1068.4" x2="333.9" y2="1074.4" stroke="#000" stroke-width="1.8"/>
<line x1="325.1" y1="1068.4" x2="342.7" y2="1068.4" stroke="#000" stroke-width="1.8"/>
<line x1="325.1" y1="1074.4" x2="342.7" y2="1074.4" stroke="#000" stroke-width="1.8"/>
<line x1="318.1" y1="1070.3" x2="349.8" y2="1070.3" stroke="#000" stroke-width="4.2"/>
<circle cx="382.7" cy="1012.4" r="7.9" fill="none" stroke="#0b4383" stroke-width="3.5"/>
<circle cx="385.7" cy="1056.6" r="7.9" fill="none" stroke="#0b4383" stroke-width="3.5"/>
<circle cx="377.1" cy="1064.5" r="7.9" fill="none" stroke="#0b4383" stroke-width="3.5"/>
<circle cx="393.6" cy="1073" r="7.9" fill="none" stroke="#0b4383" stroke-width="3.5"/>
<circle cx="374.5" cy="1080.9" r="7.9" fill="none" stroke="#0b4383" stroke-width="3.5"/>
<circle cx="385.7" cy="1080.9" r="7.9" fill="none" stroke="#0b4383" stroke-width="3.5"/>
<line x1="382.4" y1="1057.9" x2="382.4" y2="1078" stroke="#000" stroke-width="1.8"/>
<line x1="373.6" y1="1057.9" x2="391.2" y2="1057.9" stroke="#000" stroke-width="1.8"/>
<line x1="373.6" y1="1078" x2="391.2" y2="1078" stroke="#000" stroke-width="1.8"/>
<line x1="366.6" y1="1068.9" x2="398.5" y2="1068.9" stroke="#000" stroke-width="4.2"/>
<circle cx="463" cy="793.6" r="8" fill="#147d0a"/>
<circle cx="463" cy="934.9" r="8" fill="#147d0a"/>
<circle cx="463" cy="954.7" r="8" fill="#147d0a"/>
<circle cx="470.4" cy="982" r="8" fill="#147d0a"/>
<circle cx="463" cy="991.6" r="8" fill="#147d0a"/>
<circle cx="455" cy="1005.6" r="8" fill="#147d0a"/>
<circle cx="470.4" cy="1005.6" r="8" fill="#147d0a"/>
<line x1="463" y1="935.2" x2="463" y2="1005" stroke="#000" stroke-width="1.8"/>
<line x1="454.2" y1="935.2" x2="471.8" y2="935.2" stroke="#000" stroke-width="1.8"/>
<line x1="454.2" y1="1005" x2="471.8" y2="1005" stroke="#000" stroke-width="1.8"/>
<line x1="447.3" y1="982.3" x2="479" y2="982.3" stroke="#000" stroke-width="4.2"/>
<circle cx="511.7" cy="863.4" r="7.9" fill="none" stroke="#147d0a" stroke-width="3.5"/>
<circle cx="503.6" cy="905.7" r="7.9" fill="none" stroke="#147d0a" stroke-width="3.5"/>
<circle cx="519.7" cy="908.9" r="7.9" fill="none" stroke="#147d0a" stroke-width="3.5"/>
<circle cx="503.6" cy="924.3" r="7.9" fill="none" stroke="#147d0a" stroke-width="3.5"/>
<circle cx="503.6" cy="1022.3" r="7.9" fill="none" stroke="#147d0a" stroke-width="3.5"/>
<circle cx="519.7" cy="1030" r="7.9" fill="none" stroke="#147d0a" stroke-width="3.5"/>
<circle cx="503.6" cy="1042.1" r="7.9" fill="none" stroke="#147d0a" stroke-width="3.5"/>
<line x1="511.7" y1="905.7" x2="511.7" y2="1030" stroke="#000" stroke-width="1.8"/>
<line x1="502.9" y1="905.7" x2="520.5" y2="905.7" stroke="#000" stroke-width="1.8"/>
<line x1="502.9" y1="1030" x2="520.5" y2="1030" stroke="#000" stroke-width="1.8"/>
<line x1="495.9" y1="924.3" x2="527.6" y2="924.3" stroke="#000" stroke-width="4.2"/>
<circle cx="592.4" cy="769.2" r="8" fill="#7d007d"/>
<circle cx="584.7" cy="791.7" r="8" fill="#7d007d"/>
<circle cx="600" cy="793.6" r="8" fill="#7d007d"/>
<circle cx="592.4" cy="795" r="8" fill="#7d007d"/>
<circle cx="592.4" cy="828.6" r="8" fill="#7d007d"/>
<circle cx="592.4" cy="869.9" r="8" fill="#7d007d"/>
<circle cx="592.4" cy="1021.7" r="8" fill="#7d007d"/>
<line x1="592.4" y1="793.6" x2="592.4" y2="870.1" stroke="#000" stroke-width="1.8"/>
<line x1="583.6" y1="793.6" x2="601.2" y2="793.6" stroke="#000" stroke-width="1.8"/>
<line x1="583.6" y1="870.1" x2="601.2" y2="870.1" stroke="#000" stroke-width="1.8"/>
<line x1="577" y1="793.6" x2="607.7" y2="793.6" stroke="#000" stroke-width="4.2"/>
<circle cx="640.2" cy="737.6" r="7.9" fill="none" stroke="#7d007d" stroke-width="3.5"/>
<circle cx="648" cy="754.7" r="7.9" fill="none" stroke="#7d007d" stroke-width="3.5"/>
<circle cx="631.9" cy="760.7" r="7.9" fill="none" stroke="#7d007d" stroke-width="3.5"/>
<circle cx="640.8" cy="859.3" r="7.9" fill="none" stroke="#7d007d" stroke-width="3.5"/>
<circle cx="632.7" cy="877.6" r="7.9" fill="none" stroke="#7d007d" stroke-width="3.5"/>
<circle cx="648.5" cy="892.2" r="7.9" fill="none" stroke="#7d007d" stroke-width="3.5"/>
<circle cx="640.8" cy="987.1" r="7.9" fill="none" stroke="#7d007d" stroke-width="3.5"/>
<line x1="640.8" y1="753.8" x2="640.8" y2="892.2" stroke="#000" stroke-width="1.8"/>
<line x1="632" y1="753.8" x2="649.6" y2="753.8" stroke="#000" stroke-width="1.8"/>
<line x1="632" y1="892.2" x2="649.6" y2="892.2" stroke="#000" stroke-width="1.8"/>
<line x1="625" y1="859.3" x2="656.7" y2="859.3" stroke="#000" stroke-width="4.2"/>
<line x1="1131.2" y1="671.2" x2="1131.2" y2="1061.6" stroke="#2a2a2a" stroke-width="1.3"/>
<line x1="1117.6" y1="671.2" x2="1131.2" y2="671.2" stroke="#2a2a2a" stroke-width="1.3"/>
<text x="1103.6" y="680.1" font-size="28" text-anchor="end">1</text>
<line x1="1117.6" y1="767.9" x2="1131.2" y2="767.9" stroke="#2a2a2a" stroke-width="1.3"/>
<text x="1103.6" y="776.8" font-size="28" text-anchor="end" textLength="32.9" lengthAdjust="spacingAndGlyphs">0.1</text>
<line x1="1117.6" y1="864.6" x2="1131.2" y2="864.6" stroke="#2a2a2a" stroke-width="1.3"/>
<text x="1103.6" y="873.5" font-size="28" text-anchor="end" textLength="47.2" lengthAdjust="spacingAndGlyphs">0.01</text>
<line x1="1117.6" y1="960.8" x2="1131.2" y2="960.8" stroke="#2a2a2a" stroke-width="1.3"/>
<text x="1103.6" y="969.7" font-size="28" text-anchor="end" textLength="62" lengthAdjust="spacingAndGlyphs">0.001</text>
<line x1="1117.6" y1="1057" x2="1131.2" y2="1057" stroke="#2a2a2a" stroke-width="1.3"/>
<text x="1103.6" y="1065.9" font-size="28" text-anchor="end" textLength="77.6" lengthAdjust="spacingAndGlyphs">0.0001</text>
<line x1="1130.6" y1="1061.2" x2="1426" y2="1061.2" stroke="#1a1a1a" stroke-width="1.3"/>
<line x1="1460.3" y1="1061.2" x2="1624.4" y2="1061.2" stroke="#1a1a1a" stroke-width="1.3"/>
<line x1="1426" y1="1050.5" x2="1426" y2="1071" stroke="#333" stroke-width="1.3"/>
<line x1="1460.3" y1="1050.5" x2="1460.3" y2="1071" stroke="#333" stroke-width="1.3"/>
<line x1="1130.8" y1="1061.2" x2="1130.8" y2="1073" stroke="#1a1a1a" stroke-width="1.3"/>
<line x1="1196.3" y1="1061.2" x2="1196.3" y2="1073" stroke="#1a1a1a" stroke-width="1.3"/>
<line x1="1261.9" y1="1061.2" x2="1261.9" y2="1073" stroke="#1a1a1a" stroke-width="1.3"/>
<line x1="1327.9" y1="1061.2" x2="1327.9" y2="1073" stroke="#1a1a1a" stroke-width="1.3"/>
<line x1="1393.7" y1="1061.2" x2="1393.7" y2="1073" stroke="#1a1a1a" stroke-width="1.3"/>
<line x1="1510.3" y1="1061.2" x2="1510.3" y2="1073" stroke="#1a1a1a" stroke-width="1.3"/>
<line x1="1610.4" y1="1061.2" x2="1610.4" y2="1073" stroke="#1a1a1a" stroke-width="1.3"/>
<line x1="1560.3" y1="1061.2" x2="1560.3" y2="1068" stroke="#333" stroke-width="1.3"/>
<text x="1130.8" y="1107.9" font-size="28" text-anchor="middle">0</text>
<text x="1196.3" y="1107.9" font-size="28" text-anchor="middle" textLength="30" lengthAdjust="spacingAndGlyphs">10</text>
<text x="1261.9" y="1107.9" font-size="28" text-anchor="middle" textLength="30" lengthAdjust="spacingAndGlyphs">20</text>
<text x="1327.9" y="1107.9" font-size="28" text-anchor="middle" textLength="30" lengthAdjust="spacingAndGlyphs">30</text>
<text x="1393.7" y="1107.9" font-size="28" text-anchor="middle" textLength="30" lengthAdjust="spacingAndGlyphs">40</text>
<text x="1510.3" y="1107.9" font-size="28" text-anchor="middle" textLength="45" lengthAdjust="spacingAndGlyphs">120</text>
<text x="1610.4" y="1107.9" font-size="28" text-anchor="middle" textLength="45" lengthAdjust="spacingAndGlyphs">240</text>
<text x="1240.8" y="1153.3" font-size="28" textLength="259" lengthAdjust="spacingAndGlyphs">Time after dose 1 (%)</text>
<line x1="1150.5" y1="1056.8" x2="1617" y2="1056.8" stroke="#000" stroke-width="3.9" stroke-dasharray="7.3 12.35"/>
<circle cx="1672.2" cy="963" r="10.9" fill="#005496"/>
<text x="1697" y="972.5" font-size="28" textLength="82" lengthAdjust="spacingAndGlyphs">Dose 1</text>
<circle cx="1672.2" cy="1002.6" r="9.2" fill="none" stroke="#005496" stroke-width="3.2"/>
<text x="1697" y="1012.2" font-size="28" textLength="82" lengthAdjust="spacingAndGlyphs">Dose 2</text>
<text transform="translate(997.6,976.2) rotate(-90)" font-size="28" textLength="229.6" lengthAdjust="spacingAndGlyphs">TET<tspan font-size="18.5" dy="8">751</tspan><tspan font-size="18.5" dy="-17">+</tspan><tspan dy="9"> (%) of cT</tspan><tspan font-size="18.5" dy="8">FH</tspan></text>
<polyline points="1131.1,1056.6 1177,1056.6" fill="none" stroke="#0a3b80" stroke-width="2.3"/>
<polyline points="1131.1,917.7 1170.3,940.7" fill="none" stroke="#0a3b80" stroke-width="2.3"/>
<polyline points="1131.1,938.4 1170.3,944" fill="none" stroke="#0a3b80" stroke-width="2.3"/>
<polyline points="1131.1,1056.6 1177,892.7" fill="none" stroke="#0a3b80" stroke-width="2.3"/>
<polyline points="1131.1,1056.6 1268.5,846.6" fill="none" stroke="#0a3b80" stroke-width="2.3"/>
<polyline points="1131.1,1056.6 1255.4,893.7" fill="none" stroke="#0a3b80" stroke-width="2.3"/>
<polyline points="1170.3,940.7 1177,892.7 1222.8,863.9" fill="none" stroke="#0a3b80" stroke-width="2.3"/>
<polyline points="1170.3,944 1222.8,824.5" fill="none" stroke="#0a3b80" stroke-width="2.3"/>
<polyline points="1170.3,1056.6 1203,899.4 1222.8,881.8" fill="none" stroke="#0a3b80" stroke-width="2.3"/>
<polyline points="1177,1056.6 1222.8,881.8" fill="none" stroke="#0a3b80" stroke-width="2.3"/>
<polyline points="1177,892.7 1203,764 1262.1,767.3 1334.2,765.9 1380.3,777.8 1428.3,801.1" fill="none" stroke="#0a3b80" stroke-width="2.3"/>
<polyline points="1222.8,881.8 1255.4,893.7 1393.7,874.5 1428.3,872.2" fill="none" stroke="#0a3b80" stroke-width="2.3"/>
<polyline points="1222.8,824.5 1275.2,843.7 1314,842.8" fill="none" stroke="#0a3b80" stroke-width="2.3"/>
<polyline points="1222.8,863.9 1262.1,802.4 1334.2,798.6 1380.3,812.6 1406.6,834.1 1428.3,852.4" fill="none" stroke="#0a3b80" stroke-width="2.3"/>
<polyline points="1222.8,863.9 1275.2,833.2 1321.3,814.9 1360.5,824.9 1428.3,841.8" fill="none" stroke="#0a3b80" stroke-width="2.3"/>
<polyline points="1268.5,903.8 1314,842.8 1354.3,867.2 1428.3,830.3" fill="none" stroke="#0a3b80" stroke-width="2.3"/>
<polyline points="1268.5,846.6 1360.5,786.1 1380.3,812.6" fill="none" stroke="#0a3b80" stroke-width="2.3"/>
<polyline points="1360.5,824.9 1428.3,960.9" fill="none" stroke="#0a3b80" stroke-width="2.3"/>
<polyline points="1360.5,786.1 1406.6,834.1" fill="none" stroke="#0a3b80" stroke-width="2.3"/>
<polyline points="1459.4,816.1 1486.7,823.8 1613.9,868.7" fill="none" stroke="#0a3b80" stroke-width="2.3"/>
<polyline points="1459.4,832.8 1486.7,823.8 1518.2,843.8 1606.2,911.8" fill="none" stroke="#0a3b80" stroke-width="2.3"/>
<polyline points="1459.4,849.6 1575.6,875.9" fill="none" stroke="#0a3b80" stroke-width="2.3"/>
<polyline points="1459.4,869.7 1489.5,868.7 1611,831.4" fill="none" stroke="#0a3b80" stroke-width="2.3"/>
<polyline points="1459.4,880.7 1475.2,893.6 1613.9,1056.7" fill="none" stroke="#0a3b80" stroke-width="2.3"/>
<polyline points="1459.4,1024.2 1475.2,1056.7 1607.7,880.7" fill="none" stroke="#0a3b80" stroke-width="2.3"/>
<circle cx="1131.1" cy="917.7" r="8" fill="#0b4383"/>
<circle cx="1131.1" cy="938.4" r="8" fill="#0b4383"/>
<circle cx="1131.1" cy="1056.6" r="8" fill="#0b4383"/>
<circle cx="1170.3" cy="940.7" r="8" fill="#0b4383"/>
<circle cx="1170.3" cy="944" r="8" fill="#0b4383"/>
<circle cx="1170.3" cy="1056.6" r="8" fill="#0b4383"/>
<circle cx="1177" cy="1056.6" r="8" fill="#0b4383"/>
<circle cx="1177" cy="892.7" r="8" fill="#0b4383"/>
<circle cx="1203" cy="764" r="8" fill="#0b4383"/>
<circle cx="1203" cy="899.4" r="8" fill="#0b4383"/>
<circle cx="1222.8" cy="824.5" r="8" fill="#0b4383"/>
<circle cx="1222.8" cy="863.9" r="8" fill="#0b4383"/>
<circle cx="1222.8" cy="881.8" r="8" fill="#0b4383"/>
<circle cx="1262.1" cy="767.3" r="8" fill="#0b4383"/>
<circle cx="1262.1" cy="802.4" r="8" fill="#0b4383"/>
<circle cx="1255.4" cy="893.7" r="8" fill="#0b4383"/>
<circle cx="1268.5" cy="903.8" r="8" fill="#0b4383"/>
<circle cx="1275.2" cy="833.2" r="8" fill="#0b4383"/>
<circle cx="1275.2" cy="843.7" r="8" fill="#0b4383"/>
<circle cx="1268.5" cy="846.6" r="8" fill="#0b4383"/>
<circle cx="1334.2" cy="765.9" r="7.9" fill="none" stroke="#0b4383" stroke-width="3.5"/>
<circle cx="1380.3" cy="777.8" r="7.9" fill="none" stroke="#0b4383" stroke-width="3.5"/>
<circle cx="1360.5" cy="786.1" r="7.9" fill="none" stroke="#0b4383" stroke-width="3.5"/>
<circle cx="1334.2" cy="798.6" r="7.9" fill="none" stroke="#0b4383" stroke-width="3.5"/>
<circle cx="1380.3" cy="812.6" r="7.9" fill="none" stroke="#0b4383" stroke-width="3.5"/>
<circle cx="1321.3" cy="814.9" r="7.9" fill="none" stroke="#0b4383" stroke-width="3.5"/>
<circle cx="1360.5" cy="824.9" r="7.9" fill="none" stroke="#0b4383" stroke-width="3.5"/>
<circle cx="1406.6" cy="834.1" r="7.9" fill="none" stroke="#0b4383" stroke-width="3.5"/>
<circle cx="1314" cy="842.8" r="7.9" fill="none" stroke="#0b4383" stroke-width="3.5"/>
<circle cx="1354.3" cy="867.2" r="7.9" fill="none" stroke="#0b4383" stroke-width="3.5"/>
<circle cx="1393.7" cy="874.5" r="7.9" fill="none" stroke="#0b4383" stroke-width="3.5"/>
<circle cx="1486.7" cy="823.8" r="7.9" fill="none" stroke="#0b4383" stroke-width="3.5"/>
<circle cx="1518.2" cy="843.8" r="7.9" fill="none" stroke="#0b4383" stroke-width="3.5"/>
<circle cx="1489.5" cy="868.7" r="7.9" fill="none" stroke="#0b4383" stroke-width="3.5"/>
<circle cx="1475.2" cy="893.6" r="7.9" fill="none" stroke="#0b4383" stroke-width="3.5"/>
<circle cx="1475.2" cy="1056.7" r="7.9" fill="none" stroke="#0b4383" stroke-width="3.5"/>
<circle cx="1575.6" cy="875.9" r="7.9" fill="none" stroke="#0b4383" stroke-width="3.5"/>
<circle cx="1611" cy="831.4" r="7.9" fill="none" stroke="#0b4383" stroke-width="3.5"/>
<circle cx="1613.9" cy="868.7" r="7.9" fill="none" stroke="#0b4383" stroke-width="3.5"/>
<circle cx="1607.7" cy="880.7" r="7.9" fill="none" stroke="#0b4383" stroke-width="3.5"/>
<circle cx="1606.2" cy="911.8" r="7.9" fill="none" stroke="#0b4383" stroke-width="3.5"/>
<circle cx="1613.9" cy="1056.7" r="7.9" fill="none" stroke="#0b4383" stroke-width="3.5"/>
<path d="M150.9 1406.4A176.5 176.5 0 0 1 159.7 1393.0Q303.0 1496.0 129.8 1530.0A176.5 176.5 0 0 1 127.4 1514.1Q303.0 1496.0 150.9 1406.4Z" fill="#b0b0b0" fill-opacity="0.5"/>
<path d="M269.3 1322.7A176.5 176.5 0 0 1 283.0 1320.6Q303.0 1496.0 455.1 1585.6A176.5 176.5 0 0 1 448.5 1596.0Q303.0 1496.0 269.3 1322.7Z" fill="#b0b0b0" fill-opacity="0.5"/>
<path d="M285.2 1320.4A176.5 176.5 0 0 1 299.9 1319.5Q303.0 1496.0 464.9 1566.4A176.5 176.5 0 0 1 456.2 1583.7Q303.0 1496.0 285.2 1320.4Z" fill="#b0b0b0" fill-opacity="0.5"/>
<path d="M302.1 1319.5A176.5 176.5 0 0 1 317.8 1320.1Q303.0 1496.0 471.6 1548.2A176.5 176.5 0 0 1 465.7 1564.4Q303.0 1496.0 302.1 1319.5Z" fill="#b0b0b0" fill-opacity="0.5"/>
<path d="M319.9 1320.3A176.5 176.5 0 0 1 334.3 1322.3Q303.0 1496.0 476.1 1530.3A176.5 176.5 0 0 1 472.2 1546.1Q303.0 1496.0 319.9 1320.3Z" fill="#b0b0b0" fill-opacity="0.5"/>
<path d="M336.7 1322.7A176.5 176.5 0 0 1 350.8 1326.1Q303.0 1496.0 478.6 1514.1A176.5 176.5 0 0 1 476.5 1528.2Q303.0 1496.0 336.7 1322.7Z" fill="#b0b0b0" fill-opacity="0.5"/>
<path d="M350.8 1326.1A176.5 176.5 0 0 1 364.5 1330.6Q303.0 1496.0 134.2 1547.6A176.5 176.5 0 0 1 130.2 1532.1Q303.0 1496.0 350.8 1326.1Z" fill="#b0b0b0" fill-opacity="0.5"/>
<path d="M382.6 1338.5A176.5 176.5 0 0 1 395.7 1345.8Q303.0 1496.0 160.8 1600.5A176.5 176.5 0 0 1 152.8 1588.7Q303.0 1496.0 382.6 1338.5Z" fill="#b0b0b0" fill-opacity="0.5"/>
<path d="M426.0 1369.5A176.5 176.5 0 0 1 437.8 1382.1Q303.0 1496.0 171.8 1614.1A176.5 176.5 0 0 1 162.0 1602.2Q303.0 1496.0 426.0 1369.5Z" fill="#b0b0b0" fill-opacity="0.5"/>
<path d="M449.3 1397.3A176.5 176.5 0 0 1 456.9 1409.6Q303.0 1496.0 185.6 1627.8A176.5 176.5 0 0 1 173.3 1615.7Q303.0 1496.0 449.3 1397.3Z" fill="#b0b0b0" fill-opacity="0.5"/>
<path d="M477.1 1466.9A176.5 176.5 0 0 1 479.1 1484.0Q303.0 1496.0 200.0 1639.3A176.5 176.5 0 0 1 187.2 1629.2Q303.0 1496.0 477.1 1466.9Z" fill="#b0b0b0" fill-opacity="0.5"/>
<path d="M128.9 1466.9A176.5 176.5 0 0 1 135.7 1439.7Q303.0 1496.0 349.3 1666.3A176.5 176.5 0 0 1 326.6 1670.9Q303.0 1496.0 128.9 1466.9Z" fill="#7f1a20" fill-opacity="0.5"/>
<path d="M236.9 1332.4A176.5 176.5 0 0 1 251.4 1327.2Q303.0 1496.0 363.9 1661.6A176.5 176.5 0 0 1 349.3 1666.3Q303.0 1496.0 236.9 1332.4Z" fill="#7f1a20" fill-opacity="0.5"/>
<path d="M254.4 1326.3A176.5 176.5 0 0 1 269.3 1322.7Q303.0 1496.0 378.2 1655.7A176.5 176.5 0 0 1 363.9 1661.6Q303.0 1496.0 254.4 1326.3Z" fill="#7f1a20" fill-opacity="0.5"/>
<path d="M397.6 1347.0A176.5 176.5 0 0 1 410.7 1356.2Q303.0 1496.0 392.3 1648.2A176.5 176.5 0 0 1 378.2 1655.7Q303.0 1496.0 397.6 1347.0Z" fill="#7f1a20" fill-opacity="0.5"/>
<path d="M412.4 1357.5A176.5 176.5 0 0 1 424.5 1368.0Q303.0 1496.0 405.7 1639.5A176.5 176.5 0 0 1 392.3 1648.2Q303.0 1496.0 412.4 1357.5Z" fill="#7f1a20" fill-opacity="0.5"/>
<path d="M439.2 1383.7A176.5 176.5 0 0 1 448.3 1395.8Q303.0 1496.0 417.6 1630.2A176.5 176.5 0 0 1 405.7 1639.5Q303.0 1496.0 439.2 1383.7Z" fill="#7f1a20" fill-opacity="0.5"/>
<path d="M463.6 1422.8A176.5 176.5 0 0 1 469.5 1437.4Q303.0 1496.0 429.1 1619.5A176.5 176.5 0 0 1 417.6 1630.2Q303.0 1496.0 463.6 1422.8Z" fill="#7f1a20" fill-opacity="0.5"/>
<path d="M470.2 1439.4A176.5 176.5 0 0 1 477.1 1466.9Q303.0 1496.0 447.2 1597.7A176.5 176.5 0 0 1 429.1 1619.5Q303.0 1496.0 470.2 1439.4Z" fill="#7f1a20" fill-opacity="0.5"/>
<path d="M127.0 1482.2A176.5 176.5 0 0 1 128.4 1469.9Q303.0 1496.0 216.1 1649.6A176.5 176.5 0 0 1 205.6 1643.2Q303.0 1496.0 127.0 1482.2Z" fill="#5078e6" fill-opacity="0.5"/>
<path d="M159.7 1393.0A176.5 176.5 0 0 1 234.0 1333.5Q303.0 1496.0 309.2 1672.4A176.5 176.5 0 0 1 216.1 1649.6Q303.0 1496.0 159.7 1393.0Z" fill="#5078e6" fill-opacity="0.5"/>
<path d="M366.3 1331.2A176.5 176.5 0 0 1 380.6 1337.5Q303.0 1496.0 324.5 1671.2A176.5 176.5 0 0 1 309.2 1672.4Q303.0 1496.0 366.3 1331.2Z" fill="#5078e6" fill-opacity="0.5"/>
<path d="M137.1 1435.6A176.5 176.5 0 0 1 150.9 1406.4Q303.0 1496.0 147.2 1578.9A176.5 176.5 0 0 1 134.9 1549.7Q303.0 1496.0 137.1 1435.6Z" fill="#41b169" fill-opacity="0.5"/>
<path d="M458.0 1411.5A176.5 176.5 0 0 1 463.6 1422.8Q303.0 1496.0 151.7 1586.9A176.5 176.5 0 0 1 147.2 1578.9Q303.0 1496.0 458.0 1411.5Z" fill="#41b169" fill-opacity="0.5"/>
<path d="M117.0 1482.3A186.5 186.5 0 0 1 118.5 1468.4L125.5 1469.5A179.5 179.5 0 0 0 124.0 1482.9Z" fill="#a9a9a9"/>
<path d="M118.9 1466.2A186.5 186.5 0 0 1 126.7 1435.3L133.3 1437.6A179.5 179.5 0 0 0 125.8 1467.3Z" fill="#a9a9a9"/>
<path d="M127.4 1433.1A186.5 186.5 0 0 1 230.1 1324.3L232.9 1330.8A179.5 179.5 0 0 0 134.0 1435.5Z" fill="#a9a9a9"/>
<path d="M232.2 1323.4A186.5 186.5 0 0 1 248.5 1317.6L250.5 1324.3A179.5 179.5 0 0 0 234.9 1329.9Z" fill="#a9a9a9"/>
<path d="M250.7 1317.0A186.5 186.5 0 0 1 281.9 1310.7L282.7 1317.7A179.5 179.5 0 0 0 252.6 1323.7Z" fill="#a9a9a9"/>
<path d="M284.2 1310.5A186.5 186.5 0 0 1 299.7 1309.5L299.9 1316.5A179.5 179.5 0 0 0 284.9 1317.4Z" fill="#a9a9a9"/>
<path d="M302.0 1309.5A186.5 186.5 0 0 1 318.6 1310.2L318.0 1317.1A179.5 179.5 0 0 0 302.1 1316.5Z" fill="#a9a9a9"/>
<path d="M320.9 1310.4A186.5 186.5 0 0 1 336.0 1312.4L334.8 1319.3A179.5 179.5 0 0 0 320.2 1317.3Z" fill="#a9a9a9"/>
<path d="M338.3 1312.9A186.5 186.5 0 0 1 368.0 1321.2L365.6 1327.8A179.5 179.5 0 0 0 336.9 1319.7Z" fill="#a9a9a9"/>
<path d="M370.1 1322.0A186.5 186.5 0 0 1 385.0 1328.5L382.0 1334.8A179.5 179.5 0 0 0 367.6 1328.5Z" fill="#a9a9a9"/>
<path d="M387.1 1329.5A186.5 186.5 0 0 1 401.0 1337.3L397.3 1343.3A179.5 179.5 0 0 0 383.9 1335.8Z" fill="#a9a9a9"/>
<path d="M402.9 1338.5A186.5 186.5 0 0 1 416.8 1348.2L412.5 1353.8A179.5 179.5 0 0 0 399.2 1344.4Z" fill="#a9a9a9"/>
<path d="M418.6 1349.6A186.5 186.5 0 0 1 431.4 1360.7L426.6 1365.8A179.5 179.5 0 0 0 414.3 1355.1Z" fill="#a9a9a9"/>
<path d="M433.0 1362.3A186.5 186.5 0 0 1 445.4 1375.6L440.1 1380.1A179.5 179.5 0 0 0 428.1 1367.3Z" fill="#a9a9a9"/>
<path d="M446.9 1377.4A186.5 186.5 0 0 1 456.5 1390.1L450.8 1394.1A179.5 179.5 0 0 0 441.5 1381.8Z" fill="#a9a9a9"/>
<path d="M457.8 1392.0A186.5 186.5 0 0 1 465.6 1404.7L459.5 1408.2A179.5 179.5 0 0 0 452.0 1395.9Z" fill="#a9a9a9"/>
<path d="M466.7 1406.7A186.5 186.5 0 0 1 478.9 1434.1L472.3 1436.4A179.5 179.5 0 0 0 460.6 1410.1Z" fill="#a9a9a9"/>
<path d="M479.7 1436.2A186.5 186.5 0 0 1 489.1 1483.3L482.1 1483.8A179.5 179.5 0 0 0 473.0 1438.4Z" fill="#a9a9a9"/>
<path d="M488.5 1515.2A186.5 186.5 0 0 1 486.4 1530.0L479.5 1528.7A179.5 179.5 0 0 0 481.5 1514.5Z" fill="#a9a9a9"/>
<path d="M485.9 1532.2A186.5 186.5 0 0 1 481.8 1549.0L475.1 1547.0A179.5 179.5 0 0 0 479.1 1530.9Z" fill="#a9a9a9"/>
<path d="M481.2 1551.1A186.5 186.5 0 0 1 474.9 1568.3L468.5 1565.6A179.5 179.5 0 0 0 474.5 1549.1Z" fill="#a9a9a9"/>
<path d="M474.0 1570.4A186.5 186.5 0 0 1 464.8 1588.7L458.8 1585.2A179.5 179.5 0 0 0 467.6 1567.6Z" fill="#a9a9a9"/>
<path d="M463.7 1590.7A186.5 186.5 0 0 1 456.7 1601.6L450.9 1597.7A179.5 179.5 0 0 0 457.7 1587.1Z" fill="#a9a9a9"/>
<path d="M455.4 1603.5A186.5 186.5 0 0 1 328.0 1680.8L327.1 1673.9A179.5 179.5 0 0 0 449.7 1599.5Z" fill="#870f19"/>
<path d="M325.7 1681.1A186.5 186.5 0 0 1 196.0 1648.8L200.0 1643.0A179.5 179.5 0 0 0 324.9 1674.2Z" fill="#5082e6"/>
<path d="M194.2 1647.5A186.5 186.5 0 0 1 180.6 1636.8L185.2 1631.5A179.5 179.5 0 0 0 198.3 1641.8Z" fill="#a9a9a9"/>
<path d="M178.9 1635.2A186.5 186.5 0 0 1 165.9 1622.5L171.1 1617.7A179.5 179.5 0 0 0 183.6 1630.0Z" fill="#a9a9a9"/>
<path d="M164.4 1620.8A186.5 186.5 0 0 1 154.1 1608.2L159.6 1604.0A179.5 179.5 0 0 0 169.6 1616.1Z" fill="#a9a9a9"/>
<path d="M152.7 1606.4A186.5 186.5 0 0 1 144.3 1594.0L150.3 1590.3A179.5 179.5 0 0 0 158.3 1602.3Z" fill="#a9a9a9"/>
<path d="M143.1 1592.1A186.5 186.5 0 0 1 125.3 1552.7L132.0 1550.6A179.5 179.5 0 0 0 149.1 1588.4Z" fill="#28a05a"/>
<path d="M124.6 1550.5A186.5 186.5 0 0 1 120.4 1534.1L127.3 1532.7A179.5 179.5 0 0 0 131.3 1548.5Z" fill="#a9a9a9"/>
<path d="M120.0 1531.9A186.5 186.5 0 0 1 117.5 1515.2L124.5 1514.5A179.5 179.5 0 0 0 126.9 1530.6Z" fill="#a9a9a9"/>
<text x="208.5" y="1266" font-size="28" textLength="189.7" lengthAdjust="spacingAndGlyphs">COR22 (<tspan font-style="italic">n</tspan> = 33)</text>
<text x="51.7" y="1346.7" font-size="28" font-style="italic" textLength="122" lengthAdjust="spacingAndGlyphs">TRAV12-1</text>
<text x="155.3" y="1704.3" font-size="28" font-style="italic" textLength="121.5" lengthAdjust="spacingAndGlyphs">TRBV24-1</text>
<text x="394.2" y="1690.5" font-size="28" font-style="italic" textLength="122.4" lengthAdjust="spacingAndGlyphs">TRBV20-1</text>
<path d="M624.6 1485.2A176.5 176.5 0 0 1 625.1 1479.9Q800.6 1499.0 676.7 1624.7A176.5 176.5 0 0 1 672.1 1620.0Q800.6 1499.0 624.6 1485.2Z" fill="#5078e6" fill-opacity="0.5"/>
<path d="M638.1 1430.0A176.5 176.5 0 0 1 884.0 1343.4Q800.6 1499.0 933.8 1614.8A176.5 176.5 0 0 1 677.1 1625.1Q800.6 1499.0 638.1 1430.0Z" fill="#5078e6" fill-opacity="0.5"/>
<path d="M905.6 1357.1A176.5 176.5 0 0 1 911.2 1361.4Q800.6 1499.0 938.2 1609.6A176.5 176.5 0 0 1 934.2 1614.3Q800.6 1499.0 905.6 1357.1Z" fill="#5078e6" fill-opacity="0.5"/>
<path d="M913.6 1363.4A176.5 176.5 0 0 1 924.7 1373.5Q800.6 1499.0 947.3 1597.2A176.5 176.5 0 0 1 938.5 1609.1Q800.6 1499.0 913.6 1363.4Z" fill="#5078e6" fill-opacity="0.5"/>
<path d="M926.9 1375.7A176.5 176.5 0 0 1 932.2 1381.4Q800.6 1499.0 951.7 1590.2A176.5 176.5 0 0 1 947.6 1596.7Q800.6 1499.0 926.9 1375.7Z" fill="#5078e6" fill-opacity="0.5"/>
<path d="M934.2 1383.7A176.5 176.5 0 0 1 938.5 1388.9Q800.6 1499.0 955.4 1583.8A176.5 176.5 0 0 1 952.0 1589.6Q800.6 1499.0 934.2 1383.7Z" fill="#5078e6" fill-opacity="0.5"/>
<path d="M940.4 1391.3A176.5 176.5 0 0 1 948.1 1402.1Q800.6 1499.0 961.6 1571.4A176.5 176.5 0 0 1 955.7 1583.2Q800.6 1499.0 940.4 1391.3Z" fill="#5078e6" fill-opacity="0.5"/>
<path d="M963.5 1431.2A176.5 176.5 0 0 1 966.0 1437.5Q800.6 1499.0 964.0 1565.7A176.5 176.5 0 0 1 961.8 1570.8Q800.6 1499.0 963.5 1431.2Z" fill="#5078e6" fill-opacity="0.5"/>
<path d="M972.1 1457.2A176.5 176.5 0 0 1 973.6 1464.1Q800.6 1499.0 966.5 1559.4A176.5 176.5 0 0 1 964.2 1565.1Q800.6 1499.0 972.1 1457.2Z" fill="#5078e6" fill-opacity="0.5"/>
<path d="M974.2 1467.1A176.5 176.5 0 0 1 976.6 1485.8Q800.6 1499.0 972.8 1537.8A176.5 176.5 0 0 1 966.7 1558.8Q800.6 1499.0 974.2 1467.1Z" fill="#5078e6" fill-opacity="0.5"/>
<path d="M625.7 1475.4A176.5 176.5 0 0 1 626.5 1470.2Q800.6 1499.0 625.9 1524.2A176.5 176.5 0 0 1 625.1 1518.1Q800.6 1499.0 625.7 1475.4Z" fill="#b0b0b0" fill-opacity="0.5"/>
<path d="M635.5 1436.6A176.5 176.5 0 0 1 637.8 1430.9Q800.6 1499.0 629.1 1540.8A176.5 176.5 0 0 1 626.4 1527.5Q800.6 1499.0 635.5 1436.6Z" fill="#b0b0b0" fill-opacity="0.5"/>
<path d="M884.5 1343.7A176.5 176.5 0 0 1 888.6 1346.0Q800.6 1499.0 634.1 1557.6A176.5 176.5 0 0 1 632.3 1552.1Q800.6 1499.0 884.5 1343.7Z" fill="#b0b0b0" fill-opacity="0.5"/>
<path d="M891.2 1347.6A176.5 176.5 0 0 1 897.8 1351.6Q800.6 1499.0 976.1 1518.1A176.5 176.5 0 0 1 974.9 1526.6Q800.6 1499.0 891.2 1347.6Z" fill="#b0b0b0" fill-opacity="0.5"/>
<path d="M898.3 1352.0A176.5 176.5 0 0 1 903.1 1355.3Q800.6 1499.0 974.4 1529.6A176.5 176.5 0 0 1 973.4 1534.8Q800.6 1499.0 898.3 1352.0Z" fill="#b0b0b0" fill-opacity="0.5"/>
<path d="M949.8 1404.7A176.5 176.5 0 0 1 957.4 1418.0Q800.6 1499.0 662.5 1608.9A176.5 176.5 0 0 1 651.2 1593.1Q800.6 1499.0 949.8 1404.7Z" fill="#b0b0b0" fill-opacity="0.5"/>
<path d="M958.8 1420.8A176.5 176.5 0 0 1 962.3 1428.3Q800.6 1499.0 670.1 1617.8A176.5 176.5 0 0 1 664.8 1611.7Q800.6 1499.0 958.8 1420.8Z" fill="#b0b0b0" fill-opacity="0.5"/>
<path d="M967.4 1441.2A176.5 176.5 0 0 1 971.8 1456.0Q800.6 1499.0 632.1 1551.5A176.5 176.5 0 0 1 630.0 1544.1Q800.6 1499.0 967.4 1441.2Z" fill="#b0b0b0" fill-opacity="0.5"/>
<path d="M626.5 1469.9A176.5 176.5 0 0 1 635.3 1437.2Q800.6 1499.0 649.6 1590.4A176.5 176.5 0 0 1 635.3 1560.8Q800.6 1499.0 626.5 1469.9Z" fill="#41b169" fill-opacity="0.5"/>
<path d="M614.6 1485.7A186.5 186.5 0 0 1 615.3 1478.2L622.2 1479.0A179.5 179.5 0 0 0 621.6 1486.2Z" fill="#a9a9a9"/>
<path d="M615.7 1474.7A186.5 186.5 0 0 1 893.9 1337.5L890.4 1343.5A179.5 179.5 0 0 0 622.6 1475.6Z" fill="#a9a9a9"/>
<path d="M895.8 1338.6A186.5 186.5 0 0 1 909.4 1347.5L905.3 1353.2A179.5 179.5 0 0 0 892.2 1344.7Z" fill="#a9a9a9"/>
<path d="M911.0 1348.7A186.5 186.5 0 0 1 918.0 1354.1L913.6 1359.5A179.5 179.5 0 0 0 906.9 1354.3Z" fill="#a9a9a9"/>
<path d="M919.5 1355.3A186.5 186.5 0 0 1 932.2 1366.9L927.3 1371.9A179.5 179.5 0 0 0 915.0 1360.7Z" fill="#a9a9a9"/>
<path d="M933.6 1368.3A186.5 186.5 0 0 1 940.1 1375.2L934.8 1379.8A179.5 179.5 0 0 0 928.6 1373.2Z" fill="#a9a9a9"/>
<path d="M941.4 1376.6A186.5 186.5 0 0 1 946.8 1383.2L941.3 1387.5A179.5 179.5 0 0 0 936.1 1381.2Z" fill="#a9a9a9"/>
<path d="M948.0 1384.7A186.5 186.5 0 0 1 956.8 1397.2L951.0 1401.0A179.5 179.5 0 0 0 942.4 1389.0Z" fill="#a9a9a9"/>
<path d="M957.9 1398.8A186.5 186.5 0 0 1 966.6 1414.0L960.4 1417.2A179.5 179.5 0 0 0 952.0 1402.6Z" fill="#a9a9a9"/>
<path d="M967.5 1415.8A186.5 186.5 0 0 1 971.8 1424.9L965.3 1427.7A179.5 179.5 0 0 0 961.2 1418.9Z" fill="#a9a9a9"/>
<path d="M972.5 1426.7A186.5 186.5 0 0 1 983.5 1462.8L976.7 1464.1A179.5 179.5 0 0 0 966.1 1429.4Z" fill="#a9a9a9"/>
<path d="M983.9 1464.7A186.5 186.5 0 0 1 986.6 1485.7L979.6 1486.2A179.5 179.5 0 0 0 977.0 1466.0Z" fill="#a9a9a9"/>
<path d="M986.1 1518.5A186.5 186.5 0 0 1 984.7 1528.8L977.8 1527.7A179.5 179.5 0 0 0 979.1 1517.8Z" fill="#a9a9a9"/>
<path d="M984.4 1530.7A186.5 186.5 0 0 1 983.1 1537.5L976.2 1536.0A179.5 179.5 0 0 0 977.5 1529.6Z" fill="#a9a9a9"/>
<path d="M982.7 1539.4A186.5 186.5 0 0 1 664.4 1626.4L669.5 1621.6A179.5 179.5 0 0 0 975.8 1537.9Z" fill="#5082e6"/>
<path d="M663.1 1625.0A186.5 186.5 0 0 1 656.7 1617.6L662.1 1613.2A179.5 179.5 0 0 0 668.3 1620.3Z" fill="#a9a9a9"/>
<path d="M655.0 1615.6A186.5 186.5 0 0 1 642.4 1597.8L648.4 1594.1A179.5 179.5 0 0 0 660.5 1611.2Z" fill="#a9a9a9"/>
<path d="M641.4 1596.2A186.5 186.5 0 0 1 625.7 1563.7L632.2 1561.3A179.5 179.5 0 0 0 647.4 1592.5Z" fill="#28a05a"/>
<path d="M624.9 1561.6A186.5 186.5 0 0 1 620.1 1546.0L626.9 1544.2A179.5 179.5 0 0 0 631.5 1559.2Z" fill="#a9a9a9"/>
<path d="M619.6 1543.8A186.5 186.5 0 0 1 616.4 1528.5L623.4 1527.4A179.5 179.5 0 0 0 626.4 1542.1Z" fill="#a9a9a9"/>
<path d="M616.1 1526.2A186.5 186.5 0 0 1 615.1 1518.5L622.1 1517.8A179.5 179.5 0 0 0 623.0 1525.2Z" fill="#a9a9a9"/>
<text x="718.8" y="1266.4" font-size="28" textLength="190.5" lengthAdjust="spacingAndGlyphs">COR03 (<tspan font-style="italic">n</tspan> = 73)</text>
<text x="605" y="1323" font-size="28" font-style="italic" textLength="122.5" lengthAdjust="spacingAndGlyphs">TRAV12-1</text>
<text x="800" y="1714.2" font-size="28" font-style="italic" textLength="122.3" lengthAdjust="spacingAndGlyphs">TRBV24-1</text>
<path d="M1188.2 1339.1A176.5 176.5 0 0 1 1204.5 1331.6Q1270.0 1495.5 1445.3 1515.8A176.5 176.5 0 0 1 1442.9 1531.0Q1270.0 1495.5 1188.2 1339.1Z" fill="#b0b0b0" fill-opacity="0.5"/>
<path d="M1207.3 1330.5A176.5 176.5 0 0 1 1223.7 1325.2Q1270.0 1495.5 1296.4 1670.0A176.5 176.5 0 0 1 1279.9 1671.7Q1270.0 1495.5 1207.3 1330.5Z" fill="#7f1a20" fill-opacity="0.5"/>
<path d="M1246.7 1320.6A176.5 176.5 0 0 1 1263.5 1319.1Q1270.0 1495.5 1313.6 1666.5A176.5 176.5 0 0 1 1297.0 1669.9Q1270.0 1495.5 1246.7 1320.6Z" fill="#7f1a20" fill-opacity="0.5"/>
<path d="M1266.6 1319.0A176.5 176.5 0 0 1 1283.2 1319.5Q1270.0 1495.5 1330.7 1661.3A176.5 176.5 0 0 1 1314.2 1666.4Q1270.0 1495.5 1266.6 1319.0Z" fill="#7f1a20" fill-opacity="0.5"/>
<path d="M1286.3 1319.8A176.5 176.5 0 0 1 1336.7 1332.1Q1270.0 1495.5 1376.2 1636.5A176.5 176.5 0 0 1 1331.2 1661.0Q1270.0 1495.5 1286.3 1319.8Z" fill="#7f1a20" fill-opacity="0.5"/>
<path d="M1370.7 1350.6A176.5 176.5 0 0 1 1434.1 1430.5Q1270.0 1495.5 1436.4 1554.4A176.5 176.5 0 0 1 1376.7 1636.1Q1270.0 1495.5 1370.7 1350.6Z" fill="#7f1a20" fill-opacity="0.5"/>
<path d="M1093.9 1483.5A176.5 176.5 0 0 1 1140.5 1375.6Q1270.0 1495.5 1223.7 1665.8A176.5 176.5 0 0 1 1127.6 1599.7Q1270.0 1495.5 1093.9 1483.5Z" fill="#5078e6" fill-opacity="0.5"/>
<path d="M1226.7 1324.4A176.5 176.5 0 0 1 1243.6 1321.0Q1270.0 1495.5 1241.5 1669.7A176.5 176.5 0 0 1 1224.3 1666.0Q1270.0 1495.5 1226.7 1324.4Z" fill="#5078e6" fill-opacity="0.5"/>
<path d="M1356.1 1341.4A176.5 176.5 0 0 1 1370.2 1350.2Q1270.0 1495.5 1258.9 1671.7A176.5 176.5 0 0 1 1242.1 1669.8Q1270.0 1495.5 1356.1 1341.4Z" fill="#5078e6" fill-opacity="0.5"/>
<path d="M1444.1 1466.4A176.5 176.5 0 0 1 1446.1 1483.5Q1270.0 1495.5 1276.5 1671.9A176.5 176.5 0 0 1 1259.5 1671.7Q1270.0 1495.5 1444.1 1466.4Z" fill="#5078e6" fill-opacity="0.5"/>
<path d="M1337.3 1332.3A176.5 176.5 0 0 1 1353.1 1339.8Q1270.0 1495.5 1442.1 1534.6A176.5 176.5 0 0 1 1437.6 1550.9Q1270.0 1495.5 1337.3 1332.3Z" fill="#b0b0b0" fill-opacity="0.5"/>
<path d="M1435.3 1433.7A176.5 176.5 0 0 1 1443.9 1465.5Q1270.0 1495.5 1125.8 1597.2A176.5 176.5 0 0 1 1108.6 1567.0Q1270.0 1495.5 1435.3 1433.7Z" fill="#b0b0b0" fill-opacity="0.5"/>
<path d="M1142.8 1373.1A176.5 176.5 0 0 1 1185.2 1340.7Q1270.0 1495.5 1107.3 1563.9A176.5 176.5 0 0 1 1094.5 1514.6Q1270.0 1495.5 1142.8 1373.1Z" fill="#41b169" fill-opacity="0.5"/>
<path d="M1083.9 1483.5A186.5 186.5 0 0 1 1133.6 1368.3L1138.7 1373.1A179.5 179.5 0 0 0 1090.9 1483.9Z" fill="#a9a9a9"/>
<path d="M1135.2 1366.7A186.5 186.5 0 0 1 1181.0 1331.6L1184.4 1337.8A179.5 179.5 0 0 0 1140.2 1371.5Z" fill="#a9a9a9"/>
<path d="M1183.0 1330.5A186.5 186.5 0 0 1 1201.3 1322.1L1203.9 1328.6A179.5 179.5 0 0 0 1186.3 1336.7Z" fill="#a9a9a9"/>
<path d="M1203.2 1321.4A186.5 186.5 0 0 1 1221.7 1315.4L1223.5 1322.1A179.5 179.5 0 0 0 1205.7 1327.9Z" fill="#a9a9a9"/>
<path d="M1223.6 1314.9A186.5 186.5 0 0 1 1242.8 1311.0L1243.8 1317.9A179.5 179.5 0 0 0 1225.4 1321.6Z" fill="#a9a9a9"/>
<path d="M1244.7 1310.7A186.5 186.5 0 0 1 1263.8 1309.1L1264.0 1316.1A179.5 179.5 0 0 0 1245.6 1317.7Z" fill="#a9a9a9"/>
<path d="M1265.8 1309.0A186.5 186.5 0 0 1 1284.6 1309.6L1284.1 1316.6A179.5 179.5 0 0 0 1265.9 1316.0Z" fill="#a9a9a9"/>
<path d="M1286.6 1309.7A186.5 186.5 0 0 1 1358.4 1331.3L1355.1 1337.5A179.5 179.5 0 0 0 1286.0 1316.7Z" fill="#a9a9a9"/>
<path d="M1360.4 1332.4A186.5 186.5 0 0 1 1443.6 1427.5L1437.1 1430.0A179.5 179.5 0 0 0 1357.0 1338.5Z" fill="#a9a9a9"/>
<path d="M1444.5 1429.6A186.5 186.5 0 0 1 1456.1 1483.5L1449.1 1483.9A179.5 179.5 0 0 0 1437.9 1432.1Z" fill="#a9a9a9"/>
<path d="M1455.3 1516.3A186.5 186.5 0 0 1 1452.6 1533.6L1445.7 1532.2A179.5 179.5 0 0 0 1448.4 1515.5Z" fill="#a9a9a9"/>
<path d="M1452.0 1536.2A186.5 186.5 0 0 1 1446.9 1554.7L1440.2 1552.5A179.5 179.5 0 0 0 1445.2 1534.7Z" fill="#a9a9a9"/>
<path d="M1446.0 1557.1A186.5 186.5 0 0 1 1279.8 1681.7L1279.4 1674.8A179.5 179.5 0 0 0 1439.4 1554.8Z" fill="#870f19"/>
<path d="M1277.5 1681.8A186.5 186.5 0 0 1 1119.1 1605.1L1124.8 1601.0A179.5 179.5 0 0 0 1277.2 1674.9Z" fill="#5082e6"/>
<path d="M1118.0 1603.5A186.5 186.5 0 0 1 1099.2 1570.5L1105.6 1567.6A179.5 179.5 0 0 0 1123.7 1599.5Z" fill="#a9a9a9"/>
<path d="M1098.3 1568.4A186.5 186.5 0 0 1 1084.5 1515.0L1091.5 1514.3A179.5 179.5 0 0 0 1104.8 1565.6Z" fill="#28a05a"/>
<text x="1166.8" y="1266.4" font-size="28" textLength="190.7" lengthAdjust="spacingAndGlyphs">COR12 (<tspan font-style="italic">n</tspan> = 30)</text>
<text x="1009" y="1353" font-size="28" font-style="italic" textLength="122.6" lengthAdjust="spacingAndGlyphs">TRAV12-1</text>
<text x="1313.4" y="1307" font-size="28" font-style="italic" textLength="108" lengthAdjust="spacingAndGlyphs">TRAV8-2</text>
<text x="1417" y="1356.6" font-size="28" font-style="italic" textLength="108.2" lengthAdjust="spacingAndGlyphs">TRAV8-4</text>
<text x="1396.7" y="1659.6" font-size="28" font-style="italic" textLength="122.7" lengthAdjust="spacingAndGlyphs">TRBV20-1</text>
<text x="1070.8" y="1688.9" font-size="28" font-style="italic" textLength="122.2" lengthAdjust="spacingAndGlyphs">TRBV24-1</text>
<text x="1621.9" y="1385.9" font-size="28" fill="#c00000" font-style="italic" textLength="120.9" lengthAdjust="spacingAndGlyphs">TRBV20-1</text>
<text x="1621.9" y="1427.9" font-size="28" fill="#0066cc" font-style="italic" textLength="120.9" lengthAdjust="spacingAndGlyphs">TRBV24-1</text>
<text x="1621.9" y="1469.9" font-size="28" fill="#00af50" font-style="italic" textLength="105.9" lengthAdjust="spacingAndGlyphs">TRBV6-1</text>
</svg>
</body></html>
